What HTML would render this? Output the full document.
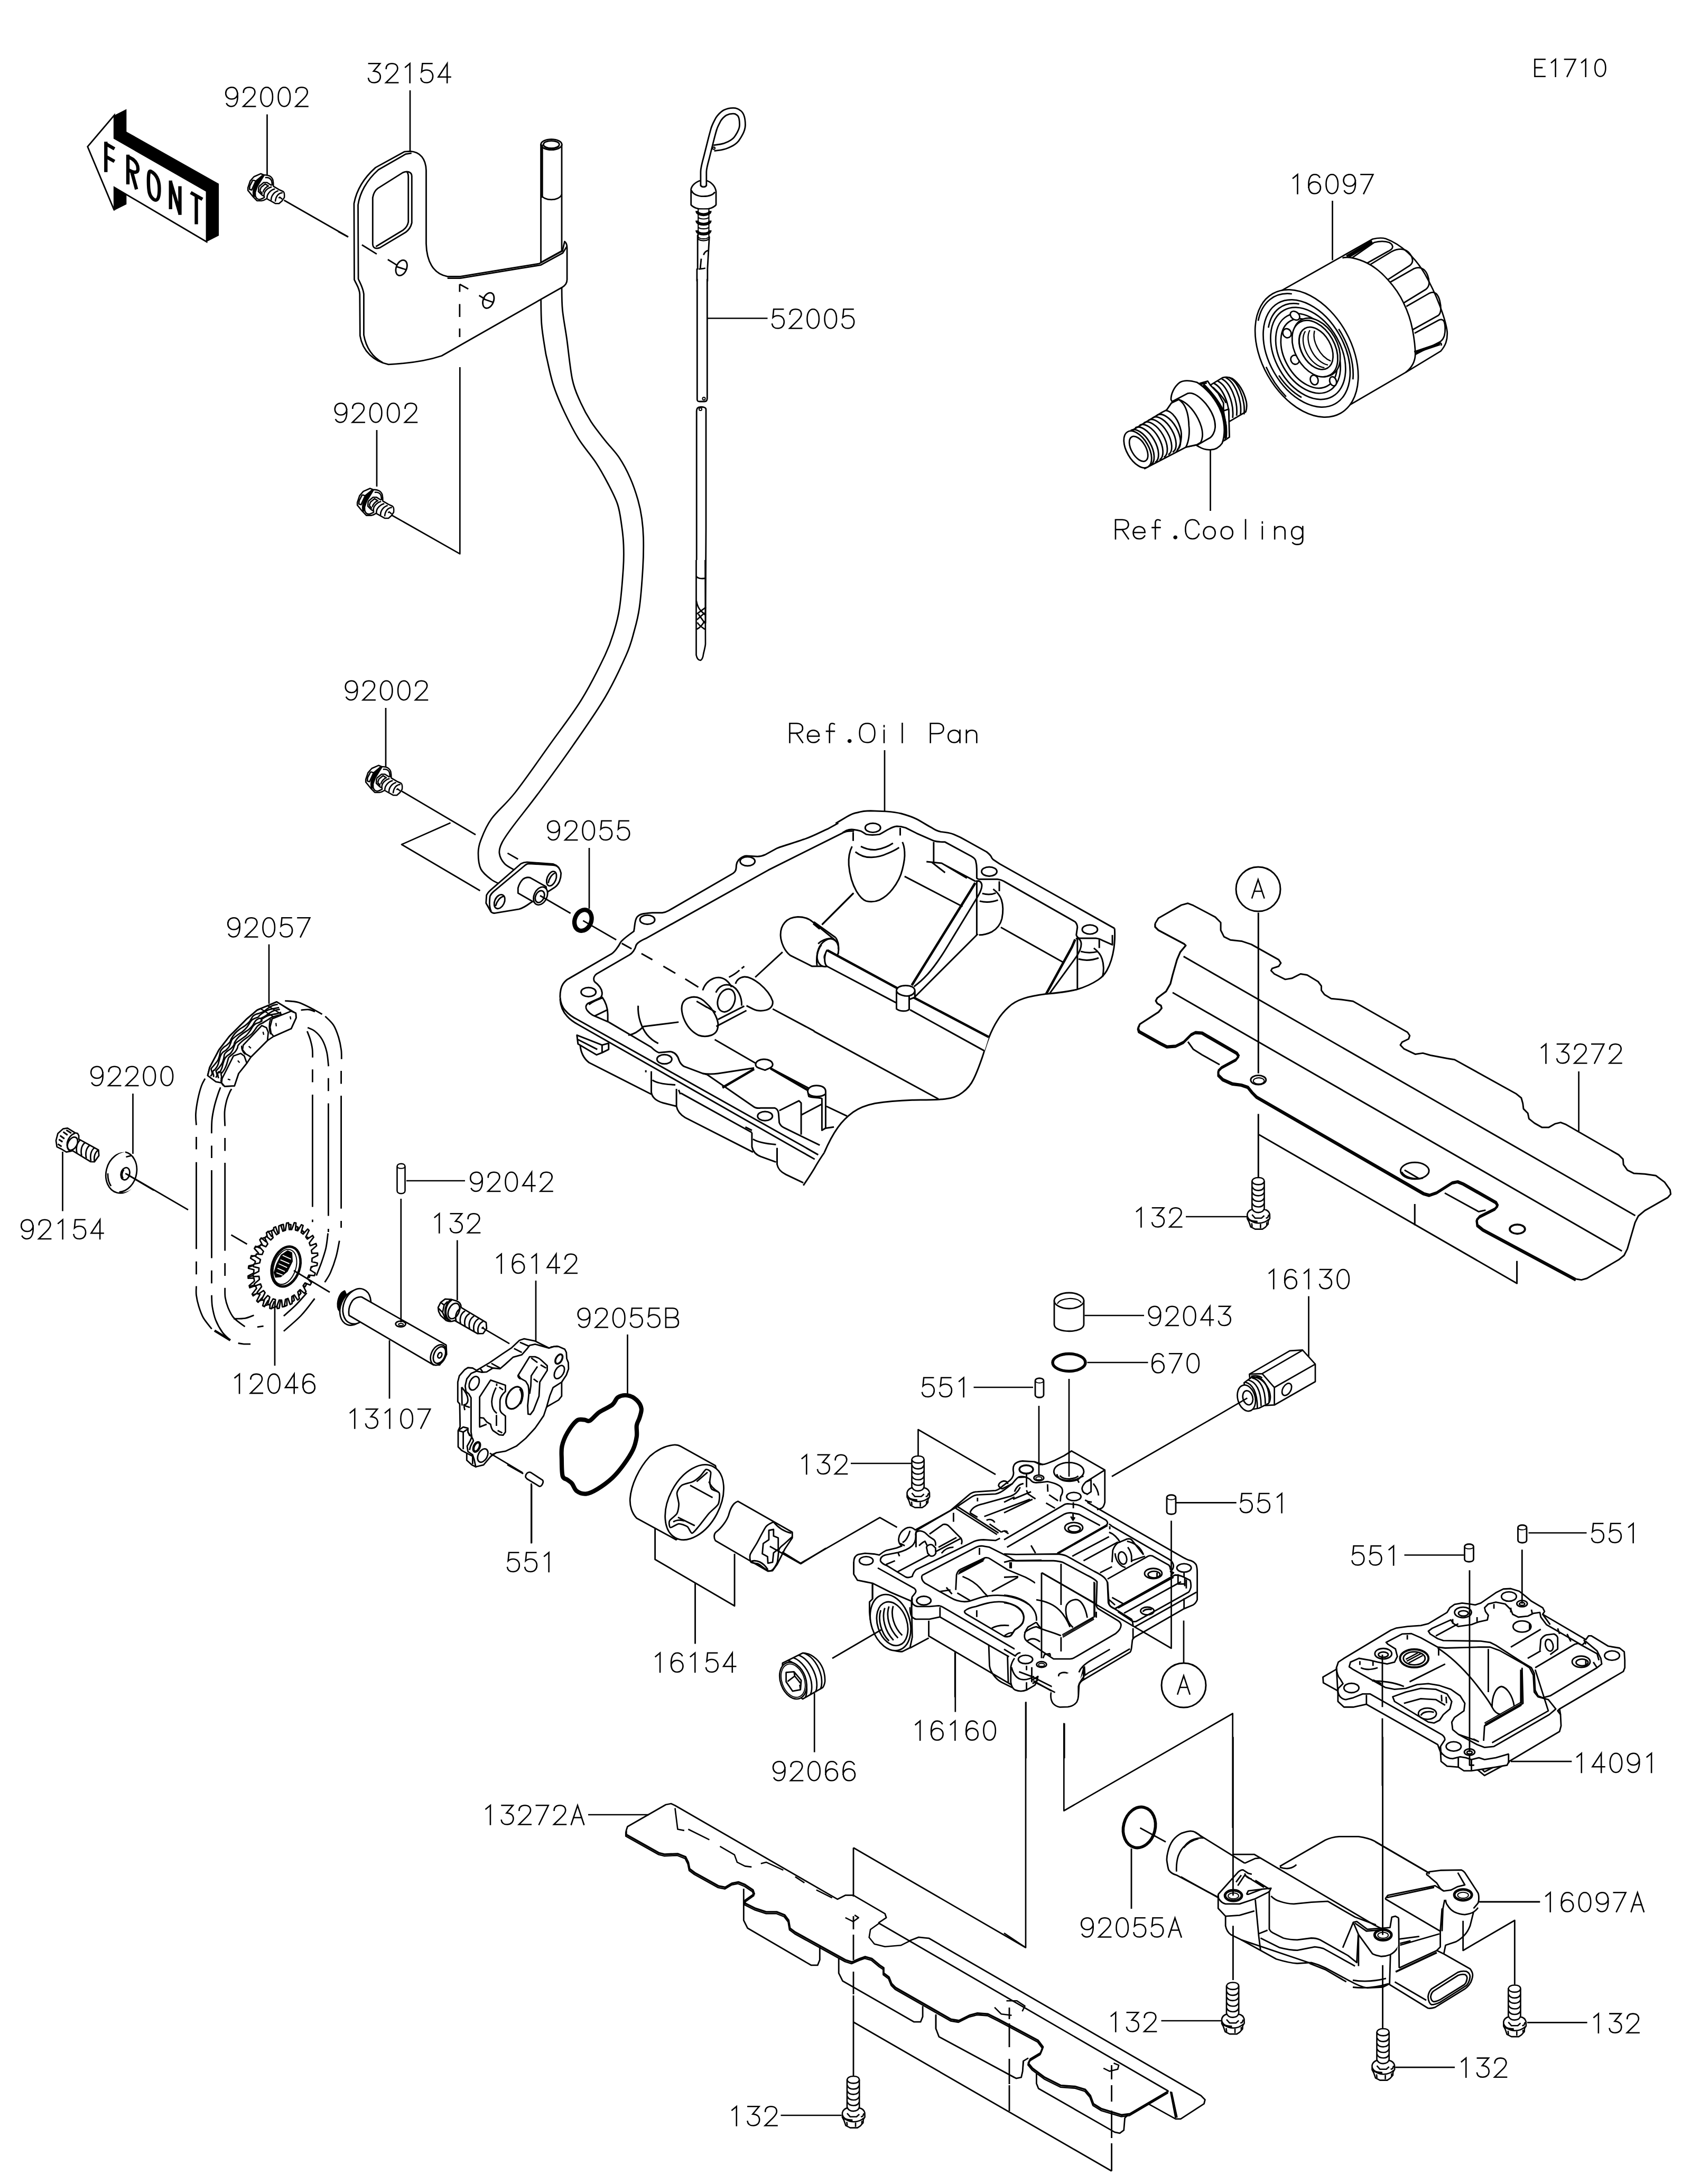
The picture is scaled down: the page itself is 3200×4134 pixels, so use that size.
<!DOCTYPE html>
<html><head><meta charset="utf-8"><title>E1710 parts diagram</title>
<style>html,body{margin:0;padding:0;background:#fff}svg{display:block}</style></head>
<body><svg width="3200" height="4134" viewBox="0 0 3200 4134" fill="none" stroke="#000" stroke-width="2.8" stroke-linecap="butt" stroke-linejoin="round" font-family="Liberation Sans, sans-serif">
<rect x="0" y="0" width="3200" height="4134" fill="#fff" stroke="none"/>
<!-- 00_defs.svg -->

<!-- 01_front.svg -->
<!-- FRONT arrow: origin(140,180) scale 5.6367 -->
<g transform="translate(140 180) scale(0.17741)" stroke-width="16" stroke-linejoin="miter">
<path fill="#000" stroke="none" d="M430,215 L560,150 L560,390 L1545,945 L1545,1500 L1415,1565 L1415,1025 L430,460 Z"/>
<path fill="#000" stroke="none" d="M430,985 L560,1060 L560,1165 L430,1230 Z"/>
<path fill="#fff" d="M145,550 L430,215 L430,460 L1415,1025 L1415,1565 L430,985 L430,1230 Z"/>
<g stroke-width="36" stroke-linejoin="miter" stroke-linecap="butt">
<path d="M340,498 V822 M340,520 L432,573 M340,655 L432,708"/>
<path d="M575,635 V952 M575,655 L620,680 C665,710 685,755 682,795 C680,830 640,830 600,808 L575,795 M615,815 L667,1005"/>
<path d="M818,812 C795,800 792,880 795,960 C798,1040 810,1085 850,1112 C900,1145 912,1070 910,990 C908,905 880,845 818,812Z"/>
<path d="M1030,912 V1218 M1030,925 L1130,1265 M1130,972 V1278"/>
<path d="M1245,1040 L1370,1112 M1305,1078 V1378"/>
</g>
</g>
<!-- 02_tube.py -->
<path d="M1023.6,560.0 C1023.8,568.9 1023.6,596.5 1024.9,613.6 C1026.2,630.7 1030.0,651.5 1031.7,662.6 C1033.4,673.7 1032.6,668.7 1035.2,680.0 C1037.8,691.3 1042.1,713.5 1047.6,730.3 C1053.1,747.0 1060.4,763.8 1068.3,780.5 C1076.2,797.2 1085.1,815.0 1094.9,830.8 C1104.8,846.6 1118.0,860.9 1127.4,875.2 C1136.8,889.5 1144.2,903.2 1151.1,916.5 C1158.0,929.8 1164.6,942.2 1168.8,955.0 C1173.0,967.8 1174.3,980.6 1176.2,993.4 C1178.1,1006.2 1179.5,1018.3 1180.0,1031.9 C1180.5,1045.5 1180.8,1055.3 1179.5,1075.0 C1178.2,1094.7 1175.4,1130.0 1172.5,1150.0 C1169.6,1170.0 1166.6,1180.0 1162.0,1195.0 C1157.4,1210.0 1155.3,1218.3 1145.0,1240.0 C1134.7,1261.7 1117.5,1296.7 1100.0,1325.0 C1082.5,1353.3 1060.8,1380.8 1040.0,1410.0 C1019.2,1439.2 993.3,1476.7 975.0,1500.0 C956.7,1523.3 940.8,1535.0 930.0,1550.0 C919.2,1565.0 914.2,1579.2 910.0,1590.0 C905.8,1600.8 905.0,1605.8 905.0,1615.0 C905.0,1624.2 905.8,1636.7 910.0,1645.0 C914.2,1653.3 923.7,1660.2 930.0,1665.0 C936.3,1669.8 945.0,1672.5 948.0,1674.0 L975.0,1647.5 C971.7,1645.4 960.0,1640.4 955.0,1635.0 C950.0,1629.6 945.8,1621.7 945.0,1615.0 C944.2,1608.3 945.8,1603.3 950.0,1595.0 C954.2,1586.7 958.3,1580.8 970.0,1565.0 C981.7,1549.2 1000.8,1525.8 1020.0,1500.0 C1039.2,1474.2 1064.2,1440.0 1085.0,1410.0 C1105.8,1380.0 1128.3,1348.3 1145.0,1320.0 C1161.7,1291.7 1175.8,1260.8 1185.0,1240.0 C1194.2,1219.2 1195.8,1210.0 1200.0,1195.0 C1204.2,1180.0 1207.2,1170.0 1210.0,1150.0 C1212.8,1130.0 1215.2,1096.7 1216.5,1075.0 C1217.8,1053.3 1217.9,1035.6 1217.6,1020.0 C1217.3,1004.4 1216.3,993.9 1214.6,981.6 C1212.9,969.3 1210.9,958.9 1207.2,946.1 C1203.5,933.3 1198.4,918.0 1192.5,904.7 C1186.6,891.4 1179.7,878.1 1171.8,866.3 C1163.9,854.5 1154.1,845.1 1145.2,833.8 C1136.3,822.5 1126.4,810.6 1118.5,798.3 C1110.6,786.0 1103.7,773.1 1097.8,759.8 C1091.9,746.5 1087.3,738.2 1083.1,718.4 C1078.9,698.6 1075.6,662.8 1072.5,640.8 C1069.4,618.8 1066.0,603.2 1064.4,586.4 C1062.8,569.6 1063.2,547.7 1063.0,540.0Z" fill="#fff" stroke="none"/><path d="M1023.6,560.0 C1023.8,568.9 1023.6,596.5 1024.9,613.6 C1026.2,630.7 1030.0,651.5 1031.7,662.6 C1033.4,673.7 1032.6,668.7 1035.2,680.0 C1037.8,691.3 1042.1,713.5 1047.6,730.3 C1053.1,747.0 1060.4,763.8 1068.3,780.5 C1076.2,797.2 1085.1,815.0 1094.9,830.8 C1104.8,846.6 1118.0,860.9 1127.4,875.2 C1136.8,889.5 1144.2,903.2 1151.1,916.5 C1158.0,929.8 1164.6,942.2 1168.8,955.0 C1173.0,967.8 1174.3,980.6 1176.2,993.4 C1178.1,1006.2 1179.5,1018.3 1180.0,1031.9 C1180.5,1045.5 1180.8,1055.3 1179.5,1075.0 C1178.2,1094.7 1175.4,1130.0 1172.5,1150.0 C1169.6,1170.0 1166.6,1180.0 1162.0,1195.0 C1157.4,1210.0 1155.3,1218.3 1145.0,1240.0 C1134.7,1261.7 1117.5,1296.7 1100.0,1325.0 C1082.5,1353.3 1060.8,1380.8 1040.0,1410.0 C1019.2,1439.2 993.3,1476.7 975.0,1500.0 C956.7,1523.3 940.8,1535.0 930.0,1550.0 C919.2,1565.0 914.2,1579.2 910.0,1590.0 C905.8,1600.8 905.0,1605.8 905.0,1615.0 C905.0,1624.2 905.8,1636.7 910.0,1645.0 C914.2,1653.3 923.7,1660.2 930.0,1665.0 C936.3,1669.8 945.0,1672.5 948.0,1674.0"/><path d="M1063.0,540.0 C1063.2,547.7 1062.8,569.6 1064.4,586.4 C1066.0,603.2 1069.4,618.8 1072.5,640.8 C1075.6,662.8 1078.9,698.6 1083.1,718.4 C1087.3,738.2 1091.9,746.5 1097.8,759.8 C1103.7,773.1 1110.6,786.0 1118.5,798.3 C1126.4,810.6 1136.3,822.5 1145.2,833.8 C1154.1,845.1 1163.9,854.5 1171.8,866.3 C1179.7,878.1 1186.6,891.4 1192.5,904.7 C1198.4,918.0 1203.5,933.3 1207.2,946.1 C1210.9,958.9 1212.9,969.3 1214.6,981.6 C1216.3,993.9 1217.3,1004.4 1217.6,1020.0 C1217.9,1035.6 1217.8,1053.3 1216.5,1075.0 C1215.2,1096.7 1212.8,1130.0 1210.0,1150.0 C1207.2,1170.0 1204.2,1180.0 1200.0,1195.0 C1195.8,1210.0 1194.2,1219.2 1185.0,1240.0 C1175.8,1260.8 1161.7,1291.7 1145.0,1320.0 C1128.3,1348.3 1105.8,1380.0 1085.0,1410.0 C1064.2,1440.0 1039.2,1474.2 1020.0,1500.0 C1000.8,1525.8 981.7,1549.2 970.0,1565.0 C958.3,1580.8 954.2,1586.7 950.0,1595.0 C945.8,1603.3 944.2,1608.3 945.0,1615.0 C945.8,1621.7 950.0,1629.6 955.0,1635.0 C960.0,1640.4 971.7,1645.4 975.0,1647.5"/>
<!-- 03_bracket.svg -->
<!-- bracket 32154 + tube top: origin(640,260) scale 3.676 -->
<g transform="translate(640 260) scale(0.27203)" stroke-width="10.3">
<!-- tube top behind strap -->
<path fill="#fff" d="M1410,50 V870 L1555,790 V50 Z"/>
<ellipse cx="1483" cy="50" rx="73" ry="37" fill="#fff"/>
<ellipse cx="1483" cy="50" rx="55" ry="26"/>
<path d="M1432,62 C1450,82 1515,82 1535,62"/>
<path d="M1410,398 C1430,445 1535,445 1555,398"/>
<path d="M1420,50 V420"/>
<!-- bracket plate -->
<path fill="#fff" d="M500,97 C570,100 610,150 612,230 L612,740 C615,860 660,950 760,968 L850,968 L1400,878 L1560,790 L1575,725 C1590,735 1592,750 1592,770 L1592,990 C1592,1015 1580,1030 1560,1042 L720,1520 C600,1560 450,1575 350,1580 C250,1560 170,1490 152,1380 L150,1090 C148,1050 130,1030 112,990 L110,460 C125,380 170,290 260,210 L460,100 Z"/>
<path d="M510,110 L470,116 L280,225 C195,300 150,390 138,470 L140,985 C155,1020 172,1045 178,1090 L178,1375 C195,1470 240,1530 310,1568"/>
<path d="M760,980 L850,980 L1410,888 L1562,805 L1590,760"/>
<path d="M240,420 C245,390 255,370 275,355 L450,245 C480,232 512,240 512,270 L512,595 C505,625 490,645 470,660 L290,768 C260,778 240,770 240,740 Z"/>
<path d="M478,240 C487,250 488,262 488,275 L488,588 C484,610 470,632 452,645 L262,760"/>
<ellipse cx="440" cy="908" rx="36" ry="56" transform="rotate(22 440 908)"/>
<path d="M408,900 L470,920 M345,850 L410,890"/>
<ellipse cx="1045" cy="1135" rx="36" ry="56" transform="rotate(22 1045 1135)"/>
<path d="M1012,1125 L1078,1148 M980,1100 L1020,1125"/>
<!-- dashed leaders -->
<path d="M0,655 L68,692 M165,748 L268,812"/>
<path d="M845,1022 L905,1055 M845,1022 V1075 M845,1160 V1250 M845,1330 V1390"/>
</g>
<!-- 04_dipstick.svg -->
<!-- dipstick top: origin(1280,190) scale 6.425 -->
<g transform="translate(1280 190) scale(0.15564)" stroke-width="18" stroke-linecap="butt">
<!-- loop (end -> top -> split) -->
<path d="M455,580 L540,568 C600,560 690,520 730,470 C780,400 803,350 803,300 C803,230 790,170 755,150 C735,130 720,127 690,127 C650,127 620,135 590,150 C550,175 530,200 510,230 C490,270 470,300 455,350" stroke-width="88"/>
<path d="M455,580 L540,568 C600,560 690,520 730,470 C780,400 803,350 803,300 C803,230 790,170 755,150 C735,130 720,127 690,127 C650,127 620,135 590,150 C550,175 530,200 510,230 C490,270 470,300 455,352" stroke="#fff" stroke-width="52"/>
<circle cx="455" cy="582" r="14" fill="#fff" stroke-width="14"/>
<!-- cap -->
<path fill="#fff" d="M178,1080 C185,1040 230,990 295,975 L365,975 C430,995 475,1050 482,1110 L482,1270 C460,1300 400,1325 330,1325 C260,1325 200,1300 178,1270 Z"/>
<path d="M183,1095 C200,1140 260,1167 330,1167 C400,1167 450,1145 468,1115"/>
<!-- stem -->
<path d="M457,345 C440,400 420,480 410,520 L365,700 C340,790 330,830 330,870 L330,1040" stroke-width="88"/>
<path d="M458,340 C440,400 420,480 410,520 L365,700 C340,790 330,830 330,870 L330,1040" stroke="#fff" stroke-width="52"/>
<path d="M295,1030 C300,1060 360,1060 365,1030"/>
<!-- shaft below ribs -->
<path fill="#fff" d="M250,2200 V2052 H258 V1640 L400,1660 L378,2050 V2200"/>
<path d="M330,1880 C340,1850 355,1832 385,1825 M302,1925 L290,2045 M272,2052 C300,2048 330,2046 352,2040"/>
<!-- ribs -->
<path fill="#fff" stroke-width="14" d="M265,1320 V1690 C300,1712 360,1712 395,1690 V1320Z"/>
<g stroke-width="36" fill="none">
<path d="M250,1345 C250,1405 410,1405 410,1345"/>
<path d="M250,1462 C250,1522 410,1522 410,1462"/>
<path d="M250,1580 C250,1640 410,1640 410,1580"/>
</g>
<path d="M268,1425 C290,1448 370,1448 392,1425 M268,1545 C290,1568 370,1568 392,1545 M268,1665 C290,1690 370,1690 392,1665" stroke-width="14"/>
</g>
<!-- dipstick blade middle (src coords) -->
<path fill="#fff" d="M1319.3,528 V756 C1319.3,759.5 1321,760 1324,760 H1333 C1337,760 1338.3,758 1338.3,754 V528"/>
<circle cx="1332" cy="754.5" r="2.6" stroke-width="2"/>
<path fill="#fff" d="M1318.2,1180 V778 C1318.2,772 1321,770.5 1325,770.3 C1330,770 1336,771 1336,775 V1000 L1335,1180"/>
<circle cx="1325.5" cy="774.5" r="2.6" stroke-width="2"/>
<!-- dipstick tip: origin(1260,1060) scale 10.4 -->
<g transform="translate(1260 1060) scale(0.09615)" stroke-width="28">
<path fill="#fff" d="M598,0 V1870 C610,1930 640,1975 680,1975 C715,1965 730,1930 740,1850 C760,1760 778,1700 780,1650 L775,0"/>
<path d="M600,318 C620,365 700,372 770,360"/>
<path d="M600,800 C615,880 640,950 690,1000 L785,1090 M790,930 L610,1062 M640,1065 L770,1245 M612,1175 L765,1040 M620,1230 C650,1290 720,1330 770,1365 M610,1362 C680,1330 730,1260 762,1200"/>
</g>
<!-- 05_filter.svg -->
<!-- oil filter 16097: origin(2340,420) scale 3.843 -->
<g transform="translate(2340 420) scale(0.26021)" stroke-width="10.5">
<!-- body silhouette -->
<path fill="#fff" d="M270,532 L990,125 C1030,115 1060,115 1085,122 C1200,165 1300,260 1370,380 C1450,520 1520,700 1532,800 C1535,860 1520,900 1485,940 L1230,1095 L747,1376 Z"/>
<!-- grip boundary arc -->
<path d="M770,262 C800,255 820,258 840,262 C880,270 915,282 950,300 C1010,330 1060,375 1100,420 C1150,475 1190,535 1215,590 C1245,650 1268,720 1280,785 C1292,850 1300,910 1300,965 C1298,1020 1275,1060 1230,1095"/>
<!-- flutes -->
<path d="M840,262 L1000,150 C1040,140 1080,140 1110,150 C1130,160 1140,175 1132,192 C1125,202 1115,208 1100,215 L950,300"/>
<path d="M970,312 L1130,215 C1160,200 1195,195 1222,203 C1255,215 1280,250 1280,285 C1278,300 1272,308 1262,316 L1100,420"/>
<path d="M1115,440 L1290,340 C1315,330 1340,332 1360,345 C1385,365 1402,410 1400,450 C1398,468 1390,480 1378,490 L1215,590"/>
<path d="M1235,615 L1400,520 C1420,510 1440,512 1452,522 C1475,545 1488,600 1485,640 C1483,660 1478,672 1468,680 L1280,785"/>
<path d="M1295,810 L1470,715 C1485,708 1500,710 1508,722 C1518,745 1520,790 1512,825 C1506,848 1495,862 1480,872 L1300,965"/>
<path d="M1292,945 L1478,882 C1488,880 1492,888 1488,900"/>
<path d="M800,250 L985,140 M815,255 L990,150 M1300,950 L1480,890" stroke-width="16"/>
<!-- front face -->
<g transform="translate(510 957) rotate(60.5)">
<ellipse cx="0" cy="0" rx="500" ry="325" fill="#fff"/>
<ellipse cx="0" cy="0" rx="421" ry="274"/>
<ellipse cx="5" cy="-9" rx="360" ry="238"/>
<ellipse cx="5" cy="-9" rx="312" ry="205"/>
<ellipse cx="8" cy="-15" rx="272" ry="178"/>
<path d="M-380,190 A470,300 0 0,1 -430,-120 M200,285 A480,305 0 0,1 -60,305 M-40,-290 A450,290 0 0,1 330,-200 M-300,150 A395,255 0 0,1 -340,-130 M40,255 A390,255 0 0,0 260,190" />
</g>
<!-- holes -->
<g fill="#fff">
<ellipse cx="425" cy="682" rx="38" ry="28" transform="rotate(40 425 682)"/>
<ellipse cx="367" cy="810" rx="34" ry="30" transform="rotate(60 367 810)"/>
<ellipse cx="425" cy="1003" rx="34" ry="30" transform="rotate(60 425 1003)"/>
<ellipse cx="565" cy="1150" rx="36" ry="28" transform="rotate(70 565 1150)"/>
<ellipse cx="702" cy="1160" rx="34" ry="24" transform="rotate(70 702 1160)"/>
</g>
<!-- boss -->
<g transform="translate(582 912) rotate(60.5)">
<ellipse cx="0" cy="0" rx="228" ry="150" fill="#fff"/>
</g>
<g transform="translate(570 922) rotate(60.5)">
<ellipse cx="0" cy="0" rx="221" ry="144" fill="#fff"/>
<ellipse cx="2" cy="-8" rx="166" ry="107"/>
<path d="M-150,30 A164,104 0 0,0 150,40 M-145,-2 A160,100 0 0,0 155,8 M-135,-34 A155,95 0 0,0 150,-24 M-115,-62 A150,90 0 0,0 135,-56" stroke-width="9"/>
</g>
</g>
<!-- 06_fitting.py -->
<g transform="translate(2100 690) scale(0.16559)" stroke-width="17">
<path fill="#fff" d="M1150,235 L1290,150 C1330,140 1370,145 1400,160 C1470,210 1530,300 1560,420 C1570,470 1565,510 1555,540 L1370,650 Z"/>
<path d="M1190,215 C1280,255 1380,445 1360,635"/>
<path d="M1235,190 C1325,230 1425,420 1405,610"/>
<path d="M1280,165 C1370,205 1470,395 1450,585"/>
<path d="M1325,150 C1415,190 1515,380 1495,570"/>
<path d="M1365,150 C1455,190 1555,380 1535,570"/>
<path d="M1230,310 C1270,350 1310,400 1330,440 M1180,260 L1230,310"/>
<path fill="#fff" d="M1030,215 L1120,190 L1150,235 L1240,330 L1300,440 L1300,530 L1360,510 L1368,830 L1320,862 L1250,900 L1000,300 Z"/>
<path d="M1300,530 L1330,700 L1320,862 M1040,225 L1110,210 M1075,225 C1150,300 1250,420 1300,530" />
<path d="M1060,240 C1150,320 1240,440 1290,560 C1320,640 1335,740 1325,840" stroke-width="30"/>
<path fill="#fff" d="M700,400 C700,340 730,260 800,205 C840,180 900,175 1000,205 C1120,280 1230,420 1280,560 C1315,680 1320,800 1285,900 C1250,950 1200,975 1150,975 C1110,975 1060,965 1020,940 L985,920 Z"/>
<path fill="#fff" d="M720,420 L890,330 C960,310 1040,380 1100,450 C1170,540 1210,640 1205,720 C1200,780 1170,820 1150,835 L1010,915 L870,945 Z"/>
<path fill="#fff" d="M600,545 L650,520 L705,440 L790,400 C860,420 950,500 1010,620 C1060,720 1075,820 1040,890 L1000,915 L870,945 L400,1190 L260,750 Z"/>
<path d="M790,400 C850,440 900,520 905,700 C915,780 905,880 870,945"/>
<path d="M640,525 C720,535 790,640 815,760 C830,850 800,950 760,1000"/>
<path transform="translate(354.6 950.0) rotate(60)" d="M-228,0 A228,118 0 0,1 228,0"/>
<path transform="translate(404.9 921.0) rotate(60)" d="M-228,0 A228,118 0 0,1 228,0"/>
<path transform="translate(455.1 892.0) rotate(60)" d="M-228,0 A228,118 0 0,1 228,0"/>
<path transform="translate(505.3 863.0) rotate(60)" d="M-228,0 A228,118 0 0,1 228,0"/>
<path transform="translate(555.6 834.0) rotate(60)" d="M-228,0 A228,118 0 0,1 228,0"/>
<path transform="translate(605.8 805.0) rotate(60)" d="M-228,0 A228,118 0 0,1 228,0"/>
<path transform="translate(656.0 776.0) rotate(60)" d="M-228,0 A228,118 0 0,1 228,0"/>
<ellipse transform="translate(320.0 970.0) rotate(60)" rx="232" ry="125" fill="#fff"/>
<ellipse transform="translate(330.4 964.0) rotate(60)" rx="158" ry="82"/>
</g>
<!-- 07_flange.svg -->
<!-- tube flange + o-ring 92055: origin(880,1560) scale 5.284 -->
<g transform="translate(880 1560) scale(0.18925)" stroke-width="15">
<path fill="#fff" d="M210,790 L215,710 C225,690 240,672 255,660 L560,395 C585,382 600,380 620,380 L880,398 C920,410 950,440 960,490 C960,520 955,545 945,570 C935,595 920,615 900,630 L830,675 L650,790 C610,820 570,842 540,850 L300,890 C280,892 265,885 255,870 Z"/>
<path d="M245,800 C245,770 246,745 250,720 C258,700 272,685 290,670 L590,420 C605,405 620,396 640,395 L880,410 C910,412 930,425 940,440"/>
<path d="M245,800 C247,830 252,855 262,872"/>
<ellipse cx="865" cy="545" rx="44" ry="76" transform="rotate(22 865 545)"/>
<path d="M832,590 C840,540 870,500 900,490" />
<ellipse cx="345" cy="775" rx="48" ry="74" transform="rotate(25 345 775)"/>
<path d="M305,820 C318,770 350,730 385,722"/>
<!-- boss -->
<path fill="#fff" d="M530,690 L530,640 C540,600 560,570 580,550 C600,535 630,530 650,535 L810,625 L820,700 L760,800 L680,775 Z"/>
<ellipse cx="755" cy="718" rx="64" ry="94" transform="rotate(25 755 718)" fill="#fff"/>
<ellipse cx="748" cy="725" rx="42" ry="62" transform="rotate(25 748 725)"/>
<path d="M425,290 L530,350"/>
<path d="M750,715 L1055,892"/>
<!-- o-ring -->
<ellipse cx="1180" cy="962" rx="82" ry="108" transform="rotate(22 1180 962)" stroke-width="44" fill="#fff"/>
<path d="M1180,965 L1512,1157"/>
</g>
<!-- 08_oilpan.svg -->
<!-- oil pan left part P1: origin(1040,1560) scale 2.4157 -->
<g transform="translate(1040 1560) scale(0.41396)" stroke-width="7.2">
<!-- rim outer upper-left -->
<path d="M48,790 C48,770 52,745 62,730 C70,718 80,710 90,705 L280,595 C295,588 315,560 325,540 C335,525 365,505 385,490 C390,470 388,440 400,425 C410,412 425,408 470,405 L515,405 C530,403 540,398 545,395 L830,230 C845,222 852,215 853,200 C853,180 860,165 870,158 C880,150 890,145 900,145 L950,148 C965,148 975,145 985,140 L1040,110 C1080,95 1120,85 1160,70 C1200,58 1240,35 1275,20 L1320,-5"/>
<!-- rim inner upper-left -->
<path d="M205,720 C198,705 205,692 215,685 L365,598 C378,590 392,572 395,555 C398,545 410,535 445,520 L1000,210 L1340,40 C1355,32 1370,30 1392,32"/>
<!-- corner boss wrap -->
<path d="M205,720 C225,735 238,750 240,770 C241,782 238,790 230,795 L175,820 C165,828 163,840 172,852 C180,862 190,870 200,875 L270,905"/>
<path d="M240,790 C258,815 266,840 266,870 L266,905 M205,878 L262,850 M180,825 C200,808 225,800 240,795"/>
<!-- holes -->
<g fill="#fff">
<ellipse cx="178" cy="768" rx="34" ry="21"/><ellipse cx="447" cy="437" rx="34" ry="21"/><ellipse cx="905" cy="170" rx="34" ry="21"/>
<ellipse cx="525" cy="1075" rx="34" ry="21"/><ellipse cx="985" cy="1335" rx="34" ry="21"/>
</g>
<!-- left corner + lower-left rim -->
<path d="M48,790 C50,815 58,838 72,852 C85,868 100,880 130,895 L1160,1473 L1228,1512"/>
<path d="M48,800 C50,830 58,855 80,878 C95,895 110,905 130,916 L1150,1497 L1212,1532"/>
<!-- rim inner lower-left edge -->
<path d="M270,905 L465,1020 C475,1030 485,1040 500,1045 L550,1040 C570,1042 585,1055 592,1080 C598,1095 605,1102 615,1108 L700,1140 L720,1145 L930,1290 C940,1298 950,1300 965,1298 L1030,1298 C1042,1302 1046,1312 1047,1325 L1050,1365 C1055,1378 1062,1384 1072,1388 L1235,1468"/>
<!-- inner details -->
<path d="M405,830 C402,880 420,930 445,962 C460,980 475,992 497,1003"/>
<path d="M360,965 C385,962 405,950 430,925 L590,905"/>
<path d="M700,1140 C730,1145 750,1143 770,1140 L935,1115"/>
<path d="M755,985 L945,1095 M1020,845 L1210,946 M940,700 L1065,585 M1245,460 L1390,315"/>
<path d="M790,1205 L935,1120 M1010,1117 L1182,1217" stroke-width="11"/>
<path d="M1000,1110 L1190,1210" />
<!-- small bosses -->
<path fill="#fff" d="M942,1100 C942,1085 960,1075 980,1075 C1002,1075 1020,1085 1020,1100 C1020,1108 1012,1114 1000,1118 L985,1125 L965,1118 C950,1114 942,1108 942,1100Z"/>
<path fill="#fff" d="M1180,1222 C1180,1205 1198,1195 1220,1195 C1245,1195 1262,1205 1262,1222 L1262,1390 L1245,1400 L1245,1255 C1235,1250 1200,1252 1185,1245 Z"/>
<path d="M1182,1232 C1195,1248 1240,1250 1260,1235"/>
<path d="M1050,1310 L1140,1265 L1150,1275 L1150,1420 M1150,1330 L1245,1280 M1265,1290 L1360,1335 M1262,1390 L1300,1385"/>
<!-- drain boss cluster -->
<path fill="#fff" d="M605,830 C610,805 630,792 660,790 C680,790 700,800 720,822 C745,845 765,880 770,910 C772,940 760,958 740,965 C720,972 700,972 680,965 C650,950 625,920 612,885 C605,865 602,848 605,830Z"/>
<path fill="#fff" d="M850,730 C855,712 870,700 890,698 C910,697 935,710 960,730 C990,755 1012,785 1020,810 C1022,830 1010,845 990,850 C970,855 950,855 930,845 L900,830"/>
<path d="M700,760 C708,735 725,715 750,705 C770,698 790,702 805,712 C818,722 826,732 832,745"/>
<path d="M820,700 C840,690 855,680 868,668 M878,660 L890,650" />
<ellipse cx="808" cy="806" rx="38" ry="54" transform="rotate(20 808 806)" fill="#fff"/>
<path d="M760,770 C775,740 800,728 830,738 C860,750 880,790 878,830"/>
<path d="M770,893 L890,832 M762,925 L900,852 M672,810 L760,860 M690,820 L720,838" />
<!-- big cylinder boss + pipe -->
<path fill="#fff" d="M1075,450 C1090,432 1110,425 1135,424 C1160,424 1185,432 1200,445 L1305,530 L1320,590 L1250,650 L1200,650 L1100,600 C1075,580 1058,545 1056,510 C1055,485 1062,465 1075,450Z"/>
<ellipse cx="1272" cy="588" rx="46" ry="66" transform="rotate(22 1272 588)" fill="#fff"/>
<path fill="#fff" d="M1265,590 L1600,770 L1595,808 L1262,625 C1252,612 1255,598 1265,590Z"/>
<path d="M1268,588 L1600,768" stroke-width="11"/>
<path d="M1205,455 L1235,480" />
<!-- exterior lower-left -->
<path fill="#fff" d="M125,965 L240,1010 L270,1002 L270,1030 L240,1045 L215,1055 L130,1005 Z"/>
<path d="M240,1010 L240,1045 M130,985 L218,1030"/>
<path d="M140,1010 C142,1040 155,1070 180,1090 L465,1235"/>
<path d="M465,1130 L465,1225 C468,1250 485,1265 520,1275 L580,1290 M580,1210 L580,1290 C585,1315 600,1330 620,1342 L930,1500"/>
<path d="M925,1410 L925,1475 C930,1500 945,1512 965,1520 L1035,1545 M1040,1480 L1040,1555 C1045,1580 1060,1592 1080,1602 L1160,1640"/>
<path d="M470,1170 C490,1185 530,1190 575,1192 M930,1440 C950,1455 1000,1462 1035,1465 M600,1230 L925,1410" />
<path d="M440,1125 L440,1135 M590,1215 L598,1235 M895,1385 L925,1400" />
</g>
<g transform="translate(1040 1560) scale(0.41396)" stroke-width="7.2">
<path d="M1256,1502 C1240,1525 1225,1548 1210,1575 C1192,1605 1175,1630 1160,1652"/>
<path d="M330,545 L375,570 M420,592 L470,620 M520,650 L575,682 M620,708 L680,745"/>
</g>
<!-- oil pan right part P2: origin(1540,1480) scale 2.4157 -->
<g transform="translate(1540 1480) scale(0.41396)" stroke-width="7.2">
<path d="M100,190 L150,160 C170,148 185,142 200,140 C220,134 240,132 260,132 L330,135 C355,137 380,140 400,145 C425,152 450,160 470,170 C495,183 520,200 540,210 C555,220 565,225 580,228 C600,230 620,232 640,240 C660,248 680,258 700,270 L790,320 C800,328 806,334 810,340 C813,348 816,352 820,355 L850,375 L1375,670"/>
<path d="M1375,670 C1377,700 1376,730 1372,760 C1366,800 1355,835 1340,862 C1330,880 1318,893 1300,905 C1270,925 1235,940 1200,950 C1150,962 1105,966 1060,970 C1020,975 985,982 960,990 C930,1000 908,1012 890,1030 C868,1050 852,1070 840,1090 C822,1118 810,1145 800,1170 C788,1200 780,1230 770,1260 C758,1295 745,1330 730,1360 C718,1385 700,1405 680,1420 C658,1438 630,1447 600,1450 C550,1455 500,1454 450,1455 C390,1457 330,1462 280,1470 C240,1478 208,1490 180,1510 C150,1532 128,1555 110,1580 C85,1615 65,1655 48,1695"/>
<!-- rim inner upper -->
<path d="M132,232 L150,222 C160,218 170,217 180,218 C195,220 205,222 215,225 C225,230 232,236 240,240 C260,244 280,243 300,240 C318,232 330,222 345,215 C358,208 368,204 380,203 C395,203 408,206 420,210 L470,235 L550,270 C568,275 582,274 600,275 L720,340 C730,346 738,352 740,360 C744,375 745,388 745,400 L745,440 C750,446 755,446 760,445 L840,445 C852,446 862,450 870,455 L1195,640 C1202,648 1205,656 1205,665 L1200,700 C1203,710 1208,714 1215,715 L1290,715 C1302,716 1312,720 1320,725 L1365,745 L1365,700"/>
<g fill="#fff"><ellipse cx="270" cy="210" rx="35" ry="21"/><ellipse cx="802" cy="410" rx="35" ry="21"/><ellipse cx="1262" cy="675" rx="35" ry="21"/></g>
<!-- tall boss -->
<path d="M180,230 L180,270 M395,210 L395,245"/>
<path d="M175,295 C162,320 158,350 160,380 C164,425 178,470 195,500 C210,525 225,540 240,545 C262,550 282,548 300,540 C325,528 345,510 360,490 C382,462 398,430 405,400 C413,370 417,345 415,320 C414,300 410,285 405,275"/>
<path d="M190,320 C215,340 240,346 265,345 C290,344 315,338 335,328 C355,320 375,310 390,300 M215,295 C240,308 260,312 285,310 C315,305 340,295 362,280"/>
<path d="M415,432 L680,570 M548,275 L548,365 M515,365 L585,372 L700,440 M540,368 L600,415 M590,375 L740,455 M40,650 L180,510 M0,640 L100,712"/>
<!-- baffle 1 -->
<path d="M738,462 L715,500 L448,930" stroke-width="11"/>
<path d="M742,458 C752,448 765,455 768,470 C770,490 755,515 740,540 L600,770 C572,815 545,852 520,880 C500,902 480,920 458,936"/>
<!-- boss 2 -->
<path d="M745,450 L745,700 M848,455 L848,500"/>
<path d="M820,490 C840,505 852,520 858,540 C866,565 866,595 860,625 C854,650 840,670 815,685 C795,695 775,700 755,700"/>
<path d="M770,510 C790,516 815,515 832,508 M758,545 C785,552 815,550 842,540"/>
<path d="M750,695 L460,985 M855,665 L1140,825"/>
<!-- baffle 2 -->
<path d="M1195,720 L1180,755 L1062,970" stroke-width="11"/>
<path d="M1198,718 C1208,712 1218,718 1222,735 C1225,755 1215,775 1200,800 L1078,968"/>
<!-- boss 3 -->
<path d="M1205,715 L1205,945 M1305,720 L1305,760"/>
<path d="M1280,760 C1300,775 1312,790 1318,810 C1326,835 1326,865 1320,892"/>
<path d="M1220,775 C1245,782 1275,782 1300,775 M1210,810 C1240,818 1275,815 1302,805"/>
<!-- small cylinder + pipe -->
<path fill="#fff" d="M60,770 L385,945 L380,1012 L60,843 C45,830 48,790 60,770Z"/>
<path d="M62,770 L385,945" stroke-width="11"/>
<path d="M100,712 C112,730 115,745 112,765 M20,740 C35,725 60,715 90,716 M15,840 C10,810 15,770 35,745"/>
<path fill="#fff" d="M440,985 L800,1168 L780,1232 L438,1042 Z" stroke="none"/>
<path d="M455,985 L800,1167" stroke-width="11"/>
<path d="M440,1042 L780,1230"/>
<path fill="#fff" d="M378,955 C378,940 396,931 420,931 C444,931 462,940 462,955 L462,985 L436,995 L436,1040 C425,1052 392,1050 378,1038 Z"/>
<path d="M378,957 C385,975 420,982 436,978 C450,975 458,968 462,958 M436,980 L436,1040"/>
<path d="M0,1140 L570,1450"/>
<!-- bottom left from P1 continuing: boss right (P1 1220,1215) appears at (12,1408) -->
</g>
<!-- 09_plate13272.py -->
<g transform="translate(2130 1680) scale(0.41396)" stroke-width="7.2">
<path d="M285,705 L310,740 L350,765 L430,810"/>
<path d="M1459,1397 L1614,1482 L1646,1475"/>
<path d="M135,165 L150,140 L255,80 L285,72 L310,82 L410,135 L435,160 L435,195 L450,225 L480,240 L530,245 L575,260 L700,330 L710,345 L700,360 L670,370 L665,380 L680,395 L730,420 L760,415 L800,395 L830,400 L880,430 L895,450 L895,470 L910,490 L940,508 L985,512 L1040,520 L1289,662 L1299,677 L1294,692 L1264,707 L1256,720 L1272,737 L1324,762 L1359,757 L1394,767 L1474,782 L1504,787 L1784,942 L1809,962 L1816,987 L1819,1012 L1839,1032 L1844,1057 L1869,1077 L1904,1097 L1934,1097 L1964,1080 L1989,1074 L2014,1084 L2254,1222 L2274,1242 L2276,1267 L2294,1292 L2324,1307 L2374,1310 L2424,1317 L2464,1347 L2489,1382 L2492,1402 L2479,1417 L2374,1477 L2344,1502 L2329,1532 L2294,1652 L2279,1682 L2254,1702 L2109,1787 L2084,1794 L2059,1790 L2059,1790 L1634,1562 L1609,1542 L1606,1517 L1619,1502 L1689,1467 L1702,1452 L1694,1437 L1544,1352 L1519,1342 L1494,1347 L1424,1392 L1389,1404 L1364,1397 L600,955 L580,935 L560,910 L530,900 L490,895 L445,875 L425,855 L425,835 L440,820 L505,785 L518,768 L510,755 L350,662 L320,660 L300,670 L265,705 L230,722 L190,725 L160,710 L62,655 L58,640 L65,625 L150,570 L165,552 L162,540 L145,530 L138,518 L145,505 L185,475 L205,440 L215,400 L235,330 L250,295 L275,265 L268,258 L150,195 L135,180 L135,165Z" fill="#fff" stroke="none"/>
<path d="M135,165 L150,140 L255,80 L285,72 L310,82 L410,135 L435,160 L435,195 L450,225 L480,240 L530,245 L575,260 L700,330 L710,345 L700,360 L670,370 L665,380 L680,395 L730,420 L760,415 L800,395 L830,400 L880,430 L895,450 L895,470 L910,490 L940,508 L985,512 L1040,520 L1289,662 L1299,677 L1294,692 L1264,707 L1256,720 L1272,737 L1324,762 L1359,757 L1394,767 L1474,782 L1504,787 L1784,942 L1809,962 L1816,987 L1819,1012 L1839,1032 L1844,1057 L1869,1077 L1904,1097 L1934,1097 L1964,1080 L1989,1074 L2014,1084 L2254,1222 L2274,1242 L2276,1267 L2294,1292 L2324,1307 L2374,1310 L2424,1317 L2464,1347 L2489,1382 L2492,1402 L2479,1417 L2374,1477 L2344,1502 L2329,1532 L2294,1652 L2279,1682 L2254,1702 L2109,1787 L2084,1794 L2059,1790"/>
<path d="M135,165 L135,180 L150,195 L268,258 L275,265 L250,295 L235,330 L215,400 L205,440 L185,475 L145,505 L138,518 L145,530 L162,540 L165,552 L150,570 L65,625 L58,640 L62,655 L160,710 L190,725 L230,722 L265,705 L300,670 L320,660 L350,662 L510,755 L518,768 L505,785 L440,820 L425,835 L425,855 L445,875 L490,895 L530,900 L560,910 L580,935 L600,955 L1364,1397 L1389,1404 L1424,1392 L1494,1347 L1519,1342 L1544,1352 L1694,1437 L1702,1452 L1689,1467 L1619,1502 L1606,1517 L1609,1542 L1634,1562 L2059,1790" stroke-width="8"/>
<path d="M63,632 L56,647 L60,662 L158,717 L188,732 L228,729 L263,712 L298,677 L318,667 L348,669 L508,762 L516,775 L503,792 L438,827 L423,842 L423,862 L443,882 L488,902 L528,907 L558,917 L578,942 L598,962 L1362,1404 L1387,1411 L1422,1399 L1492,1354 L1517,1349 L1542,1359 L1692,1444 L1700,1459 L1687,1474 L1617,1509 L1604,1524 L1607,1549 L1632,1569 L2057,1797" stroke-width="8"/>
<path d="M265,315 L2330,1500 M215,480 L2269,1662"/>
<ellipse cx="607" cy="880" rx="35" ry="21"/><ellipse cx="609" cy="884" rx="25" ry="14" stroke-width="5"/>
<ellipse cx="1322" cy="1295" rx="65" ry="38"/><path d="M1262,1300 C1275,1325 1320,1338 1360,1328 M1275,1292 L1340,1330"/>
<ellipse cx="1791" cy="1562" rx="35" ry="21" stroke-width="9"/>
<path d="M607,115 V850 M607,1035 V1325 M610,1130 L1789,1810 V1707 M1322,1447 V1545"/>
</g>
<!-- 10_chain.py -->
<path d="M388.1,2041.7 C386.9,2044.0 383.5,2048.9 381.2,2055.4 C378.9,2061.9 376.2,2072.0 374.4,2080.8 C372.6,2089.6 371.0,2100.0 370.5,2108.1 C370.0,2116.2 371.3,2126.0 371.5,2129.6 M371.5,2152.0 V2175.4 M371.5,2199.8 V2364.3 M371.5,2387.7 V2412.2 M371.5,2434.6 C371.5,2437.4 370.7,2445.2 371.5,2451.6 C372.3,2458.0 374.0,2465.8 376.2,2472.9 C378.4,2480.0 380.6,2487.1 384.7,2494.2 C388.8,2501.3 398.0,2511.9 400.7,2515.5 M417.3,2058.3 C416.5,2060.4 414.4,2065.0 412.5,2071.0 C410.5,2077.0 407.5,2086.3 405.6,2094.4 C403.7,2102.6 402.0,2111.3 401.1,2119.8 C400.3,2128.3 400.5,2140.9 400.4,2145.2 M400.5,2168.6 V2192.0 M400.5,2215.0 V2381.4 M400.5,2404.8 V2429.3 M400.5,2451.6 C400.7,2455.2 400.5,2465.1 401.7,2472.9 C403.0,2480.7 404.9,2490.3 408.1,2498.5 C411.3,2506.6 416.3,2515.5 420.9,2521.9 C425.5,2528.3 433.3,2534.3 435.8,2536.8 M438.2,2061.3 C437.7,2062.2 436.4,2063.5 434.9,2067.1 C433.4,2070.7 430.7,2076.5 429.0,2082.7 C427.4,2088.9 425.7,2096.1 425.1,2104.2 C424.6,2112.3 425.6,2127.0 425.7,2131.5 M425.7,2154.0 V2178.4 M425.7,2201.0 V2367.5 M425.7,2391.0 V2415.0 M425.7,2437.8 C425.8,2440.8 425.3,2449.7 426.2,2455.9 C427.2,2462.1 428.9,2468.6 431.5,2475.0 C434.2,2481.4 436.9,2488.2 442.2,2494.2 C447.5,2500.2 459.9,2508.4 463.5,2511.2 M442.2,2496.3 C445.7,2496.1 457.1,2496.4 463.5,2495.3 C469.9,2494.1 477.7,2490.5 480.5,2489.5 M486.9,2511.9 L498.6,2510.2 M450.7,2542.5 L461.4,2544.2 L474.1,2544.2 M539.3,1894.4 C543.5,1894.9 556.2,1894.9 564.7,1897.3 C573.1,1899.8 582.6,1905.3 590.0,1909.0 C597.5,1912.8 606.3,1918.0 609.6,1919.8 M615.4,1923.7 C618.0,1926.4 626.8,1933.6 631.0,1940.3 C635.3,1946.9 638.3,1955.9 640.8,1963.7 C643.2,1971.5 644.8,1980.3 645.7,1987.1 C646.6,1993.9 646.2,2001.7 646.3,2004.7 M645.6,2027.0 V2051.5 M645.6,2074.0 V2287.7 M645.6,2311.0 V2324.0 M642.3,2348.4 C641.3,2353.5 638.8,2369.1 635.9,2379.2 C633.1,2389.3 628.8,2401.0 625.3,2409.0 C621.7,2417.0 616.4,2424.1 614.6,2427.1 M569.6,1912.0 C572.0,1911.8 579.8,1910.5 584.2,1911.0 C588.6,1911.5 594.0,1914.2 595.9,1914.9 M582.2,1945.1 C584.5,1946.3 591.3,1948.2 595.9,1952.0 C600.5,1955.7 605.8,1961.1 609.6,1967.6 C613.3,1974.1 616.3,1982.5 618.3,1991.0 C620.4,1999.5 621.1,2013.8 621.7,2018.3 M621.4,2040.8 V2065.2 M621.4,2088.6 V2301.5 M621.4,2326.0 V2332.0 M620.6,2334.5 C620.0,2339.1 618.8,2353.0 616.8,2362.2 C614.7,2371.4 611.3,2381.2 608.3,2389.9 C605.2,2398.6 600.3,2410.3 598.7,2414.4 M581.3,1952.0 C582.2,1954.6 585.5,1962.1 587.1,1967.6 C588.7,1973.1 590.3,1979.5 591.0,1985.1 C591.8,1990.8 591.5,1999.0 591.6,2001.7 M591.4,2024.2 V2048.6 M591.4,2072.0 V2284.5 M591.4,2308.5 V2313.2 M580.6,2447.4 C577.0,2451.3 566.6,2463.5 559.3,2470.8 C552.0,2478.0 540.7,2487.6 536.9,2491.0 M595.5,2458.0 C591.2,2463.3 579.7,2479.6 569.9,2489.9 C560.2,2500.2 542.4,2514.8 536.9,2519.7"/>
<path d="M406.0,2518.7 L435.8,2536.8" stroke-width="4.5"/>
<g transform="translate(350 1870) scale(0.19516)" stroke-width="14">
<path fill="#fff" d="M220,850 L240,770 L330,600 L430,470 L600,300 L700,215 L890,135 L1075,245 L1078,290 L1030,395 L860,470 L800,510 L640,670 L600,730 L520,830 L480,950 L385,955 L355,920 L300,910 Z"/>
<path d="M220.0,850.0 C220.8,846.7 223.3,836.7 225.0,830.0 C226.7,823.3 228.3,816.7 230.0,810.0 C231.7,803.3 233.3,796.7 235.0,790.0 C236.7,783.3 235.4,780.4 240.0,770.0 C244.6,759.6 255.0,741.7 262.5,727.5 C270.0,713.3 277.5,699.2 285.0,685.0 C292.5,670.8 300.0,656.7 307.5,642.5 C315.0,628.3 322.1,612.5 330.0,600.0 C337.9,587.5 346.7,578.3 355.0,567.5 C363.3,556.7 371.7,545.8 380.0,535.0 C388.3,524.2 396.7,513.3 405.0,502.5 C413.3,491.7 418.8,482.5 430.0,470.0 C441.2,457.5 458.3,441.7 472.5,427.5 C486.7,413.3 500.8,399.2 515.0,385.0 C529.2,370.8 543.3,356.7 557.5,342.5 C571.7,328.3 588.8,310.6 600.0,300.0 C611.2,289.4 616.7,285.8 625.0,278.8 C633.3,271.7 641.7,264.6 650.0,257.5 C658.3,250.4 666.7,243.3 675.0,236.2 C683.3,229.2 687.9,221.9 700.0,215.0 C712.1,208.1 731.7,201.7 747.5,195.0 C763.3,188.3 779.2,181.7 795.0,175.0 C810.8,168.3 826.7,161.7 842.5,155.0 C858.3,148.3 882.1,138.3 890.0,135.0"/>
<path d="M247.2,856.8 C249.6,853.8 259.0,845.6 261.5,839.1 C264.0,832.7 263.2,825.4 262.2,818.0 C261.2,810.7 256.4,801.6 255.5,795.1 C254.6,788.6 251.3,787.9 256.9,779.0 C262.5,770.0 278.9,754.3 289.1,741.6 C299.4,728.9 310.9,716.9 318.6,702.8 C326.2,688.7 330.6,672.2 335.1,657.1 C339.6,642.0 339.6,624.9 345.6,612.0 C351.6,599.2 361.2,589.5 371.2,579.9 C381.1,570.4 394.9,563.7 405.5,554.6 C416.2,545.6 427.5,536.3 435.0,525.6 C442.5,514.9 442.1,504.7 450.6,490.6 C459.0,476.4 472.4,455.7 485.7,440.7 C499.1,425.7 514.5,412.9 530.5,400.5 C546.5,388.2 566.0,378.6 581.6,366.6 C597.2,354.6 614.0,339.6 624.1,328.4 C634.3,317.2 636.2,308.8 642.4,299.3 C648.7,289.7 653.7,278.8 661.7,271.3 C669.7,263.8 681.7,258.3 690.4,254.4 C699.1,250.5 702.0,252.2 713.8,247.8 C725.7,243.5 746.4,236.8 761.6,228.4 C776.7,220.1 790.0,207.3 804.6,197.9 C819.3,188.4 833.6,178.1 849.5,171.6 C865.4,165.1 891.6,161.0 900.0,158.8"/>
<path d="M278.2,864.5 C277.9,860.9 278.0,850.3 276.8,842.9 C275.5,835.5 270.7,827.3 270.6,820.1 C270.4,813.0 273.1,804.4 276.0,800.3 C278.9,796.1 281.2,802.7 287.8,795.3 C294.3,787.8 308.3,769.9 315.4,755.5 C322.5,741.1 325.6,724.6 330.3,709.0 C335.0,693.3 337.8,675.3 343.5,661.6 C349.3,647.9 355.4,636.7 364.7,626.7 C374.0,616.7 388.9,610.9 399.3,601.6 C409.7,592.3 419.6,582.7 427.0,571.2 C434.5,559.7 438.7,544.6 443.9,532.4 C449.1,520.3 448.3,510.5 458.4,498.4 C468.5,486.3 488.6,471.9 504.8,459.8 C521.0,447.7 540.0,438.3 555.7,425.7 C571.3,413.0 586.3,398.8 598.8,383.8 C611.2,368.8 621.7,348.2 630.4,335.8 C639.1,323.4 642.5,316.2 650.9,309.2 C659.3,302.2 670.5,298.5 680.9,293.8 C691.2,289.1 706.2,285.4 713.1,281.0 C719.9,276.6 713.5,275.0 722.1,267.5 C730.8,260.1 750.2,245.7 765.0,236.5 C779.7,227.2 794.5,218.1 810.6,212.2 C826.8,206.2 844.8,204.6 861.8,200.9 C878.9,197.2 904.6,191.8 913.1,189.9"/>
<path d="M298.5,869.6 C300.5,866.6 308.8,858.0 310.4,851.3 C311.9,844.7 309.4,836.9 308.0,829.5 C306.6,822.1 303.1,811.2 302.2,806.8 C301.3,802.4 297.1,809.9 302.7,803.2 C308.3,796.4 325.8,779.2 335.8,766.3 C345.8,753.4 355.7,740.6 362.5,726.0 C369.3,711.5 373.0,693.2 376.7,679.1 C380.3,665.1 378.3,652.9 384.2,641.7 C390.2,630.5 402.1,621.0 412.6,611.8 C423.1,602.6 436.9,596.0 447.1,586.6 C457.4,577.3 467.8,566.0 473.9,555.5 C480.0,545.0 476.0,537.1 483.8,523.8 C491.6,510.5 506.6,490.0 520.6,475.6 C534.6,461.3 551.4,449.8 567.7,437.7 C584.0,425.7 603.8,415.5 618.4,403.4 C633.0,391.3 646.5,376.7 655.6,365.4 C664.6,354.0 666.5,344.5 672.9,335.2 C679.4,325.8 685.5,316.1 694.1,309.4 C702.7,302.6 718.0,297.0 724.7,294.7 C731.3,292.3 724.6,299.0 733.8,295.4 C743.1,291.7 765.3,281.6 780.2,272.6 C795.1,263.7 808.2,250.6 823.0,241.5 C837.8,232.4 852.9,223.9 869.1,218.2 C885.4,212.6 912.0,209.4 920.6,207.7"/>
<path d="M325.8,876.5 C324.9,872.7 321.9,861.3 320.5,853.9 C319.1,846.4 316.1,838.6 317.4,831.8 C318.7,825.1 325.4,815.2 328.4,813.3 C331.4,811.5 330.5,826.4 335.4,820.5 C340.3,814.6 352.1,793.1 357.9,778.0 C363.7,763.0 365.3,745.6 370.1,730.1 C375.0,714.5 380.8,696.3 387.1,684.6 C393.4,672.9 398.9,668.4 407.9,660.0 C417.0,651.5 432.0,644.0 441.4,634.0 C450.9,624.0 458.0,612.3 464.4,599.9 C470.8,587.6 474.9,571.1 479.8,560.1 C484.8,549.1 483.4,544.3 494.0,534.0 C504.6,523.8 527.1,510.5 543.6,498.6 C560.0,486.7 577.9,476.3 592.6,462.6 C607.3,448.9 620.3,431.9 631.5,416.5 C642.8,401.2 651.3,382.0 660.1,370.7 C668.9,359.3 674.8,354.2 684.2,348.4 C693.6,342.6 706.1,340.4 716.5,335.7 C726.8,331.0 742.3,324.4 746.2,320.1 C750.1,315.7 733.7,316.5 739.9,309.7 C746.0,302.9 767.8,287.5 783.0,279.3 C798.2,271.1 814.3,265.1 831.0,260.5 C847.7,255.8 866.2,255.5 883.1,251.5 C900.0,247.4 924.4,238.7 932.6,236.2"/>
<path d="M350.7,882.7 C351.4,879.3 355.0,869.6 355.0,862.5 C355.0,855.4 351.3,847.4 350.7,840.2 C350.2,833.0 351.3,820.9 351.6,819.1 C351.9,817.4 347.4,834.3 352.5,829.6 C357.7,824.9 374.0,804.7 382.3,790.9 C390.5,777.2 396.6,762.2 402.3,747.1 C407.9,731.9 412.3,712.3 416.2,700.0 C420.1,687.8 418.8,682.5 425.6,673.6 C432.5,664.6 446.9,655.5 457.3,646.2 C467.7,636.9 479.1,628.5 487.7,617.9 C496.3,607.3 504.2,592.8 509.0,582.5 C513.7,572.2 507.9,567.6 516.1,556.1 C524.3,544.6 543.2,526.5 558.4,513.4 C573.6,500.3 591.6,489.9 607.5,477.5 C623.3,465.0 640.9,451.8 653.6,438.6 C666.4,425.5 675.6,410.0 683.9,398.7 C692.2,387.4 695.7,378.8 703.3,370.8 C710.9,362.9 719.9,356.6 729.4,351.0 C739.0,345.3 756.8,338.9 760.7,337.1 C764.6,335.2 746.6,344.1 752.6,340.0 C758.7,336.0 782.3,321.8 797.1,312.8 C811.9,303.7 826.1,293.1 841.7,285.8 C857.3,278.6 873.9,273.9 890.6,269.3 C907.3,264.7 933.3,260.0 941.9,258.2"/>
<path fill="#fff" d="M845,300 L1030,225 L1075,245 L1078,290 L1030,395 L860,470 L835,440 L825,380 Z"/>
<path fill="#fff" d="M565,555 L745,365 L790,385 L808,430 L800,510 L640,670 L590,640 L558,600 Z"/>
<path fill="#fff" d="M360,880 L470,660 L540,635 L575,660 L600,730 L520,830 L480,950 L385,955 L355,920 Z"/>
<path d="M882,340 L886,372 M1020,275 L1026,305 M757,425 L764,455 M618,565 L640,585 M512,705 L530,725 M415,885 L440,892 M830,300 C815,340 812,400 830,450 M550,560 C545,590 560,625 585,645 M352,885 C345,905 355,930 375,950 M890,135 L1030,225 M805,175 L935,255 M730,200 L860,280" stroke-width="12"/>
</g>
<g transform="translate(340 2260) scale(0.2129)" stroke-width="13" stroke-linejoin="round">
<path fill="#fff" d="M1117,692 L1160,719 L1153,741 L1102,737 L1090,765 L1126,805 L1115,825 L1069,806 L1052,831 L1078,882 L1065,899 L1025,866 L1005,886 L1019,945 L1004,958 L974,913 L952,927 L954,990 L937,998 L918,944 L895,952 L885,1016 L868,1019 L861,958 L839,959 L816,1020 L801,1017 L806,954 L785,948 L753,1002 L738,994 L756,932 L738,918 L697,963 L685,951 L714,893 L700,874 L653,906 L644,890 L683,840 L674,815 L623,834 L618,815 L664,775 L660,747 L609,750 L608,729 L658,703 L660,673 L611,661 L614,639 L666,628 L673,598 L630,571 L637,549 L688,553 L700,525 L664,485 L675,465 L721,484 L738,459 L712,408 L725,391 L765,424 L785,404 L771,345 L786,332 L816,377 L838,363 L836,300 L853,292 L872,346 L895,338 L905,274 L922,271 L929,332 L951,331 L974,270 L989,273 L984,336 L1005,342 L1037,288 L1052,296 L1034,358 L1052,372 L1093,327 L1105,339 L1076,397 L1090,416 L1137,384 L1146,400 L1107,450 L1116,475 L1167,456 L1172,475 L1126,515 L1130,543 L1181,540 L1182,561 L1132,587 L1130,617 L1179,629 L1176,651 L1124,662 Z"/>
<path fill="#fff" d="M1162,677 L1205,704 L1198,726 L1147,722 L1135,750 L1171,790 L1160,810 L1114,791 L1097,816 L1123,867 L1110,884 L1070,851 L1050,871 L1064,930 L1049,943 L1019,898 L997,912 L999,975 L982,983 L963,929 L940,937 L930,1001 L913,1004 L906,943 L884,944 L861,1005 L846,1002 L851,939 L830,933 L798,987 L783,979 L801,917 L783,903 L742,948 L730,936 L759,878 L745,859 L698,891 L689,875 L728,825 L719,800 L668,819 L663,800 L709,760 L705,732 L654,735 L653,714 L703,688 L705,658 L656,646 L659,624 L711,613 L718,583 L675,556 L682,534 L733,538 L745,510 L709,470 L720,450 L766,469 L783,444 L757,393 L770,376 L810,409 L830,389 L816,330 L831,317 L861,362 L883,348 L881,285 L898,277 L917,331 L940,323 L950,259 L967,256 L974,317 L996,316 L1019,255 L1034,258 L1029,321 L1050,327 L1082,273 L1097,281 L1079,343 L1097,357 L1138,312 L1150,324 L1121,382 L1135,401 L1182,369 L1191,385 L1152,435 L1161,460 L1212,441 L1217,460 L1171,500 L1175,528 L1226,525 L1227,546 L1177,572 L1175,602 L1224,614 L1221,636 L1169,647 Z"/>
<path d="M853,1004 l-45,15 M790,983 l-45,15 M736,942 l-45,15 M694,883 l-45,15 M665,809 l-45,15 M653,725 l-45,15 M658,635 l-45,15 M678,545 l-45,15 M715,460 l-45,15 M764,385 l-45,15 M823,324 l-45,15 "/>
<ellipse cx="945" cy="645" rx="122" ry="182" transform="rotate(18 945 645)" fill="#fff" stroke-width="22"/>
<ellipse cx="935" cy="648" rx="98" ry="160" transform="rotate(18 935 648)" stroke-width="9"/>
<path fill="#000" stroke="none" d="M960,500 L1000,520 L1005,600 L960,690 L900,740 L850,745 L835,700 L860,620 L900,540 Z"/>
<path d="M880,620 L955,655 M870,660 L935,690 M895,585 L975,620 M915,545 L990,580 M860,700 L915,722" stroke="#fff" stroke-width="9"/>
</g>
<!-- 11_washer_bolt.svg -->
<!-- washer 92200 + bolt 92154: origin(90,2120) scale 8.455 -->
<g transform="translate(90 2120) scale(0.11827)" stroke-width="23" stroke-linejoin="round">
<!-- washer -->
<g transform="translate(1192 848) rotate(14)"><ellipse rx="255" ry="326" fill="#fff"/></g>
<g transform="translate(1225 836) rotate(14)"><ellipse rx="255" ry="326" fill="#fff" stroke="none"/>
<path d="M-60,-318 A255,326 0 0,1 0,326 M-248,80 A255,326 0 0,0 -150,265"/></g>
<path d="M1255,592 L1340,570"/>
<ellipse cx="1245" cy="860" rx="68" ry="100" transform="rotate(14 1245 860)" fill="#fff"/>
<path d="M1215,790 C1180,830 1170,890 1200,940" stroke-width="40"/>
<path d="M1245,855 L1700,1125"/>
<!-- bolt -->
<path fill="#fff" d="M135,330 L165,215 L250,140 L320,130 L440,205 L480,215 L500,250 L500,305 L815,480 L822,570 L750,670 L690,668 L400,492 L360,502 L300,512 L230,470 L150,430 Z"/>
<path d="M250,190 L320,240 M200,250 L270,300 M180,310 L240,350 M300,160 L380,212 M165,385 L225,425" stroke-width="26"/>
<path d="M440,210 C380,230 330,290 315,360 C305,420 320,470 360,500"/>
<ellipse cx="400" cy="378" rx="72" ry="112" transform="rotate(28 400 378)"/>
<path d="M525,320 C470,360 450,440 470,530 M600,362 C545,402 525,482 545,572 M675,404 C620,444 600,524 620,614 M750,446 C695,486 675,566 695,656 M815,482 C760,510 735,590 752,668"/>
</g>
<!-- 12_shaft.svg -->
<!-- shaft 13107 + angled bolt 132: origin(620,2420) scale 5.284 -->
<g transform="translate(620 2420) scale(0.18925)" stroke-width="14.5" stroke-linejoin="round">
<!-- splined end (dark) -->
<path fill="#000" d="M170,125 C130,140 105,190 100,250 C98,290 110,325 135,335 L175,300 L185,160 Z"/>
<!-- flange back -->
<ellipse cx="262" cy="292" rx="132" ry="182" transform="rotate(22 262 292)" fill="#fff"/>
<ellipse cx="292" cy="278" rx="132" ry="182" transform="rotate(22 292 278)" fill="#fff"/>
<!-- shaft body -->
<path fill="#fff" d="M340,185 L1185,665 L1190,760 L1120,865 L1060,865 L215,370 C205,320 215,270 250,220 C280,190 310,182 340,185Z"/>
<ellipse cx="1108" cy="765" rx="72" ry="108" transform="rotate(25 1108 765)" fill="#fff"/>
<ellipse cx="1118" cy="766" rx="55" ry="88" transform="rotate(25 1118 766)"/>
<ellipse cx="1122" cy="768" rx="19" ry="29" transform="rotate(25 1122 768)"/>
<ellipse cx="730" cy="455" rx="50" ry="29" />
<ellipse cx="733" cy="460" rx="24" ry="11" stroke-width="10"/>
<!-- bolt 132 -->
<path fill="#fff" d="M1105,290 L1130,240 L1175,205 L1240,210 L1290,225 C1320,235 1335,260 1335,290 L1585,440 L1590,500 L1555,550 L1500,552 L1270,420 C1240,435 1210,432 1185,420 L1130,370 L1110,330 Z"/>
<path d="M1130,240 L1165,265 L1200,230 M1165,265 L1150,340 L1185,420 M1110,300 L1150,340"/>
<path d="M1240,212 C1195,240 1170,300 1180,360 C1185,395 1200,415 1230,425" stroke-width="22"/>
<ellipse cx="1262" cy="325" rx="52" ry="82" transform="rotate(25 1262 325)"/>
<path d="M1330,300 C1290,320 1270,370 1285,425 M1375,325 C1335,345 1315,395 1330,452 M1420,350 C1380,372 1360,420 1375,478 M1465,376 C1425,398 1405,446 1420,504 M1510,402 C1470,424 1450,472 1465,530 M1555,428 C1512,450 1492,498 1508,552"/>
<path d="M1545,492 L1818,652 M1540,500 L1560,485"/>
</g>
<!-- pin 92042 -->
<path d="M751.5,2208 C751.5,2201 766.5,2201 766.5,2208 V2254 C766.5,2261 751.5,2261 751.5,2254 Z" fill="#fff" stroke-width="2.6"/>
<path d="M751.5,2208 C753,2213 765,2213 766.5,2208" stroke-width="2"/>
<!-- 13_cover.svg -->
<!-- pump cover 16142: origin(850,2520) scale 6.764 -->
<g transform="translate(850 2520) scale(0.14784)" stroke-width="19" stroke-linejoin="round">
<!-- back layer -->
<path fill="#fff" d="M110,650 L130,570 L200,490 L240,465 L300,470 L350,500 L520,400 L680,290 L800,210 L900,115 L960,95 L1100,125 L1280,215 L1310,200 L1380,190 L1480,230 L1440,650 L1440,830 L1400,880 L1260,960 L600,1555 L340,1735 L290,1710 L225,1650 L225,1560 L160,1525 L115,1480 L115,1270 L140,1220 L135,930 L110,900 Z"/>
<path d="M160,715 L165,950 M905,140 L1020,190 M830,220 L930,270 M540,410 L650,470 M480,440 L560,470 M400,480 L430,520"/>
<path d="M115,1270 L180,1225 L240,1240 L240,1290 L265,1340 M115,1270 L180,1290 L240,1250 M180,1290 L180,1510 M225,1560 L300,1600 L300,1700"/>
<path d="M1300,235 L1350,280 L1410,235"/>
<!-- front face -->
<path fill="#fff" d="M1030,180 L1100,165 L1280,215 L1340,195 L1400,195 L1480,230 L1500,270 L1505,350 L1525,400 L1528,480 L1500,560 L1440,650 L1330,720 L1290,820 L1250,960 L1210,1080 L1100,1240 L980,1370 L860,1470 L720,1535 L600,1555 L550,1580 L500,1640 L440,1710 L340,1735 L320,1640 L300,1580 L240,1540 L230,1470 L270,1400 L290,1350 L280,1290 L280,850 L250,800 L215,770 L205,700 L225,610 L280,540 L350,510 L420,525 L480,520 L560,470 L650,480 L720,420 L820,330 L930,300 L1000,220 Z"/>
<path d="M160,715 C200,760 240,820 240,880 C240,920 220,940 180,945 M180,945 L265,975 M190,960 L200,1010 M240,1290 C260,1330 300,1350 310,1400 C300,1430 270,1450 260,1520"/>
<!-- holes -->
<ellipse cx="1405" cy="355" rx="38" ry="66" transform="rotate(30 1405 355)" stroke-width="24"/>
<ellipse cx="1410" cy="522" rx="54" ry="92" transform="rotate(30 1410 522)"/>
<ellipse cx="320" cy="665" rx="58" ry="92" transform="rotate(25 320 665)"/>
<ellipse cx="835" cy="852" rx="95" ry="150" transform="rotate(25 835 852)" stroke-width="22"/>
<path d="M905,735 C945,780 945,860 905,930" stroke-width="30"/>
<ellipse cx="352" cy="1480" rx="36" ry="64" transform="rotate(25 352 1480)" stroke-width="30"/>
<ellipse cx="430" cy="1590" rx="58" ry="92" transform="rotate(28 430 1590)"/>
<!-- port 1 -->
<path d="M390,840 L530,625 L720,690 L720,770 L690,800 C665,830 650,860 650,900 L650,1000 C655,1030 670,1050 690,1060 L720,1085 L720,1290 L690,1330 L640,1325 L560,1270 C545,1250 535,1220 530,1190 L480,1160 L440,1110 L390,1105 Z"/>
<path d="M390,1105 L390,1225 L480,1190 M600,720 C570,780 548,840 545,900 C545,960 565,1020 610,1050 M608,668 L608,700 M640,715 L690,750 M605,1070 L605,1210 M620,1270 L680,1300"/>
<!-- port 2 -->
<path d="M885,560 L1030,325 L1100,325 C1130,335 1160,350 1180,370 L1255,440 L1255,500 L1160,650 L1150,830 L1080,1010 L1040,1065 L1010,1060 L1005,950 L1020,800 C1020,760 1018,720 1010,690 L980,640 L910,600 Z"/>
<path d="M885,560 C885,585 895,598 915,605" stroke-width="28"/>
<path d="M1050,340 L1130,400 M1170,430 L1240,470 M1130,450 L1050,570 L1045,700 L1030,800 M1080,610 L1135,650"/>
<!-- leader to pin -->
<path d="M520,1560 L940,1810"/>
</g>
<!-- 14_rotor.py -->
<g transform="translate(960 2620) scale(0.35482)" stroke-width="8" stroke-linejoin="round">
<path d="M640.0,60.0 C656.7,62.5 677.5,73.3 690.0,85.0 C702.5,96.7 712.5,114.2 715.0,130.0 C717.5,145.8 709.2,165.0 705.0,180.0 C700.8,195.0 692.5,203.3 690.0,220.0 C687.5,236.7 693.3,258.3 690.0,280.0 C686.7,301.7 681.7,325.0 670.0,350.0 C658.3,375.0 638.3,405.0 620.0,430.0 C601.7,455.0 583.3,478.3 560.0,500.0 C536.7,521.7 503.3,545.8 480.0,560.0 C456.7,574.2 438.3,583.3 420.0,585.0 C401.7,586.7 382.5,579.2 370.0,570.0 C357.5,560.8 353.3,540.0 345.0,530.0 C336.7,520.0 328.3,516.7 320.0,510.0 C311.7,503.3 300.0,508.3 295.0,490.0 C290.0,471.7 290.5,426.7 290.0,400.0 C289.5,373.3 287.0,353.3 292.0,330.0 C297.0,306.7 307.0,282.5 320.0,260.0 C333.0,237.5 355.0,206.7 370.0,195.0 C385.0,183.3 398.3,190.0 410.0,190.0 C421.7,190.0 426.7,201.7 440.0,195.0 C453.3,188.3 470.0,164.2 490.0,150.0 C510.0,135.8 543.3,123.3 560.0,110.0 C576.7,96.7 576.7,78.3 590.0,70.0 C603.3,61.7 623.3,57.5 640.0,60.0Z" stroke-width="23"/>
<path fill="#fff" d="M98,497 C95,480 110,465 125,471 L188,512 C196,520 185,548 170,545 L105,505 Z"/><path d="M0,430 L85,478 M128,530 V850"/>
<path fill="#fff" d="M880,325 C900,322 915,326 925,332 L1110,435 L1150,600 L960,790 L900,830 L690,715 C665,690 652,650 655,610 C660,540 700,450 760,385 C800,350 840,330 880,325Z"/>
<ellipse cx="998" cy="630" rx="135" ry="215" transform="rotate(28 998 630)" fill="#fff"/>
<path d="M1060.0,455.0 C1066.4,452.7 1082.7,462.4 1085.0,470.0 C1087.3,477.6 1079.4,509.5 1080.0,520.0 C1080.6,530.5 1084.2,553.0 1090.0,560.0 C1095.8,567.0 1125.9,570.7 1130.0,580.0 C1134.1,589.3 1131.4,627.2 1125.0,640.0 C1118.6,652.8 1087.2,676.0 1075.0,690.0 C1062.8,704.0 1030.5,747.8 1020.0,760.0 C1009.5,772.2 992.0,795.0 985.0,795.0 C978.0,795.0 968.2,765.8 960.0,760.0 C951.8,754.2 925.5,744.4 915.0,745.0 C904.5,745.6 875.8,766.8 870.0,765.0 C864.2,763.2 860.9,738.8 865.0,730.0 C869.1,721.2 899.2,700.5 905.0,690.0 C910.8,679.5 915.0,652.8 915.0,640.0 C915.0,627.2 903.2,591.7 905.0,580.0 C906.8,568.3 920.1,547.0 930.0,540.0 C939.9,533.0 978.3,525.8 990.0,520.0 C1001.7,514.2 1021.8,497.6 1030.0,490.0 C1038.2,482.4 1053.6,457.3 1060.0,455.0Z"/>
<path d="M975,540 L1095,605 M910,710 L1000,755 M1010,520 L1068,470 M1075,520 C1085,545 1100,560 1125,575 M885,735 C900,725 920,722 945,730"/>
<path fill="#fff" d="M1110,835 C1100,820 1102,800 1112,790 C1140,770 1170,730 1180,700 C1188,670 1200,635 1230,625 L1520,790 L1520,820 L1480,880 L1440,960 L1415,995 L1390,998 Z"/>
<path d="M1420.0,735.0 C1415.3,737.9 1390.5,746.6 1380.0,760.0 C1369.5,773.4 1339.9,832.5 1330.0,850.0 C1320.1,867.5 1298.5,898.3 1295.0,910.0 C1291.5,921.7 1294.8,944.2 1300.0,950.0 C1305.2,955.8 1329.5,954.8 1340.0,960.0 C1350.5,965.2 1381.2,991.5 1390.0,995.0 C1398.8,998.5 1409.2,995.2 1415.0,990.0 C1420.8,984.8 1435.9,962.8 1440.0,950.0 C1444.1,937.2 1445.3,891.7 1450.0,880.0 C1454.7,868.3 1472.1,857.6 1480.0,850.0 C1487.9,842.4 1513.6,819.1 1518.0,815.0"/>
<path d="M1420,735 C1440,760 1470,785 1515,795 M1300,945 C1330,935 1365,950 1390,990"/>
<path d="M1395,780 L1420,775 L1420,810 L1445,820 L1445,880 L1420,900 L1415,950 L1390,955 L1388,920 L1360,905 L1365,850 L1395,830Z"/>
<path d="M1400,865 L1565,958 L1700,875"/>
<path d="M788,770 V935 L1212,1183 V905 M1002,1060 V1385"/>
</g>
<!-- 15_body_left.svg -->
<!-- pump body 16160 left half: frame M origin(1600,2730) scale 3.5229 -->
<g transform="translate(1600 2730) scale(0.28386)" stroke-width="10" stroke-linejoin="round">
<!-- exterior below -->
<path d="M555,1190 L555,1292 L1115,1622 M430,1372 L555,1305 M955,1350 L960,1490 C965,1530 1000,1580 1040,1600 L1120,1640 M1080,1420 L1085,1600"/>
<!-- port boss -->
<path fill="#fff" d="M180,940 L180,1045 L160,1065 L160,1130 C162,1170 168,1200 175,1220 C185,1260 200,1290 220,1310 C245,1345 275,1370 300,1380 C330,1392 360,1398 380,1395 L430,1370 L445,1300 L440,1060 L300,1000 Z"/>
<ellipse cx="300" cy="1202" rx="128" ry="192" transform="rotate(-18 300 1202)" fill="#fff"/>
<ellipse cx="312" cy="1210" rx="98" ry="150" transform="rotate(-18 312 1210)"/>
<path d="M235,1120 C215,1180 235,1270 290,1325 M262,1105 C240,1170 262,1260 320,1320 M290,1095 C268,1160 290,1245 350,1305 M318,1092 C300,1150 320,1230 378,1288"/>
<!-- top face outer boundary upper-left -->
<path fill="#fff" stroke="none" d="M55,800 C55,775 65,755 85,748 L130,740 L190,745 L225,752 C240,740 250,730 270,722 L340,705 L375,692 C360,680 352,660 355,640 C358,615 375,590 400,575 C420,565 440,562 465,585 L700,455 L830,345 C845,335 860,330 880,330 L1000,322 C1020,318 1035,305 1050,290 L1095,255 C1112,240 1122,220 1120,200 C1116,180 1116,165 1125,150 C1135,135 1155,127 1180,125 L1260,130 L1320,150 L1320,800 L1130,1400 L650,1100 L480,1095 L440,1060 L445,1030 L470,1000 L460,975 L215,835 L180,940 L130,930 L80,920 L55,880 Z"/>
<path d="M180,1045 L180,940 L130,930 L80,920 L55,880 L55,800 C55,775 65,755 85,748 L130,740 L190,745 L225,752 C240,740 250,730 270,722 L340,705 L375,692 C360,680 352,660 355,640 C358,615 375,590 400,575 C420,565 440,562 465,585 L700,455 L830,345 C845,335 860,330 880,330 L1000,322 C1020,318 1035,305 1050,290 L1095,255 C1112,240 1122,220 1120,200 C1116,180 1116,165 1125,150 C1135,135 1155,127 1180,125 L1260,130 L1320,150"/>
<path d="M380,668 C400,660 420,630 430,590 M365,675 L395,690"/>
<path d="M215,838 L460,975 C470,985 472,995 465,1005 L445,1030 C438,1045 440,1060 450,1080 C460,1090 470,1094 480,1095 L560,1095 L620,1090 C635,1092 645,1096 650,1100 L1130,1380 C1142,1390 1145,1400 1140,1412 L1120,1440 L1110,1480"/>
<path d="M430,1100 C430,1130 435,1150 440,1160 C450,1172 460,1178 470,1180 L560,1180 L630,1165 L1090,1430 M630,1100 L630,1165 M875,1120 L875,1165 M445,1040 L440,1100 M55,880 L55,800"/>
<!-- holes -->
<ellipse cx="138" cy="790" rx="46" ry="28"/><ellipse cx="522" cy="1056" rx="48" ry="29"/><ellipse cx="1205" cy="180" rx="46" ry="28"/>
<!-- upper-left pocket -->
<path d="M232,790 C232,770 245,758 265,752 L350,735 C390,725 420,712 445,690 C465,670 470,650 468,620 C465,600 475,585 495,575 L735,435 L840,365 C855,355 870,350 890,350 L1000,345 C1025,340 1045,328 1065,312 L1110,278 C1125,262 1135,245 1150,235 L1200,232"/>
<path d="M232,790 C240,805 255,815 275,822 L400,898 C415,905 430,902 445,895 C450,875 460,860 470,850 L860,660 C880,652 900,650 920,650 L1000,655 L1030,640"/>
<path d="M345,865 L770,640 M720,470 L720,530 M880,370 L880,395 M893,705 L893,750 M1105,800 L1105,840 M270,815 L330,790 M350,735 L360,760"/>
<!-- bracket + pin + sensor -->
<path d="M470,700 L470,600 C480,592 495,590 505,592 C520,595 530,600 540,612 L560,630 L590,650 C600,660 602,675 600,690 M490,690 C500,680 515,665 530,660 L545,690"/>
<path fill="#fff" d="M540,700 C545,685 565,678 580,685 L600,705 L602,740 C595,755 580,762 565,758 L548,740 Z"/>
<path d="M560,612 L650,548 C665,545 680,550 690,560 L770,640 C778,655 778,668 772,680 M620,700 L740,635 M640,740 C660,715 690,700 720,700"/>
<path d="M735,440 L1010,615 M745,428 L1020,605" />
<path d="M830,470 C840,440 870,420 920,410 L1100,360 C1130,350 1150,330 1165,300 M830,470 L880,500 M925,495 L1230,380 M940,520 C960,510 985,515 995,535 M1040,600 C1050,590 1070,588 1080,598 M960,545 L1040,600"/>
<path d="M1020,292 C1020,275 1035,262 1055,258 C1070,258 1080,265 1082,278 M1020,292 L1042,312 M1042,312 L1115,275"/>
<!-- divider rim between pocket and big cavity -->
<path d="M510,888 L870,700 C885,692 900,690 915,692 L960,700 L1090,765 C1105,775 1118,785 1135,790 L1320,786"/>
<!-- big cavity boundary -->
<path d="M510,888 C505,905 512,925 530,940 L700,1036 C740,1060 780,1068 825,1060 L900,1035 C950,1022 1000,1018 1050,1022 C1120,1030 1180,1050 1225,1085 C1260,1115 1278,1150 1274,1190 C1270,1215 1250,1240 1220,1260 C1200,1275 1190,1290 1190,1310 C1195,1330 1210,1345 1240,1360"/>
<!-- rotor pocket -->
<path d="M735,985 L740,885 C745,865 752,855 765,848 L930,770 C945,768 955,770 965,778 L1080,850 L1200,900 C1240,920 1270,940 1290,960"/>
<path d="M750,880 L920,790 M755,870 L925,782 M760,862 L928,775" stroke-width="7"/>
<path d="M780,895 C830,915 870,940 900,975 C920,1000 935,1015 950,1030 M975,995 L1150,900 M630,995 L700,985 M672,968 L710,1012 M745,1005 L830,1055"/>
<!-- kidney port -->
<path d="M795,1125 C810,1110 840,1100 870,1095 C900,1085 930,1075 960,1070 C1000,1062 1040,1062 1070,1068 C1110,1078 1150,1100 1172,1125 C1190,1150 1192,1180 1180,1205 C1165,1230 1145,1240 1130,1250 C1120,1262 1112,1280 1100,1290 C1090,1298 1075,1298 1060,1295 L805,1145 C795,1138 792,1130 795,1125Z"/>
<path d="M975,1240 C1000,1225 1040,1218 1090,1222 M1060,1290 C1080,1275 1100,1268 1120,1270"/>
<path d="M730,1400 V1700"/>
</g>
<!-- 16_body_right.svg -->
<!-- pump body 16160 right half: frame N origin(1900,2730) scale 3.5229 -->
<g transform="translate(1900 2730) scale(0.28386)" stroke-width="10" stroke-linejoin="round">
<!-- white underlay for body -->
<path fill="#fff" stroke="none" d="M200,132 L240,148 L290,140 L340,120 L400,90 L450,58 L672,185 L672,400 L650,440 L1180,760 L1270,800 L1288,870 L1288,1050 L1200,1110 L870,1300 L850,1370 L840,1400 L520,1590 L495,1700 L60,1700 L40,1480 L70,1380 L250,800 L260,150 Z"/>
<!-- outer boundary top + block -->
<path d="M203,130 L240,148 C260,150 275,146 290,140 L340,120 L400,90 L450,58 L672,185 L672,400 C668,420 660,435 650,440 L620,450"/>
<path d="M672,185 L545,265 C530,280 520,295 520,310 C522,330 535,342 555,345 M545,265 L580,250 L580,330 L550,350 M595,275 C615,300 628,325 630,355 M540,385 C555,395 570,400 585,398"/>
<ellipse cx="432" cy="195" rx="100" ry="60"/>
<path d="M352,212 C360,250 400,262 440,260 C480,258 505,245 512,228 M372,222 C385,240 410,245 440,244 C465,242 485,235 495,225 M490,250 L500,270 M505,235 L530,225"/>
<ellipse cx="148" cy="182" rx="46" ry="28"/>
<ellipse cx="232" cy="238" rx="33" ry="19"/><ellipse cx="232" cy="240" rx="20" ry="10" stroke-width="7"/>
<ellipse cx="465" cy="362" rx="48" ry="28"/>
<path d="M150,215 L150,300 M150,320 L160,345 L210,378 M290,280 L292,330 M300,350 L360,390 M280,405 L340,440"/>
<path d="M95,232 C130,222 165,235 185,260 C200,272 215,270 240,268 L290,262 C330,270 370,285 385,305 C395,325 388,345 378,360 L375,395"/>
<path d="M70,330 C80,300 100,280 130,275 M60,380 L180,330 M0,400 L70,365 M0,470 L190,380"/>
<!-- outer boundary right side -->
<path d="M555,400 L640,450 L1180,760 C1200,772 1215,780 1230,785 C1255,790 1270,800 1280,815 C1286,830 1288,850 1288,870 L1288,1050 C1280,1070 1270,1080 1260,1085 L1200,1110 L870,1300 C860,1308 855,1315 855,1325 L850,1370 C848,1385 845,1395 840,1400 L520,1590 C508,1600 502,1610 500,1620 L495,1700"/>
<path d="M1283,1000 L870,1232 M1200,1040 L1200,1110 M860,1240 L860,1310 M530,1500 L530,1580"/>
<ellipse cx="1200" cy="838" rx="48" ry="28"/>
<path d="M1200,870 L1200,900 M1160,880 L1160,945 L1205,945 M1205,905 L1205,960"/>
<!-- rim inner edge upper right + pocket 1 -->
<path d="M0,650 L395,420 C405,412 415,410 425,410 L480,415 C500,418 520,428 540,440 L680,520 C690,528 692,538 688,546 C684,554 678,558 670,560 L355,740"/>
<path d="M20,700 L400,480 C415,472 430,470 445,470 L500,480 L640,555 M0,590 L30,610 M180,688 L210,740"/>
<ellipse cx="465" cy="570" rx="60" ry="35"/><ellipse cx="468" cy="577" rx="40" ry="21"/>
<path d="M462,400 L462,440 M460,470 L460,520 M445,495 L460,520 L472,500"/>
<!-- rim between pocket1 and others -->
<path d="M0,745 L80,748 L360,745 C385,748 405,752 420,760 L600,860 C640,880 665,895 675,910 C688,925 690,935 690,945 L695,1070 C700,1085 708,1095 720,1100 L850,1180 C858,1195 860,1210 860,1230"/>
<path d="M0,800 L40,790 L330,790 C355,792 375,795 390,800 L560,890 C590,905 610,918 620,930 L615,1090 C618,1100 622,1106 628,1110 L760,1190 C775,1200 780,1210 780,1220 C780,1240 770,1255 745,1275 L480,1430 C465,1440 450,1445 440,1445 L330,1445 L180,1345 C155,1330 140,1318 138,1305 C133,1285 140,1260 160,1232 L215,1200"/>
<path d="M40,800 L40,840 M0,900 L95,895"/>
<!-- pocket 2 with boss -->
<path d="M700,545 L720,560 L1100,780 C1118,790 1128,805 1130,825 C1128,845 1120,855 1110,860 L1120,882 M355,745 L690,555 M690,930 L700,1080 C710,1098 722,1106 740,1110 L1130,890"/>
<path d="M455,760 L700,630 M530,790 L760,665 M640,870 L720,830 M705,560 L705,580 M700,600 C730,610 760,640 775,670"/>
<path d="M720,800 L725,720 C735,695 745,680 760,670 L820,645 C835,642 845,645 850,650 L930,750 M850,800 L850,760 C848,740 840,720 825,700 M820,660 C870,670 910,700 930,750"/>
<ellipse cx="790" cy="772" rx="27" ry="42" transform="rotate(-15 790 772)"/>
<path d="M740,740 C745,790 770,825 810,835"/>
<path d="M690,912 L960,760 C970,755 980,755 990,758 L1100,820 C1108,830 1110,840 1110,852 M700,1050 L740,1085 M720,1035 L800,1080 M850,790 L940,760"/>
<ellipse cx="995" cy="875" rx="58" ry="34"/><ellipse cx="1000" cy="882" rx="40" ry="22"/><path d="M1020,870 L1020,900"/>
<!-- pocket 3 narrow -->
<path d="M740,1110 L1140,885 C1160,885 1180,890 1200,900 L1240,920 C1246,935 1247,955 1245,970 C1240,985 1236,995 1230,1000 L880,1195 C868,1198 858,1196 850,1190 L760,1130"/>
<path d="M760,1105 L1130,900 M800,1140 L1180,930 M1215,915 L1215,975 M1110,890 L1130,870 L1112,860" />
<ellipse cx="955" cy="1125" rx="45" ry="26"/><path d="M925,1130 C935,1115 960,1110 985,1115"/>
<!-- central cavity interior -->
<path d="M250,870 L600,1070 M380,810 L380,1085 M380,1300 L380,1395 M615,1130 L615,1170 M250,870 L250,1440"/>
<path d="M600,930 L600,1170 M605,935 L605,1165" stroke-width="8"/>
<path d="M390,1292 L598,1172 M392,1300 L600,1180 M388,1284 L596,1165" stroke-width="7"/>
<path d="M415,1090 C430,1060 460,1045 490,1050 C520,1060 545,1110 555,1170 M415,1090 C405,1140 420,1200 460,1235"/>
<path d="M215,1050 C270,1058 330,1080 370,1120 C405,1155 425,1195 440,1232 M135,1270 C160,1250 190,1235 215,1230 L250,1245 C300,1262 345,1275 380,1290 M215,1200 C225,1215 240,1235 250,1245 M150,1330 C170,1310 200,1300 240,1330"/>
<!-- left part of central (overlap with M): big cavity boundary end -->
<path d="M0,1020 C60,1025 120,1045 165,1080 C205,1115 220,1150 216,1190 M0,1070 C50,1075 95,1095 118,1125 C135,1150 135,1180 125,1205 C110,1230 90,1240 72,1250 C62,1262 55,1280 45,1290 C35,1298 20,1298 0,1292"/>
<!-- bottom lug -->
<path d="M0,1380 L75,1425 C85,1410 100,1402 110,1405 M70,1440 C55,1460 48,1480 45,1500 L45,1600 C50,1630 60,1645 75,1652 C100,1662 130,1660 150,1652 L205,1620 C218,1600 224,1580 225,1560 M50,1500 C60,1540 80,1570 110,1580 C140,1588 170,1580 200,1560 M100,1530 L180,1560 L340,1640 C370,1645 400,1640 420,1630 L490,1590 C505,1575 515,1560 520,1540 L530,1500 M150,1490 L150,1520 M185,1500 L185,1600 M150,1600 L150,1650 M180,1590 L230,1560"/>
<path d="M195,1590 L340,1672 L340,1700 M225,1585 L190,1610" />
<ellipse cx="143" cy="1448" rx="48" ry="28"/>
<ellipse cx="250" cy="1482" rx="33" ry="19"/><ellipse cx="250" cy="1484" rx="20" ry="10" stroke-width="7"/>
<ellipse cx="400" cy="1555" rx="36" ry="20"/>
<path d="M260,1440 L270,1415 L305,1410 L310,1425"/>
</g>
<!-- 17_body_bottom.svg -->
<!-- pump body bottom boss: frame O origin(1860,3120) scale 5.284 -->
<g transform="translate(1860 3120) scale(0.18925)" stroke-width="14.5" stroke-linejoin="round">
<path fill="#fff" stroke="none" d="M682,440 C675,480 680,520 700,550 C720,572 745,585 770,588 L850,586 C890,580 920,565 940,535 C950,515 955,490 955,470 L955,380 L1000,200 L700,300 Z"/>
<path d="M520,340 L680,420 L722,442 M682,440 C675,480 680,520 700,550 C720,572 745,585 770,588 L850,586 C890,580 920,565 940,535 C950,515 955,490 955,470 L955,380 C960,355 968,340 980,325 C995,300 1005,290 1015,275 M1015,180 L1020,275 M960,240 C970,215 985,195 1000,180 C1025,155 1055,135 1080,120 L1270,10 M1020,270 C1045,250 1075,232 1100,220 L1470,5"/>
<path d="M430,535 V1100 M815,750 V1100"/>
</g>
<!-- 18_valve.svg -->
<!-- relief valve 16130: frame R origin(2300,2380) scale 4.9735 -->
<g transform="translate(2300 2380) scale(0.20106)" stroke-width="13.5" stroke-linejoin="round">
<path fill="#fff" d="M320,1100 L700,880 L820,872 L940,1005 L940,1170 L555,1390 L470,1395 L330,1200 Z"/>
<path d="M440,1095 L820,875 M440,1095 L555,1225 L940,1005 M555,1225 L555,1390 M320,1100 L440,1095 M335,1120 C380,1110 420,1118 440,1135"/>
<ellipse cx="672" cy="1243" rx="38" ry="62" transform="rotate(30 672 1243)"/>
<path fill="#fff" d="M270,1180 L340,1130 C400,1120 460,1160 500,1240 C525,1300 520,1350 500,1375 L410,1420 L300,1440 Z"/>
<path d="M345,1135 C420,1150 470,1230 470,1380 M385,1125 C460,1140 515,1230 505,1370 M310,1155 C380,1170 430,1250 430,1400 M280,1175 C350,1190 395,1270 395,1420"/>
<ellipse cx="292" cy="1325" rx="82" ry="125" transform="rotate(-15 292 1325)" fill="#fff"/>
<ellipse cx="305" cy="1322" rx="46" ry="68" transform="rotate(-15 305 1322)"/>
<path d="M300,1325 L0,1500 L-975,2063"/>
</g>
<!-- collar 92043 -->
<path fill="#fff" d="M1995,2462 V2507 C1995,2524 2051,2524 2051,2507 V2462 Z"/>
<ellipse cx="2023" cy="2462" rx="28" ry="15" fill="#fff"/>
<path d="M2001,2468 C2005,2456 2040,2454 2046,2466" stroke-width="2.2"/>
<!-- o-ring 670 -->
<ellipse cx="2023" cy="2579" rx="31" ry="16.5" stroke-width="5.5"/>
<!-- pins 551 -->
<path fill="#fff" d="M1959,2614 C1959,2607 1975,2607 1975,2614 V2640 C1975,2647 1959,2647 1959,2640 Z"/><path d="M1959,2614 C1961,2619 1973,2619 1975,2614" stroke-width="2"/>
<path fill="#fff" d="M2208,2835 C2208,2828 2225,2828 2225,2835 V2861 C2225,2868 2208,2868 2208,2861 Z"/><path d="M2208,2835 C2210,2840 2223,2840 2225,2835" stroke-width="2"/>
<!-- 19_cover14091.svg -->
<!-- cover 14091: frame T origin(2490,2990) scale 2.8183 -->
<g transform="translate(2490 2990) scale(0.35482)" stroke-width="8" stroke-linejoin="round">
<!-- base plate -->
<path fill="#fff" d="M38,520 L110,478 L300,600 L115,592 L40,550 Z"/>
<path fill="#fff" d="M845,1000 L900,1045 L1030,975 L1028,930 L900,900 Z"/>
<path d="M860,985 L900,1025 L1022,962"/>
<!-- body fill -->
<path fill="#fff" d="M110,470 L120,440 L150,420 L400,270 L430,258 L490,250 L560,245 L600,235 L650,205 L700,175 L715,150 L740,132 L780,125 L820,130 L850,135 L880,125 L960,70 L1000,50 L1040,48 L1085,62 L1120,90 L1150,115 L1210,150 L1220,170 L1210,185 L1440,320 L1455,300 L1470,300 L1560,355 L1620,365 L1645,385 L1648,430 L1648,470 L1640,490 L1300,690 L1290,700 L1305,720 L1308,780 L1300,810 L1030,970 L1020,990 L960,1000 L830,1020 L790,1020 L760,1000 L700,995 L668,970 L665,920 L650,880 L270,665 L200,680 L150,680 L118,650 L118,610 Z"/>
<!-- top face lower boundary -->
<path d="M110,470 C112,500 120,520 130,530 L145,555 L120,580 C116,595 118,610 130,625 C140,635 150,640 160,640 L200,630 L250,610 L290,610 L660,820 C680,830 690,840 688,855 L665,890 C662,905 665,920 675,930 C690,945 710,955 730,955 L770,945 L800,950 L830,960 L870,950 L900,960 L960,950 L1030,930"/>
<path d="M270,615 L270,665 M665,890 L668,935 M760,950 L760,1000 M830,960 L830,1020 M1028,930 L1028,975 M1305,720 L1300,690"/>
<!-- holes -->
<ellipse cx="1030" cy="90" rx="40" ry="25"/><ellipse cx="190" cy="578" rx="40" ry="25"/><ellipse cx="735" cy="890" rx="40" ry="25"/><ellipse cx="1580" cy="405" rx="40" ry="25"/>
<ellipse cx="785" cy="175" rx="45" ry="28"/><ellipse cx="787" cy="180" rx="26" ry="14"/>
<ellipse cx="360" cy="395" rx="45" ry="28"/><ellipse cx="360" cy="400" rx="26" ry="14"/>
<ellipse cx="1100" cy="128" rx="28" ry="17"/><ellipse cx="1100" cy="130" rx="14" ry="8"/>
<ellipse cx="820" cy="920" rx="28" ry="17"/><ellipse cx="820" cy="922" rx="14" ry="8"/>
<ellipse cx="1100" cy="250" rx="48" ry="30"/><path d="M1140,235 L1140,270"/>
<ellipse cx="1415" cy="438" rx="48" ry="30"/><ellipse cx="1420" cy="442" rx="32" ry="18"/><path d="M1440,430 L1440,465"/>
<ellipse cx="595" cy="715" rx="48" ry="30"/><path d="M560,725 C570,705 600,700 630,708"/>
<!-- slotted screw -->
<ellipse cx="525" cy="420" rx="76" ry="48" stroke-width="11"/><ellipse cx="525" cy="420" rx="58" ry="35"/>
<path d="M485,435 L560,395 M495,445 L570,405 M480,425 L545,390" stroke-width="7"/>
<!-- pocket A -->
<path d="M600,275 L620,260 L720,215 L735,235 L760,250 L830,240 L870,225 L915,215 L920,190 L905,170 L900,150 L920,130 L960,120 L1010,130 L1040,160 L1050,185 L1080,200 L1130,195 L1160,180 L1195,175 L1200,200 L1230,240 L1420,350 L1440,330 L1500,380 L1520,420 L1525,450 L1500,470 L1250,620 L1210,630 L1185,620 L1170,590 L1165,500 L1150,470 L1100,440 L960,350 L930,335 L880,328 L680,325 L650,315 L610,290 Z"/>
<path d="M730,210 L730,235 M860,200 L860,225 M950,130 L950,155 M1040,150 L1040,175 M1150,160 L1155,185 M640,300 L760,235 M1210,185 L1250,240 M1290,260 L1300,290 M1340,290 L1360,330 M1430,320 L1440,345"/>
<path d="M1195,380 L1200,320 C1210,305 1220,298 1230,295 L1270,290 C1282,295 1288,302 1290,310 L1290,370 L1250,400 M1040,360 L1200,265 M1130,420 L1200,380 M1170,470 L1380,345 L1400,340 L1500,395 L1510,430 M1480,440 L1500,470"/>
<ellipse cx="1245" cy="350" rx="20" ry="32" transform="rotate(-15 1245 350)"/>
<!-- central cavity -->
<path d="M375,335 L460,290 L510,288 L560,310 L650,360 L690,365 L870,360 L930,360 L980,378 L1100,445 L1140,470 L1160,510 L1165,600 L1185,625 L1240,640 L1280,690 L1245,720 L950,890 L900,895 L860,880 L760,825 L730,800 L725,760 L740,735 L790,700 L795,660 L770,620 L720,585 L660,565 L600,555 L540,560 L480,580 L420,585 L370,575 L200,480 L178,465 L185,440 L230,420 L290,430 L330,440 L380,450 L420,440 L435,410 L425,370 L385,345 Z"/>
<path d="M488,295 L488,320 M655,370 L655,405 M235,435 L235,455 M305,435 L305,460 M240,470 C270,485 300,480 330,470"/>
<path d="M920,370 L920,600 M1100,470 L1105,660 L900,780 L895,860 M1170,480 L1240,700 L940,870 M760,825 L860,860"/>
<path d="M902,772 L1095,662 M904,780 L1097,670 M900,765 L1093,655" stroke-width="6"/>
<path d="M1095,480 L1095,660" stroke-width="12"/>
<path d="M940,680 C940,620 960,575 990,570 C1020,575 1050,620 1058,675 M650,365 C720,410 790,480 840,540 C880,590 920,640 940,680 C950,700 965,715 985,720 M500,545 L690,450 M300,540 C350,540 420,548 470,570 M305,535 L350,555 M840,850 L870,865"/>
<!-- kidney pocket -->
<path d="M410,625 L480,600 L560,580 L640,585 L700,610 L725,650 L715,690 L680,720 L660,750 L630,765 L600,760 L420,650 Z"/>
<path d="M470,660 L560,635 L640,640 L690,670 M670,615 L672,650 M695,625 L697,660"/>
<!-- leaders -->
<path d="M820,-50 V920 M820,935 V990 H845 M1100,-160 V128 M355,400 V680 M355,740 V1100 M1040,970 H1365"/>
</g>
<!-- 20_strainer.svg -->
<!-- strainer 16097A left: frame V origin(2190,3440) scale 3.0196 -->
<g transform="translate(2190 3440) scale(0.33117)" stroke-width="8.5" stroke-linejoin="round">
<!-- body fill -->
<path fill="#fff" stroke="none" d="M55,250 L60,200 L90,130 L140,90 L190,78 L250,110 L500,262 L555,212 L700,280 L960,130 L1040,110 L1150,110 L1240,135 L1540,310 L1700,300 L1700,1000 L1540,1075 L1330,950 L1200,975 L1100,935 L960,860 L880,830 L680,810 L480,700 L420,670 L390,620 L390,565 L348,520 L348,440 L110,330 L65,300 Z"/>
<!-- tube -->
<path d="M250,110 C230,88 210,78 190,78 C170,80 155,85 140,90 C120,100 105,112 90,130 C75,150 65,175 60,200 C55,220 53,235 55,250 C58,270 60,285 65,300 C75,315 90,325 110,330 L345,455"/>
<path d="M110,310 C108,275 112,245 120,220 C130,195 142,175 160,160 C175,142 192,130 210,125 C230,118 248,116 265,118 M150,175 C170,150 200,130 235,122 M135,340 L350,460"/>
<path d="M215,85 L500,262 M500,262 L560,235 L590,232 M430,212 L555,212 L1240,615 L1290,640"/>
<!-- lug 1 -->
<path d="M348,440 L460,315 C470,305 480,300 490,300 L520,320 L540,325 M348,440 C348,455 350,465 355,470 C365,485 378,492 390,495 L470,495 L560,465 L640,425 L650,405 L600,410 L520,440 L510,440"/>
<ellipse cx="435" cy="447" rx="48" ry="30" stroke-width="15"/><ellipse cx="435" cy="449" rx="30" ry="17" stroke-width="6"/>
<path d="M348,440 L348,520 L390,565 L470,560 L555,535 M390,565 L390,620 C395,645 405,660 420,670 L480,700 L880,835"/>
<path d="M460,390 L500,330 L530,350 L610,400 M450,370 L480,330 M510,440 L520,420 L600,410 M500,320 C505,340 520,350 540,352 M560,360 L640,410"/>
<!-- dome -->
<path d="M700,280 L960,130 C985,118 1010,112 1040,110 L1150,110 C1185,115 1215,122 1240,135 L1540,310 L1560,330 M700,285 C740,300 775,290 795,270"/>
<path d="M640,420 L640,640 C645,650 650,655 660,660 L720,690 C750,698 775,700 800,700 L880,690 C900,690 915,693 930,700 L1090,790 L1140,830 L1150,640 M650,450 C665,465 680,475 700,480 C730,490 755,494 780,495 L880,485 L975,480 L1060,530 L1130,570 L1250,615"/>
<path d="M560,470 L580,680 L590,760 M580,665 L630,645 M590,690 L700,745 C740,755 770,760 800,760 L900,740 C920,742 935,745 950,750 L1130,850 M480,700 L680,810 C730,825 765,833 800,835 L880,830 C910,838 935,848 960,860 L1100,935 C1135,955 1170,970 1200,975 L1290,970 L1330,950 M870,835 L960,870 L1080,940"/>
<!-- lug 2 -->
<path fill="#fff" d="M1120,600 L1140,595 L1200,640 L1330,630 L1340,570 L1360,565 L1380,575 L1385,700 C1385,725 1380,740 1370,750 C1358,768 1345,778 1330,785 C1312,792 1295,795 1280,795 C1262,792 1245,788 1230,780 L1150,670 Z"/>
<ellipse cx="1290" cy="672" rx="48" ry="30" stroke-width="15"/><ellipse cx="1290" cy="674" rx="30" ry="17" stroke-width="6"/>
<path d="M1150,670 L1150,850 M1120,600 L1060,745 M1385,700 L1385,860 M1130,605 L1195,650 L1260,645"/>
<path d="M433,-460 V447 M433,620 V930 M1288,-460 V672 M1288,845 V1320"/>
</g>
<!-- strainer right: frame W origin(2560,3480) scale 3.0196 -->
<g transform="translate(2560 3480) scale(0.33117)" stroke-width="8.5" stroke-linejoin="round">
<path fill="#fff" stroke="none" d="M420,205 L440,190 L620,180 L715,310 L718,400 L670,500 L530,610 L520,660 L670,745 L685,780 L640,860 L470,965 L430,970 L210,835 L265,580 L262,455 L440,200 Z"/>
<path d="M130,20 L440,200"/>
<!-- lug 3 -->
<path d="M420,205 C425,195 432,192 440,190 L500,182 L620,180 C630,185 636,190 640,195 L715,310 C720,320 720,330 720,340 C720,355 718,365 715,370 L690,400 M420,205 C435,215 445,225 450,230 L480,255 C490,270 495,280 500,285 C508,295 514,298 520,300 L560,295 L600,275 L640,265 L600,195"/>
<ellipse cx="630" cy="322" rx="50" ry="31" stroke-width="15"/><ellipse cx="630" cy="324" rx="31" ry="17" stroke-width="6"/>
<path d="M530,350 C532,365 535,375 540,380 C552,400 565,412 580,420 C600,430 620,435 640,435 C660,432 678,428 690,420 C702,412 710,405 715,395 M525,350 L515,400 L510,530 M690,420 L670,500 C662,520 652,538 640,550 C625,568 608,580 590,590 L530,610 L520,660"/>
<!-- screen frame -->
<path d="M185,345 L200,325 L470,270 L520,300 M185,345 L500,530 L510,400 M500,530 L500,620 L480,640 M195,338 L465,280" />
<path d="M270,610 L495,545 M265,575 L380,560 M270,600 L330,585 M265,740 L480,640 L520,660 L670,745 C680,758 685,768 685,780 C685,795 680,808 675,820 C665,838 655,850 640,860 L470,965 C455,970 442,972 430,970 L210,835"/>
<path d="M245,762 L480,652" stroke-width="11"/>
<path d="M240,820 L420,925 M262,455 L265,740 M215,665 L210,835 M0,810 C60,820 130,815 190,800 M0,850 C70,858 140,850 205,830"/>
<!-- outlet -->
<path d="M430,905 C432,885 440,870 450,860 L600,765 C620,757 635,757 650,760 C665,768 670,778 670,790 C668,810 660,828 650,840 L500,935 C480,945 465,950 450,950 C438,945 432,930 430,905Z"/>
<path d="M445,905 C447,890 452,880 460,873 L602,782 C620,775 632,775 642,778 C652,785 655,795 652,805 C650,818 645,828 638,835 L498,922 C482,930 470,934 460,932 C450,928 446,918 445,905Z"/>
<path d="M720,362 H1070 M630,470 V640 L925,468 V835"/>
</g>
<!-- o-ring 92055A -->
<ellipse cx="2156" cy="3459" rx="30" ry="39" transform="rotate(14 2156 3459)" stroke-width="5.6"/>
<path d="M2157.5,3460 L2206,3486.5 M2141,3499 V3613"/>
<!-- 21_plate13272A.py -->
<path d="M1407.3,3574.9 L1407.3,3634.8 L1414.8,3649.8 L1534.8,3719.8 L1547.3,3719.8 L1551.3,3709.8 L1551.3,3684.8" fill="#fff"/>
<path d="M1587.2,3707.3 L1587.2,3734.8 L1594.7,3749.8 L1729.7,3827.2 L1742.1,3827.2 L1746.1,3817.2 L1746.1,3797.2" fill="#fff"/>
<path d="M1771.1,3814.7 L1771.1,3839.7 L1779.6,3854.7 L1919.5,3932.2 L1932.0,3929.7 L1935.5,3914.7 L1937.0,3894.7" fill="#fff"/>
<path d="M1771.1,3813.0 L1771.1,3839.9 L1776.9,3855.3 L1922.9,3934.1 L1932.6,3932.1 L1935.2,3920.6 L1936.4,3901.4 L1946.0,3895.6" fill="#fff"/>
<path d="M1961.4,3924.5 L1961.4,3943.7 L1965.2,3953.3 L2109.4,4035.9 L2119.0,4037.8 L2126.7,4032.1 L2128.6,4009.0 L2134.4,4003.3" fill="#fff"/>
<path d="M1700.0,3682.3 L1723.1,3672.7 L1738.4,3666.9 L1757.7,3668.8 L2272.7,3966.7 L2280.4,3974.4 L2278.5,3982.1 L2234.3,4010.9 L2224.7,4010.9 L2172.8,3982.1" fill="#fff"/>
<path d="M2215.1,3959.0 L2224.7,4009.0 M2217.0,3959.8 L2227.4,4008.2"/>
<path d="M1185.0,3464.9 L1187.5,3457.5 L1259.9,3416.0 L1269.9,3414.0 L1277.4,3417.5 L1584.7,3594.9 L1599.7,3587.4 L1614.7,3587.4 L1674.7,3622.4 L1677.2,3629.9 L1662.2,3639.8 L2211.2,3958.3 L2211.2,3958.3 L2138.2,4001.3 L2122.8,4003.3 L2084.4,3991.7 L2069.0,3982.1 L2063.3,3966.7 L2053.6,3955.2 L2034.4,3949.4 L2007.5,3947.5 L1976.8,3932.1 L1953.7,3914.8 L1946.0,3905.2 L1949.9,3897.5 L1969.1,3886.0 L1973.7,3874.5 L1964.5,3862.2 L1889.6,3822.2 L1869.6,3812.2 L1849.6,3810.7 L1834.6,3814.7 L1814.6,3824.7 L1799.6,3822.2 L1694.7,3762.3 L1687.2,3754.8 L1682.2,3742.3 L1672.2,3734.8 L1672.2,3724.8 L1664.7,3719.8 L1649.7,3707.3 L1637.2,3703.8 L1627.2,3707.3 L1612.2,3713.8 L1599.7,3709.8 L1504.8,3657.3 L1494.8,3649.8 L1492.3,3634.8 L1484.8,3624.9 L1469.8,3618.9 L1449.8,3618.9 L1429.8,3612.4 L1409.8,3602.4 L1409.8,3597.4 L1427.3,3584.9 L1424.8,3577.4 L1409.8,3567.4 L1397.4,3562.4 L1384.9,3564.9 L1372.4,3572.4 L1359.9,3569.9 L1314.9,3544.9 L1304.9,3537.4 L1302.4,3524.9 L1297.4,3514.9 L1282.4,3508.9 L1257.4,3509.9 L1247.4,3507.4 L1185.0,3472.4 L1185.0,3464.9Z" fill="#fff" stroke="none"/>
<path d="M1185.0,3464.9 L1187.5,3457.5 L1259.9,3416.0 L1269.9,3414.0 L1277.4,3417.5 L1584.7,3594.9 L1599.7,3587.4 L1614.7,3587.4 L1674.7,3622.4 L1677.2,3629.9 L1662.2,3639.8 M1662.2,3639.8 L2211.2,3958.3"/>
<path d="M1185.0,3464.9 L1185.0,3472.4 L1247.4,3507.4 L1257.4,3509.9 L1282.4,3508.9 L1297.4,3514.9 L1302.4,3524.9 L1304.9,3537.4 L1314.9,3544.9 L1359.9,3569.9 L1372.4,3572.4 L1384.9,3564.9 L1397.4,3562.4 L1409.8,3567.4 L1424.8,3577.4 L1427.3,3584.9 L1409.8,3597.4 L1409.8,3602.4 L1429.8,3612.4 L1449.8,3618.9 L1469.8,3618.9 L1484.8,3624.9 L1492.3,3634.8 L1494.8,3649.8 L1504.8,3657.3 L1599.7,3709.8 L1612.2,3713.8 L1627.2,3707.3 L1637.2,3703.8 L1649.7,3707.3 L1664.7,3719.8 L1672.2,3724.8 L1672.2,3734.8 L1682.2,3742.3 L1687.2,3754.8 L1694.7,3762.3 L1799.6,3822.2 L1814.6,3824.7 L1834.6,3814.7 L1849.6,3810.7 L1869.6,3812.2 L1889.6,3822.2 L1964.5,3862.2 L1973.7,3874.5 L1969.1,3886.0 L1949.9,3897.5 L1946.0,3905.2 L1953.7,3914.8 L1976.8,3932.1 L2007.5,3947.5 L2034.4,3949.4 L2053.6,3955.2 L2063.3,3966.7 L2069.0,3982.1 L2084.4,3991.7 L2122.8,4003.3 L2138.2,4001.3 L2211.2,3958.3" stroke-width="3.4"/>
<path d="M1184.2,3468.1 L1184.2,3475.6 L1246.6,3510.6 L1256.6,3513.1 L1281.6,3512.1 L1296.6,3518.1 L1301.6,3528.1 L1304.1,3540.6 L1314.1,3548.1 L1359.1,3573.1 L1371.6,3575.6 L1384.1,3568.1 L1396.6,3565.6 L1409.0,3570.6 L1424.0,3580.6 L1426.5,3588.1 L1409.0,3600.6 L1409.0,3605.6 L1429.0,3615.6 L1449.0,3622.1 L1469.0,3622.1 L1484.0,3628.1 L1491.5,3638.0 L1494.0,3653.0 L1504.0,3660.5 L1598.9,3713.0 L1611.4,3717.0 L1626.4,3710.5 L1636.4,3707.0 L1648.9,3710.5 L1663.9,3723.0 L1671.4,3728.0 L1671.4,3738.0 L1681.4,3745.5 L1686.4,3758.0 L1693.9,3765.5 L1798.8,3825.4 L1813.8,3827.9 L1833.8,3817.9 L1848.8,3813.9 L1868.8,3815.4 L1888.8,3825.4 L1963.7,3865.4 L1972.9,3877.7 L1968.3,3889.2 L1949.1,3900.7 L1945.2,3908.4 L1952.9,3918.0 L1976.0,3935.3 L2006.7,3950.7 L2033.6,3952.6 L2052.8,3958.4 L2062.5,3969.9 L2068.2,3985.3 L2083.6,3994.9 L2122.0,4006.5 L2137.4,4004.5 L2210.4,3961.5" stroke-width="2.6"/>
<path d="M1277.4,3422.5 L1282.4,3462.5 L1294.9,3464.9 M1302.4,3462.5 L1342.4,3482.4 M1362.4,3494.9 L1389.9,3510.9 L1394.9,3524.9 L1409.8,3532.4 L1422.3,3533.9 M1439.8,3527.4 L1449.8,3524.9 L1482.3,3539.9 M1504.8,3552.4 L1522.3,3563.9 M1544.8,3577.4 L1574.7,3592.4 M1599.7,3629.9 L1614.7,3637.3 L1624.7,3629.9 L1617.2,3624.9 M1664.7,3639.8 L1647.2,3652.3 L1644.7,3667.3 L1654.7,3679.8 L1674.7,3684.8 L1704.7,3682.3 L1724.7,3672.3 M1882.1,3799.7 L1894.6,3812.2 L1914.5,3814.7 M1934.5,3807.2 L1939.5,3797.2 L1924.5,3787.3 L1904.5,3787.3 M2088.2,3914.8 L2099.8,3920.6 L2115.1,3916.8 L2117.1,3909.1 L2107.5,3905.2" stroke-width="2.6"/>
<path d="M1615,3497.5 V3590 M1615,3627 V3652 M1615,3662 V3710 M1615,3732 V3775 M1615,3777 V3930"/>
<path d="M1910,3800 V3822 M1910,3830 V3875 M1910,3897 V3945 M1910,3947 V3996"/>
<path d="M2103.6,3909 V3936 M2103.6,3947 V3978 M2103.6,3995 V4047 M2103.6,4057 V4109.5"/>
<path d="M1615,3827.5 L2103.6,4109.5 M1941,3686.5 L1615,3497.5"/>
<!-- 22_plug.svg -->
<!-- plug 92066: frame Z origin(1440,3080) scale 3.676 -->
<g transform="translate(1440 3080) scale(0.27203)" stroke-width="10" stroke-linejoin="round">
<path fill="#fff" d="M150,250 L290,180 C315,180 335,185 350,195 C375,210 395,228 410,250 C425,272 435,295 440,320 C445,340 446,360 445,380 C442,398 438,410 430,420 L290,500 L150,400 Z"/>
<path d="M262,195 C320,215 370,290 385,360 C392,400 390,430 380,452 M300,182 C358,200 405,272 420,345 C426,385 424,410 414,432 M225,212 C282,232 335,305 350,378 C357,420 354,450 342,472 M190,232 C246,250 300,322 316,395 C322,435 320,465 308,490"/>
<ellipse cx="224" cy="372" rx="88" ry="132" transform="rotate(-20 224 372)" fill="#fff"/>
<ellipse cx="224" cy="372" rx="78" ry="120" transform="rotate(-20 224 372)" stroke-width="7"/>
<path d="M175,315 L230,310 L280,370 L275,435 L220,445 L175,380 Z M230,310 L235,340 L275,390 M235,340 L185,378 M275,435 L270,400"/>
</g>

<g fill="none" stroke="#000" stroke-width="2.6" stroke-linecap="square" stroke-linejoin="miter"><path transform="translate(2903.4 112.3) scale(0.8592 0.8306)" vector-effect="non-scaling-stroke" d="M23.5,0 H1.2 V39 H23.5 M1.2,19 H17"/><path transform="translate(2932.0 112.3) scale(0.8592 0.8306)" vector-effect="non-scaling-stroke" d="M4.7,7.5 L13.5,0 V39"/><path transform="translate(2960.5 112.3) scale(0.8592 0.8306)" vector-effect="non-scaling-stroke" d="M0.6,0 H24.4 L6,39"/><path transform="translate(2989.1 112.3) scale(0.8592 0.8306)" vector-effect="non-scaling-stroke" d="M4.7,7.5 L13.5,0 V39"/><path transform="translate(3017.6 112.3) scale(0.8592 0.8306)" vector-effect="non-scaling-stroke" d="M12.5,0 C5,0 0.8,8 0.8,19.5 C0.8,31 5,39 12.5,39 C20,39 24.2,31 24.2,19.5 C24.2,8 20,0 12.5,0Z"/></g>
<g fill="none" stroke="#000" stroke-width="2.6" stroke-linecap="square" stroke-linejoin="miter"><path transform="translate(696.5 120.3) scale(0.9600 0.9280)" vector-effect="non-scaling-stroke" d="M1.5,0 H23.5 L11,15.5 C19,15.5 24.3,20 24.3,27 C24.3,34.5 19,39 12,39 C5.5,39 1.5,35.5 0.7,30.5"/><path transform="translate(729.6 120.3) scale(0.9600 0.9280)" vector-effect="non-scaling-stroke" d="M1.2,10 C1.2,4 5.5,0 12.5,0 C19.5,0 23.8,4 23.8,10 C23.8,15 21,18.5 16,23.5 L0.8,39 H24.5"/><path transform="translate(762.7 120.3) scale(0.9600 0.9280)" vector-effect="non-scaling-stroke" d="M4.7,7.5 L13.5,0 V39"/><path transform="translate(795.8 120.3) scale(0.9600 0.9280)" vector-effect="non-scaling-stroke" d="M22.5,0 H3.8 L2.2,17 C5,14.3 8,13.2 12,13.2 C19.5,13.2 24.3,18.5 24.3,26 C24.3,33.5 19.5,39 12,39 C5.5,39 1.5,35.5 0.7,30.5"/><path transform="translate(828.9 120.3) scale(0.9600 0.9280)" vector-effect="non-scaling-stroke" d="M18,39 V0 L0.6,27.5 H24.6"/></g>
<path d="M776,171 V287" stroke-width="2.7"/>
<g fill="none" stroke="#000" stroke-width="2.6" stroke-linecap="square" stroke-linejoin="miter"><path transform="translate(426.5 165.3) scale(0.9600 0.9280)" vector-effect="non-scaling-stroke" d="M24.2,12.5 C23.8,19.5 19,24 12.5,24 C5.5,24 0.7,19 0.7,12 C0.7,5 5.5,0 12.5,0 C20,0 24.2,6 24.2,17.5 C24.2,31 20,39 12,39 C8,39 4.5,37.2 2.5,33.5"/><path transform="translate(459.6 165.3) scale(0.9600 0.9280)" vector-effect="non-scaling-stroke" d="M1.2,10 C1.2,4 5.5,0 12.5,0 C19.5,0 23.8,4 23.8,10 C23.8,15 21,18.5 16,23.5 L0.8,39 H24.5"/><path transform="translate(492.7 165.3) scale(0.9600 0.9280)" vector-effect="non-scaling-stroke" d="M12.5,0 C5,0 0.8,8 0.8,19.5 C0.8,31 5,39 12.5,39 C20,39 24.2,31 24.2,19.5 C24.2,8 20,0 12.5,0Z"/><path transform="translate(525.8 165.3) scale(0.9600 0.9280)" vector-effect="non-scaling-stroke" d="M12.5,0 C5,0 0.8,8 0.8,19.5 C0.8,31 5,39 12.5,39 C20,39 24.2,31 24.2,19.5 C24.2,8 20,0 12.5,0Z"/><path transform="translate(558.9 165.3) scale(0.9600 0.9280)" vector-effect="non-scaling-stroke" d="M1.2,10 C1.2,4 5.5,0 12.5,0 C19.5,0 23.8,4 23.8,10 C23.8,15 21,18.5 16,23.5 L0.8,39 H24.5"/></g>
<path d="M505.5,216.5 V333" stroke-width="2.7"/>
<g fill="none" stroke="#000" stroke-width="2.6" stroke-linecap="square" stroke-linejoin="miter"><path transform="translate(633.0 763.3) scale(0.9600 0.9280)" vector-effect="non-scaling-stroke" d="M24.2,12.5 C23.8,19.5 19,24 12.5,24 C5.5,24 0.7,19 0.7,12 C0.7,5 5.5,0 12.5,0 C20,0 24.2,6 24.2,17.5 C24.2,31 20,39 12,39 C8,39 4.5,37.2 2.5,33.5"/><path transform="translate(666.1 763.3) scale(0.9600 0.9280)" vector-effect="non-scaling-stroke" d="M1.2,10 C1.2,4 5.5,0 12.5,0 C19.5,0 23.8,4 23.8,10 C23.8,15 21,18.5 16,23.5 L0.8,39 H24.5"/><path transform="translate(699.2 763.3) scale(0.9600 0.9280)" vector-effect="non-scaling-stroke" d="M12.5,0 C5,0 0.8,8 0.8,19.5 C0.8,31 5,39 12.5,39 C20,39 24.2,31 24.2,19.5 C24.2,8 20,0 12.5,0Z"/><path transform="translate(732.3 763.3) scale(0.9600 0.9280)" vector-effect="non-scaling-stroke" d="M12.5,0 C5,0 0.8,8 0.8,19.5 C0.8,31 5,39 12.5,39 C20,39 24.2,31 24.2,19.5 C24.2,8 20,0 12.5,0Z"/><path transform="translate(765.4 763.3) scale(0.9600 0.9280)" vector-effect="non-scaling-stroke" d="M1.2,10 C1.2,4 5.5,0 12.5,0 C19.5,0 23.8,4 23.8,10 C23.8,15 21,18.5 16,23.5 L0.8,39 H24.5"/></g>
<path d="M713,814 V921" stroke-width="2.7"/>
<g fill="none" stroke="#000" stroke-width="2.6" stroke-linecap="square" stroke-linejoin="miter"><path transform="translate(1460.5 585.3) scale(0.9600 0.9280)" vector-effect="non-scaling-stroke" d="M22.5,0 H3.8 L2.2,17 C5,14.3 8,13.2 12,13.2 C19.5,13.2 24.3,18.5 24.3,26 C24.3,33.5 19.5,39 12,39 C5.5,39 1.5,35.5 0.7,30.5"/><path transform="translate(1493.6 585.3) scale(0.9600 0.9280)" vector-effect="non-scaling-stroke" d="M1.2,10 C1.2,4 5.5,0 12.5,0 C19.5,0 23.8,4 23.8,10 C23.8,15 21,18.5 16,23.5 L0.8,39 H24.5"/><path transform="translate(1526.7 585.3) scale(0.9600 0.9280)" vector-effect="non-scaling-stroke" d="M12.5,0 C5,0 0.8,8 0.8,19.5 C0.8,31 5,39 12.5,39 C20,39 24.2,31 24.2,19.5 C24.2,8 20,0 12.5,0Z"/><path transform="translate(1559.8 585.3) scale(0.9600 0.9280)" vector-effect="non-scaling-stroke" d="M12.5,0 C5,0 0.8,8 0.8,19.5 C0.8,31 5,39 12.5,39 C20,39 24.2,31 24.2,19.5 C24.2,8 20,0 12.5,0Z"/><path transform="translate(1592.9 585.3) scale(0.9600 0.9280)" vector-effect="non-scaling-stroke" d="M22.5,0 H3.8 L2.2,17 C5,14.3 8,13.2 12,13.2 C19.5,13.2 24.3,18.5 24.3,26 C24.3,33.5 19.5,39 12,39 C5.5,39 1.5,35.5 0.7,30.5"/></g>
<path d="M1339,602.5 H1452.5" stroke-width="2.7"/>
<g fill="none" stroke="#000" stroke-width="2.6" stroke-linecap="square" stroke-linejoin="miter"><path transform="translate(2442.5 330.3) scale(0.9600 0.9280)" vector-effect="non-scaling-stroke" d="M4.7,7.5 L13.5,0 V39"/><path transform="translate(2475.6 330.3) scale(0.9600 0.9280)" vector-effect="non-scaling-stroke" d="M22.5,5.5 C20.5,1.8 17,0 13,0 C5,0 0.8,8 0.8,21.5 C0.8,33 5,39 12.5,39 C19.5,39 24.3,34 24.3,27 C24.3,20 19.5,15 12.5,15 C6,15 1.2,19.5 0.8,26.5"/><path transform="translate(2508.7 330.3) scale(0.9600 0.9280)" vector-effect="non-scaling-stroke" d="M12.5,0 C5,0 0.8,8 0.8,19.5 C0.8,31 5,39 12.5,39 C20,39 24.2,31 24.2,19.5 C24.2,8 20,0 12.5,0Z"/><path transform="translate(2541.8 330.3) scale(0.9600 0.9280)" vector-effect="non-scaling-stroke" d="M24.2,12.5 C23.8,19.5 19,24 12.5,24 C5.5,24 0.7,19 0.7,12 C0.7,5 5.5,0 12.5,0 C20,0 24.2,6 24.2,17.5 C24.2,31 20,39 12,39 C8,39 4.5,37.2 2.5,33.5"/><path transform="translate(2574.9 330.3) scale(0.9600 0.9280)" vector-effect="non-scaling-stroke" d="M0.6,0 H24.4 L6,39"/></g>
<path d="M2521.5,380 V492.5" stroke-width="2.7"/>
<g fill="none" stroke="#000" stroke-width="2.6" stroke-linecap="square" stroke-linejoin="miter"><path transform="translate(2110.0 983.8) scale(0.9600 0.9280)" vector-effect="non-scaling-stroke" d="M1,39 V0 H14 C22,0 26.5,4 26.5,10 C26.5,16 22,20 14,20 H1 M14,20 L26.5,39"/><path transform="translate(2143.1 983.8) scale(0.9600 0.9280)" vector-effect="non-scaling-stroke" d="M1.5,26 H24.5 C24.5,19 20,14 13,14 C6,14 1.5,19 1.5,26.5 C1.5,34 6,39 13,39 C18,39 22,37 24,33"/><path transform="translate(2176.2 983.8) scale(0.9600 0.9280)" vector-effect="non-scaling-stroke" d="M20,1.2 C18.5,0.2 17,0 15.5,0 C12,0 10.5,2.5 10.5,7 V39 M4.5,16 H20"/><path transform="translate(2209.3 983.8) scale(0.9600 0.9280)" vector-effect="non-scaling-stroke" fill="#000" d="M15.5,36 m-2.6,0 a2.6,2.6 0 1,0 5.2,0 a2.6,2.6 0 1,0 -5.2,0"/><path transform="translate(2242.4 983.8) scale(0.9600 0.9280)" vector-effect="non-scaling-stroke" d="M27.5,9.5 C25.5,3.5 21,0 15,0 C6,0 1,7 1,19.5 C1,32 6,39 15,39 C21,39 25.5,35.5 27.5,29.5"/><path transform="translate(2275.5 983.8) scale(0.9600 0.9280)" vector-effect="non-scaling-stroke" d="M13.7,14 C7,14 2.2,19 2.2,26.5 C2.2,34 7,39 13.7,39 C20.4,39 25.2,34 25.2,26.5 C25.2,19 20.4,14 13.7,14Z"/><path transform="translate(2308.6 983.8) scale(0.9600 0.9280)" vector-effect="non-scaling-stroke" d="M13.7,14 C7,14 2.2,19 2.2,26.5 C2.2,34 7,39 13.7,39 C20.4,39 25.2,34 25.2,26.5 C25.2,19 20.4,14 13.7,14Z"/><path transform="translate(2341.7 983.8) scale(0.9600 0.9280)" vector-effect="non-scaling-stroke" d="M16,0 V39"/><path transform="translate(2374.8 983.8) scale(0.9600 0.9280)" vector-effect="non-scaling-stroke" d="M14.6,14 V39 M14.6,4.5 V6.5"/><path transform="translate(2407.9 983.8) scale(0.9600 0.9280)" vector-effect="non-scaling-stroke" d="M4.5,14 V39 M4.5,21.5 C6.5,16.5 10.5,14 15,14 C21.5,14 24.8,17.5 24.8,24 V39"/><path transform="translate(2441.0 983.8) scale(0.9600 0.9280)" vector-effect="non-scaling-stroke" d="M25.3,14 V40 C25.3,47 21.5,50.5 14.5,50.5 C10.5,50.5 7.5,49.3 5.5,47 M25.3,26.5 C25.3,19 20.8,14 14.3,14 C7.8,14 3.3,19 3.3,26.5 C3.3,34 7.8,39 14.3,39 C20.8,39 25.3,34 25.3,26.5"/></g>
<path d="M2290.5,852 V967" stroke-width="2.7"/>
<g fill="none" stroke="#000" stroke-width="2.6" stroke-linecap="square" stroke-linejoin="miter"><path transform="translate(653.0 1288.8) scale(0.9600 0.9280)" vector-effect="non-scaling-stroke" d="M24.2,12.5 C23.8,19.5 19,24 12.5,24 C5.5,24 0.7,19 0.7,12 C0.7,5 5.5,0 12.5,0 C20,0 24.2,6 24.2,17.5 C24.2,31 20,39 12,39 C8,39 4.5,37.2 2.5,33.5"/><path transform="translate(686.1 1288.8) scale(0.9600 0.9280)" vector-effect="non-scaling-stroke" d="M1.2,10 C1.2,4 5.5,0 12.5,0 C19.5,0 23.8,4 23.8,10 C23.8,15 21,18.5 16,23.5 L0.8,39 H24.5"/><path transform="translate(719.2 1288.8) scale(0.9600 0.9280)" vector-effect="non-scaling-stroke" d="M12.5,0 C5,0 0.8,8 0.8,19.5 C0.8,31 5,39 12.5,39 C20,39 24.2,31 24.2,19.5 C24.2,8 20,0 12.5,0Z"/><path transform="translate(752.3 1288.8) scale(0.9600 0.9280)" vector-effect="non-scaling-stroke" d="M12.5,0 C5,0 0.8,8 0.8,19.5 C0.8,31 5,39 12.5,39 C20,39 24.2,31 24.2,19.5 C24.2,8 20,0 12.5,0Z"/><path transform="translate(785.4 1288.8) scale(0.9600 0.9280)" vector-effect="non-scaling-stroke" d="M1.2,10 C1.2,4 5.5,0 12.5,0 C19.5,0 23.8,4 23.8,10 C23.8,15 21,18.5 16,23.5 L0.8,39 H24.5"/></g>
<path d="M730,1340 V1452.5" stroke-width="2.7"/>
<g fill="none" stroke="#000" stroke-width="2.6" stroke-linecap="square" stroke-linejoin="miter"><path transform="translate(1493.5 1369.3) scale(0.9600 0.9280)" vector-effect="non-scaling-stroke" d="M1,39 V0 H14 C22,0 26.5,4 26.5,10 C26.5,16 22,20 14,20 H1 M14,20 L26.5,39"/><path transform="translate(1526.6 1369.3) scale(0.9600 0.9280)" vector-effect="non-scaling-stroke" d="M1.5,26 H24.5 C24.5,19 20,14 13,14 C6,14 1.5,19 1.5,26.5 C1.5,34 6,39 13,39 C18,39 22,37 24,33"/><path transform="translate(1559.7 1369.3) scale(0.9600 0.9280)" vector-effect="non-scaling-stroke" d="M20,1.2 C18.5,0.2 17,0 15.5,0 C12,0 10.5,2.5 10.5,7 V39 M4.5,16 H20"/><path transform="translate(1592.8 1369.3) scale(0.9600 0.9280)" vector-effect="non-scaling-stroke" fill="#000" d="M15.5,36 m-2.6,0 a2.6,2.6 0 1,0 5.2,0 a2.6,2.6 0 1,0 -5.2,0"/><path transform="translate(1625.9 1369.3) scale(0.9600 0.9280)" vector-effect="non-scaling-stroke" d="M15.8,0 C6,0 0.8,7 0.8,19.5 C0.8,32 6,39 15.8,39 C25.6,39 30.8,32 30.8,19.5 C30.8,7 25.6,0 15.8,0Z"/><path transform="translate(1659.0 1369.3) scale(0.9600 0.9280)" vector-effect="non-scaling-stroke" d="M14.6,14 V39 M14.6,4.5 V6.5"/><path transform="translate(1692.1 1369.3) scale(0.9600 0.9280)" vector-effect="non-scaling-stroke" d="M16,0 V39"/><path transform="translate(1758.3 1369.3) scale(0.9600 0.9280)" vector-effect="non-scaling-stroke" d="M2.5,39 V0 H16 C24,0 28.3,4 28.3,10.5 C28.3,17 24,21 16,21 H2.5"/><path transform="translate(1791.4 1369.3) scale(0.9600 0.9280)" vector-effect="non-scaling-stroke" d="M26.2,14 V39 M26.2,26.5 C26.2,19 21.5,14 15,14 C8,14 3,19 3,26.5 C3,34 8,39 15,39 C21.5,39 26.2,34 26.2,26.5"/><path transform="translate(1824.5 1369.3) scale(0.9600 0.9280)" vector-effect="non-scaling-stroke" d="M4.5,14 V39 M4.5,21.5 C6.5,16.5 10.5,14 15,14 C21.5,14 24.8,17.5 24.8,24 V39"/></g>
<path d="M1674,1420 V1536" stroke-width="2.7"/>
<g fill="none" stroke="#000" stroke-width="2.6" stroke-linecap="square" stroke-linejoin="miter"><path transform="translate(1035.5 1553.8) scale(0.9600 0.9280)" vector-effect="non-scaling-stroke" d="M24.2,12.5 C23.8,19.5 19,24 12.5,24 C5.5,24 0.7,19 0.7,12 C0.7,5 5.5,0 12.5,0 C20,0 24.2,6 24.2,17.5 C24.2,31 20,39 12,39 C8,39 4.5,37.2 2.5,33.5"/><path transform="translate(1068.6 1553.8) scale(0.9600 0.9280)" vector-effect="non-scaling-stroke" d="M1.2,10 C1.2,4 5.5,0 12.5,0 C19.5,0 23.8,4 23.8,10 C23.8,15 21,18.5 16,23.5 L0.8,39 H24.5"/><path transform="translate(1101.7 1553.8) scale(0.9600 0.9280)" vector-effect="non-scaling-stroke" d="M12.5,0 C5,0 0.8,8 0.8,19.5 C0.8,31 5,39 12.5,39 C20,39 24.2,31 24.2,19.5 C24.2,8 20,0 12.5,0Z"/><path transform="translate(1134.8 1553.8) scale(0.9600 0.9280)" vector-effect="non-scaling-stroke" d="M22.5,0 H3.8 L2.2,17 C5,14.3 8,13.2 12,13.2 C19.5,13.2 24.3,18.5 24.3,26 C24.3,33.5 19.5,39 12,39 C5.5,39 1.5,35.5 0.7,30.5"/><path transform="translate(1167.9 1553.8) scale(0.9600 0.9280)" vector-effect="non-scaling-stroke" d="M22.5,0 H3.8 L2.2,17 C5,14.3 8,13.2 12,13.2 C19.5,13.2 24.3,18.5 24.3,26 C24.3,33.5 19.5,39 12,39 C5.5,39 1.5,35.5 0.7,30.5"/></g>
<path d="M1115,1605 V1720" stroke-width="2.7"/>
<g transform="translate(450 310)"><g transform="scale(0.07097)" stroke-width="36" stroke-linejoin="round">
<path fill="#fff" d="M270,640 L330,460 L430,345 L610,265 L700,300 C800,290 900,330 935,430 C950,500 950,560 950,600 L1100,690 L1210,740 C1240,760 1250,800 1240,900 L1180,990 L1100,1060 L1000,1060 L770,930 C720,960 680,985 640,985 L510,985 L400,870 L270,710 Z"/>
<path d="M400,435 L480,460 L650,320 M400,435 L320,590 L310,680 L370,700 L480,460"/>
<path fill="#000" d="M650,320 L700,305 L600,470 L520,600 L465,760 L468,865 L420,865 L410,770 L420,680 L500,480 Z"/>
<path d="M730,370 C800,360 870,380 900,450 C915,500 915,550 915,580 M470,860 C490,920 530,950 580,950 C630,945 690,910 720,890"/>
<path d="M560,610 L690,500 L780,500 L900,575 M560,610 L550,740 L640,830 L720,880 M590,720 L620,630 L730,540 L800,580 M590,720 L660,800"/>
<path d="M905,615 C800,640 690,740 700,850 M990,670 C880,700 770,800 780,920 M1080,720 C980,750 880,850 890,980 M830,585 C760,610 690,680 670,760"/>
<path d="M1195,775 C1100,770 1010,860 1000,1010 M1090,915 L1120,890 L1185,945"/></g></g><g transform="translate(657 905.7)"><g transform="scale(0.07097)" stroke-width="36" stroke-linejoin="round">
<path fill="#fff" d="M270,640 L330,460 L430,345 L610,265 L700,300 C800,290 900,330 935,430 C950,500 950,560 950,600 L1100,690 L1210,740 C1240,760 1250,800 1240,900 L1180,990 L1100,1060 L1000,1060 L770,930 C720,960 680,985 640,985 L510,985 L400,870 L270,710 Z"/>
<path d="M400,435 L480,460 L650,320 M400,435 L320,590 L310,680 L370,700 L480,460"/>
<path fill="#000" d="M650,320 L700,305 L600,470 L520,600 L465,760 L468,865 L420,865 L410,770 L420,680 L500,480 Z"/>
<path d="M730,370 C800,360 870,380 900,450 C915,500 915,550 915,580 M470,860 C490,920 530,950 580,950 C630,945 690,910 720,890"/>
<path d="M560,610 L690,500 L780,500 L900,575 M560,610 L550,740 L640,830 L720,880 M590,720 L620,630 L730,540 L800,580 M590,720 L660,800"/>
<path d="M905,615 C800,640 690,740 700,850 M990,670 C880,700 770,800 780,920 M1080,720 C980,750 880,850 890,980 M830,585 C760,610 690,680 670,760"/>
<path d="M1195,775 C1100,770 1010,860 1000,1010 M1090,915 L1120,890 L1185,945"/></g></g><g transform="translate(673 1430)"><g transform="scale(0.07097)" stroke-width="36" stroke-linejoin="round">
<path fill="#fff" d="M270,640 L330,460 L430,345 L610,265 L700,300 C800,290 900,330 935,430 C950,500 950,560 950,600 L1100,690 L1210,740 C1240,760 1250,800 1240,900 L1180,990 L1100,1060 L1000,1060 L770,930 C720,960 680,985 640,985 L510,985 L400,870 L270,710 Z"/>
<path d="M400,435 L480,460 L650,320 M400,435 L320,590 L310,680 L370,700 L480,460"/>
<path fill="#000" d="M650,320 L700,305 L600,470 L520,600 L465,760 L468,865 L420,865 L410,770 L420,680 L500,480 Z"/>
<path d="M730,370 C800,360 870,380 900,450 C915,500 915,550 915,580 M470,860 C490,920 530,950 580,950 C630,945 690,910 720,890"/>
<path d="M560,610 L690,500 L780,500 L900,575 M560,610 L550,740 L640,830 L720,880 M590,720 L620,630 L730,540 L800,580 M590,720 L660,800"/>
<path d="M905,615 C800,640 690,740 700,850 M990,670 C880,700 770,800 780,920 M1080,720 C980,750 880,850 890,980 M830,585 C760,610 690,680 670,760"/>
<path d="M1195,775 C1100,770 1010,860 1000,1010 M1090,915 L1120,890 L1185,945"/></g></g>
<path d="M537.5,379 L659,448.5" stroke-width="2.7"/>
<path d="M741,975 L870.3,1048.3 V695" stroke-width="2.7"/>
<path d="M760,1497.5 L900,1580 M852.5,1557.5 L760,1598.5 L908.5,1686" stroke-width="2.7"/>
<circle cx="2381" cy="1683" r="42" stroke-width="3"/><g fill="none" stroke="#000" stroke-width="2.6" stroke-linecap="square" stroke-linejoin="miter"><path transform="translate(2368.8 1664.8) scale(0.9216 0.8909)" vector-effect="non-scaling-stroke" d="M0.5,39 L13,0 L25.5,39 M5,25 H21"/></g>
<g fill="none" stroke="#000" stroke-width="2.6" stroke-linecap="square" stroke-linejoin="miter"><path transform="translate(2912.5 1976.3) scale(0.9600 0.9280)" vector-effect="non-scaling-stroke" d="M4.7,7.5 L13.5,0 V39"/><path transform="translate(2945.6 1976.3) scale(0.9600 0.9280)" vector-effect="non-scaling-stroke" d="M1.5,0 H23.5 L11,15.5 C19,15.5 24.3,20 24.3,27 C24.3,34.5 19,39 12,39 C5.5,39 1.5,35.5 0.7,30.5"/><path transform="translate(2978.7 1976.3) scale(0.9600 0.9280)" vector-effect="non-scaling-stroke" d="M1.2,10 C1.2,4 5.5,0 12.5,0 C19.5,0 23.8,4 23.8,10 C23.8,15 21,18.5 16,23.5 L0.8,39 H24.5"/><path transform="translate(3011.8 1976.3) scale(0.9600 0.9280)" vector-effect="non-scaling-stroke" d="M0.6,0 H24.4 L6,39"/><path transform="translate(3044.9 1976.3) scale(0.9600 0.9280)" vector-effect="non-scaling-stroke" d="M1.2,10 C1.2,4 5.5,0 12.5,0 C19.5,0 23.8,4 23.8,10 C23.8,15 21,18.5 16,23.5 L0.8,39 H24.5"/></g>
<path d="M2987.6,2028 V2141.5" stroke-width="2.7"/>
<g fill="none" stroke="#000" stroke-width="2.6" stroke-linecap="square" stroke-linejoin="miter"><path transform="translate(2146.5 2286.3) scale(0.9600 0.9280)" vector-effect="non-scaling-stroke" d="M4.7,7.5 L13.5,0 V39"/><path transform="translate(2179.6 2286.3) scale(0.9600 0.9280)" vector-effect="non-scaling-stroke" d="M1.5,0 H23.5 L11,15.5 C19,15.5 24.3,20 24.3,27 C24.3,34.5 19,39 12,39 C5.5,39 1.5,35.5 0.7,30.5"/><path transform="translate(2212.7 2286.3) scale(0.9600 0.9280)" vector-effect="non-scaling-stroke" d="M1.2,10 C1.2,4 5.5,0 12.5,0 C19.5,0 23.8,4 23.8,10 C23.8,15 21,18.5 16,23.5 L0.8,39 H24.5"/></g>
<path d="M2244,2303 H2360" stroke-width="2.7"/>
<g transform="translate(2381.3 2229)"><g transform="scale(0.059524) translate(-862 -320)" stroke-width="44" stroke-linejoin="round">
<path fill="#fff" d="M510,1480 C530,1400 590,1350 660,1330 L660,430 C680,350 760,320 862,320 C960,320 1040,350 1050,430 L1050,1330 C1130,1345 1200,1400 1222,1480 L1225,1620 L1175,1700 L1170,1800 L1080,1900 L990,1960 L760,1960 L620,1890 L560,1720 L510,1630 Z"/>
<path d="M660,440 C690,520 760,545 862,545 C960,545 1030,520 1050,440"/>
<path d="M665,610 C700,700 770,730 862,730 C950,730 1020,700 1048,610 M665,785 C700,870 770,897 862,897 C950,897 1020,870 1048,785 M665,960 C700,1050 770,1077 862,1077 C950,1077 1020,1050 1048,960 M665,1135 C700,1225 770,1252 862,1252 C950,1252 1020,1225 1048,1135 M665,1310 C700,1400 770,1430 862,1430 C950,1430 1020,1400 1048,1310"/>
<path d="M660,1500 L760,1610 L960,1610 L1050,1530"/>
<path d="M515,1560 C560,1680 700,1760 870,1770 C1000,1765 1120,1720 1200,1640 M1100,1615 L1160,1590 L1195,1500"/>
<path d="M540,1640 C600,1690 700,1720 835,1722" stroke-width="60"/>
<path d="M650,1770 L665,1890 M930,1790 L930,1930 M1130,1740 L1130,1830"/></g></g>
<g fill="none" stroke="#000" stroke-width="2.6" stroke-linecap="square" stroke-linejoin="miter"><path transform="translate(430.5 1737.3) scale(0.9600 0.9280)" vector-effect="non-scaling-stroke" d="M24.2,12.5 C23.8,19.5 19,24 12.5,24 C5.5,24 0.7,19 0.7,12 C0.7,5 5.5,0 12.5,0 C20,0 24.2,6 24.2,17.5 C24.2,31 20,39 12,39 C8,39 4.5,37.2 2.5,33.5"/><path transform="translate(463.6 1737.3) scale(0.9600 0.9280)" vector-effect="non-scaling-stroke" d="M1.2,10 C1.2,4 5.5,0 12.5,0 C19.5,0 23.8,4 23.8,10 C23.8,15 21,18.5 16,23.5 L0.8,39 H24.5"/><path transform="translate(496.7 1737.3) scale(0.9600 0.9280)" vector-effect="non-scaling-stroke" d="M12.5,0 C5,0 0.8,8 0.8,19.5 C0.8,31 5,39 12.5,39 C20,39 24.2,31 24.2,19.5 C24.2,8 20,0 12.5,0Z"/><path transform="translate(529.8 1737.3) scale(0.9600 0.9280)" vector-effect="non-scaling-stroke" d="M22.5,0 H3.8 L2.2,17 C5,14.3 8,13.2 12,13.2 C19.5,13.2 24.3,18.5 24.3,26 C24.3,33.5 19.5,39 12,39 C5.5,39 1.5,35.5 0.7,30.5"/><path transform="translate(562.9 1737.3) scale(0.9600 0.9280)" vector-effect="non-scaling-stroke" d="M0.6,0 H24.4 L6,39"/></g>
<path d="M509,1787.5 V1900" stroke-width="2.7"/>
<g fill="none" stroke="#000" stroke-width="2.6" stroke-linecap="square" stroke-linejoin="miter"><path transform="translate(171.5 2018.8) scale(0.9600 0.9280)" vector-effect="non-scaling-stroke" d="M24.2,12.5 C23.8,19.5 19,24 12.5,24 C5.5,24 0.7,19 0.7,12 C0.7,5 5.5,0 12.5,0 C20,0 24.2,6 24.2,17.5 C24.2,31 20,39 12,39 C8,39 4.5,37.2 2.5,33.5"/><path transform="translate(204.6 2018.8) scale(0.9600 0.9280)" vector-effect="non-scaling-stroke" d="M1.2,10 C1.2,4 5.5,0 12.5,0 C19.5,0 23.8,4 23.8,10 C23.8,15 21,18.5 16,23.5 L0.8,39 H24.5"/><path transform="translate(237.7 2018.8) scale(0.9600 0.9280)" vector-effect="non-scaling-stroke" d="M1.2,10 C1.2,4 5.5,0 12.5,0 C19.5,0 23.8,4 23.8,10 C23.8,15 21,18.5 16,23.5 L0.8,39 H24.5"/><path transform="translate(270.8 2018.8) scale(0.9600 0.9280)" vector-effect="non-scaling-stroke" d="M12.5,0 C5,0 0.8,8 0.8,19.5 C0.8,31 5,39 12.5,39 C20,39 24.2,31 24.2,19.5 C24.2,8 20,0 12.5,0Z"/><path transform="translate(303.9 2018.8) scale(0.9600 0.9280)" vector-effect="non-scaling-stroke" d="M12.5,0 C5,0 0.8,8 0.8,19.5 C0.8,31 5,39 12.5,39 C20,39 24.2,31 24.2,19.5 C24.2,8 20,0 12.5,0Z"/></g>
<path d="M251.5,2070 V2184" stroke-width="2.7"/>
<g fill="none" stroke="#000" stroke-width="2.6" stroke-linecap="square" stroke-linejoin="miter"><path transform="translate(39.5 2308.8) scale(0.9600 0.9280)" vector-effect="non-scaling-stroke" d="M24.2,12.5 C23.8,19.5 19,24 12.5,24 C5.5,24 0.7,19 0.7,12 C0.7,5 5.5,0 12.5,0 C20,0 24.2,6 24.2,17.5 C24.2,31 20,39 12,39 C8,39 4.5,37.2 2.5,33.5"/><path transform="translate(72.6 2308.8) scale(0.9600 0.9280)" vector-effect="non-scaling-stroke" d="M1.2,10 C1.2,4 5.5,0 12.5,0 C19.5,0 23.8,4 23.8,10 C23.8,15 21,18.5 16,23.5 L0.8,39 H24.5"/><path transform="translate(105.7 2308.8) scale(0.9600 0.9280)" vector-effect="non-scaling-stroke" d="M4.7,7.5 L13.5,0 V39"/><path transform="translate(138.8 2308.8) scale(0.9600 0.9280)" vector-effect="non-scaling-stroke" d="M22.5,0 H3.8 L2.2,17 C5,14.3 8,13.2 12,13.2 C19.5,13.2 24.3,18.5 24.3,26 C24.3,33.5 19.5,39 12,39 C5.5,39 1.5,35.5 0.7,30.5"/><path transform="translate(171.9 2308.8) scale(0.9600 0.9280)" vector-effect="non-scaling-stroke" d="M18,39 V0 L0.6,27.5 H24.6"/></g>
<path d="M118.5,2180 V2292.5" stroke-width="2.7"/>
<path d="M240,2222.5 L356,2290 M437.5,2337.5 L467.5,2355" stroke-width="2.7"/>
<path d="M556,2405 L624,2446" stroke-width="2.7"/>
<path d="M520,2471 V2585" stroke-width="2.7"/>
<g fill="none" stroke="#000" stroke-width="2.6" stroke-linecap="square" stroke-linejoin="miter"><path transform="translate(889.5 2218.8) scale(0.9600 0.9280)" vector-effect="non-scaling-stroke" d="M24.2,12.5 C23.8,19.5 19,24 12.5,24 C5.5,24 0.7,19 0.7,12 C0.7,5 5.5,0 12.5,0 C20,0 24.2,6 24.2,17.5 C24.2,31 20,39 12,39 C8,39 4.5,37.2 2.5,33.5"/><path transform="translate(922.6 2218.8) scale(0.9600 0.9280)" vector-effect="non-scaling-stroke" d="M1.2,10 C1.2,4 5.5,0 12.5,0 C19.5,0 23.8,4 23.8,10 C23.8,15 21,18.5 16,23.5 L0.8,39 H24.5"/><path transform="translate(955.7 2218.8) scale(0.9600 0.9280)" vector-effect="non-scaling-stroke" d="M12.5,0 C5,0 0.8,8 0.8,19.5 C0.8,31 5,39 12.5,39 C20,39 24.2,31 24.2,19.5 C24.2,8 20,0 12.5,0Z"/><path transform="translate(988.8 2218.8) scale(0.9600 0.9280)" vector-effect="non-scaling-stroke" d="M18,39 V0 L0.6,27.5 H24.6"/><path transform="translate(1021.9 2218.8) scale(0.9600 0.9280)" vector-effect="non-scaling-stroke" d="M1.2,10 C1.2,4 5.5,0 12.5,0 C19.5,0 23.8,4 23.8,10 C23.8,15 21,18.5 16,23.5 L0.8,39 H24.5"/></g>
<path d="M769,2235 H880" stroke-width="2.7"/>
<path d="M758.8,2269 V2503" stroke-width="2.7"/>
<g fill="none" stroke="#000" stroke-width="2.6" stroke-linecap="square" stroke-linejoin="miter"><path transform="translate(818.3 2297.3) scale(0.9600 0.9280)" vector-effect="non-scaling-stroke" d="M4.7,7.5 L13.5,0 V39"/><path transform="translate(851.4 2297.3) scale(0.9600 0.9280)" vector-effect="non-scaling-stroke" d="M1.5,0 H23.5 L11,15.5 C19,15.5 24.3,20 24.3,27 C24.3,34.5 19,39 12,39 C5.5,39 1.5,35.5 0.7,30.5"/><path transform="translate(884.5 2297.3) scale(0.9600 0.9280)" vector-effect="non-scaling-stroke" d="M1.2,10 C1.2,4 5.5,0 12.5,0 C19.5,0 23.8,4 23.8,10 C23.8,15 21,18.5 16,23.5 L0.8,39 H24.5"/></g>
<path d="M865.3,2347.5 V2461" stroke-width="2.7"/>
<g fill="none" stroke="#000" stroke-width="2.6" stroke-linecap="square" stroke-linejoin="miter"><path transform="translate(935.8 2373.8) scale(0.9600 0.9280)" vector-effect="non-scaling-stroke" d="M4.7,7.5 L13.5,0 V39"/><path transform="translate(968.9 2373.8) scale(0.9600 0.9280)" vector-effect="non-scaling-stroke" d="M22.5,5.5 C20.5,1.8 17,0 13,0 C5,0 0.8,8 0.8,21.5 C0.8,33 5,39 12.5,39 C19.5,39 24.3,34 24.3,27 C24.3,20 19.5,15 12.5,15 C6,15 1.2,19.5 0.8,26.5"/><path transform="translate(1002.0 2373.8) scale(0.9600 0.9280)" vector-effect="non-scaling-stroke" d="M4.7,7.5 L13.5,0 V39"/><path transform="translate(1035.1 2373.8) scale(0.9600 0.9280)" vector-effect="non-scaling-stroke" d="M18,39 V0 L0.6,27.5 H24.6"/><path transform="translate(1068.2 2373.8) scale(0.9600 0.9280)" vector-effect="non-scaling-stroke" d="M1.2,10 C1.2,4 5.5,0 12.5,0 C19.5,0 23.8,4 23.8,10 C23.8,15 21,18.5 16,23.5 L0.8,39 H24.5"/></g>
<path d="M1014,2424 V2540" stroke-width="2.7"/>
<g fill="none" stroke="#000" stroke-width="2.6" stroke-linecap="square" stroke-linejoin="miter"><path transform="translate(1093.0 2476.3) scale(0.9600 0.9280)" vector-effect="non-scaling-stroke" d="M24.2,12.5 C23.8,19.5 19,24 12.5,24 C5.5,24 0.7,19 0.7,12 C0.7,5 5.5,0 12.5,0 C20,0 24.2,6 24.2,17.5 C24.2,31 20,39 12,39 C8,39 4.5,37.2 2.5,33.5"/><path transform="translate(1126.1 2476.3) scale(0.9600 0.9280)" vector-effect="non-scaling-stroke" d="M1.2,10 C1.2,4 5.5,0 12.5,0 C19.5,0 23.8,4 23.8,10 C23.8,15 21,18.5 16,23.5 L0.8,39 H24.5"/><path transform="translate(1159.2 2476.3) scale(0.9600 0.9280)" vector-effect="non-scaling-stroke" d="M12.5,0 C5,0 0.8,8 0.8,19.5 C0.8,31 5,39 12.5,39 C20,39 24.2,31 24.2,19.5 C24.2,8 20,0 12.5,0Z"/><path transform="translate(1192.3 2476.3) scale(0.9600 0.9280)" vector-effect="non-scaling-stroke" d="M22.5,0 H3.8 L2.2,17 C5,14.3 8,13.2 12,13.2 C19.5,13.2 24.3,18.5 24.3,26 C24.3,33.5 19.5,39 12,39 C5.5,39 1.5,35.5 0.7,30.5"/><path transform="translate(1225.4 2476.3) scale(0.9600 0.9280)" vector-effect="non-scaling-stroke" d="M22.5,0 H3.8 L2.2,17 C5,14.3 8,13.2 12,13.2 C19.5,13.2 24.3,18.5 24.3,26 C24.3,33.5 19.5,39 12,39 C5.5,39 1.5,35.5 0.7,30.5"/><path transform="translate(1258.5 2476.3) scale(0.9600 0.9280)" vector-effect="non-scaling-stroke" d="M1.5,0 V39 H15 C22.5,39 26.5,35 26.5,28.5 C26.5,22 22.5,19 15,19 H1.5 M15,19 C21.5,19 25,15.5 25,9.5 C25,3.5 21.5,0 15,0 H1.5"/></g>
<path d="M1187.5,2526 V2640" stroke-width="2.7"/>
<g fill="none" stroke="#000" stroke-width="2.6" stroke-linecap="square" stroke-linejoin="miter"><path transform="translate(658.3 2667.3) scale(0.9600 0.9280)" vector-effect="non-scaling-stroke" d="M4.7,7.5 L13.5,0 V39"/><path transform="translate(691.4 2667.3) scale(0.9600 0.9280)" vector-effect="non-scaling-stroke" d="M1.5,0 H23.5 L11,15.5 C19,15.5 24.3,20 24.3,27 C24.3,34.5 19,39 12,39 C5.5,39 1.5,35.5 0.7,30.5"/><path transform="translate(724.5 2667.3) scale(0.9600 0.9280)" vector-effect="non-scaling-stroke" d="M4.7,7.5 L13.5,0 V39"/><path transform="translate(757.6 2667.3) scale(0.9600 0.9280)" vector-effect="non-scaling-stroke" d="M12.5,0 C5,0 0.8,8 0.8,19.5 C0.8,31 5,39 12.5,39 C20,39 24.2,31 24.2,19.5 C24.2,8 20,0 12.5,0Z"/><path transform="translate(790.7 2667.3) scale(0.9600 0.9280)" vector-effect="non-scaling-stroke" d="M0.6,0 H24.4 L6,39"/></g>
<path d="M737,2537 V2647.5" stroke-width="2.7"/>
<g fill="none" stroke="#000" stroke-width="2.6" stroke-linecap="square" stroke-linejoin="miter"><path transform="translate(959.5 2938.8) scale(0.9600 0.9280)" vector-effect="non-scaling-stroke" d="M22.5,0 H3.8 L2.2,17 C5,14.3 8,13.2 12,13.2 C19.5,13.2 24.3,18.5 24.3,26 C24.3,33.5 19.5,39 12,39 C5.5,39 1.5,35.5 0.7,30.5"/><path transform="translate(992.6 2938.8) scale(0.9600 0.9280)" vector-effect="non-scaling-stroke" d="M22.5,0 H3.8 L2.2,17 C5,14.3 8,13.2 12,13.2 C19.5,13.2 24.3,18.5 24.3,26 C24.3,33.5 19.5,39 12,39 C5.5,39 1.5,35.5 0.7,30.5"/><path transform="translate(1025.7 2938.8) scale(0.9600 0.9280)" vector-effect="non-scaling-stroke" d="M4.7,7.5 L13.5,0 V39"/></g>
<path d="M1006,2811 V2921" stroke-width="2.7"/>
<g fill="none" stroke="#000" stroke-width="2.6" stroke-linecap="square" stroke-linejoin="miter"><path transform="translate(440.1 2600.9) scale(0.9600 0.9280)" vector-effect="non-scaling-stroke" d="M4.7,7.5 L13.5,0 V39"/><path transform="translate(473.2 2600.9) scale(0.9600 0.9280)" vector-effect="non-scaling-stroke" d="M1.2,10 C1.2,4 5.5,0 12.5,0 C19.5,0 23.8,4 23.8,10 C23.8,15 21,18.5 16,23.5 L0.8,39 H24.5"/><path transform="translate(506.3 2600.9) scale(0.9600 0.9280)" vector-effect="non-scaling-stroke" d="M12.5,0 C5,0 0.8,8 0.8,19.5 C0.8,31 5,39 12.5,39 C20,39 24.2,31 24.2,19.5 C24.2,8 20,0 12.5,0Z"/><path transform="translate(539.4 2600.9) scale(0.9600 0.9280)" vector-effect="non-scaling-stroke" d="M18,39 V0 L0.6,27.5 H24.6"/><path transform="translate(572.5 2600.9) scale(0.9600 0.9280)" vector-effect="non-scaling-stroke" d="M22.5,5.5 C20.5,1.8 17,0 13,0 C5,0 0.8,8 0.8,21.5 C0.8,33 5,39 12.5,39 C19.5,39 24.3,34 24.3,27 C24.3,20 19.5,15 12.5,15 C6,15 1.2,19.5 0.8,26.5"/></g>
<g fill="none" stroke="#000" stroke-width="2.6" stroke-linecap="square" stroke-linejoin="miter"><path transform="translate(1236.1 3128.8) scale(0.9600 0.9280)" vector-effect="non-scaling-stroke" d="M4.7,7.5 L13.5,0 V39"/><path transform="translate(1269.2 3128.8) scale(0.9600 0.9280)" vector-effect="non-scaling-stroke" d="M22.5,5.5 C20.5,1.8 17,0 13,0 C5,0 0.8,8 0.8,21.5 C0.8,33 5,39 12.5,39 C19.5,39 24.3,34 24.3,27 C24.3,20 19.5,15 12.5,15 C6,15 1.2,19.5 0.8,26.5"/><path transform="translate(1302.3 3128.8) scale(0.9600 0.9280)" vector-effect="non-scaling-stroke" d="M4.7,7.5 L13.5,0 V39"/><path transform="translate(1335.4 3128.8) scale(0.9600 0.9280)" vector-effect="non-scaling-stroke" d="M22.5,0 H3.8 L2.2,17 C5,14.3 8,13.2 12,13.2 C19.5,13.2 24.3,18.5 24.3,26 C24.3,33.5 19.5,39 12,39 C5.5,39 1.5,35.5 0.7,30.5"/><path transform="translate(1368.5 3128.8) scale(0.9600 0.9280)" vector-effect="non-scaling-stroke" d="M18,39 V0 L0.6,27.5 H24.6"/></g>
<g fill="none" stroke="#000" stroke-width="2.6" stroke-linecap="square" stroke-linejoin="miter"><path transform="translate(2397.3 2403.0) scale(0.9600 0.9280)" vector-effect="non-scaling-stroke" d="M4.7,7.5 L13.5,0 V39"/><path transform="translate(2430.4 2403.0) scale(0.9600 0.9280)" vector-effect="non-scaling-stroke" d="M22.5,5.5 C20.5,1.8 17,0 13,0 C5,0 0.8,8 0.8,21.5 C0.8,33 5,39 12.5,39 C19.5,39 24.3,34 24.3,27 C24.3,20 19.5,15 12.5,15 C6,15 1.2,19.5 0.8,26.5"/><path transform="translate(2463.5 2403.0) scale(0.9600 0.9280)" vector-effect="non-scaling-stroke" d="M4.7,7.5 L13.5,0 V39"/><path transform="translate(2496.6 2403.0) scale(0.9600 0.9280)" vector-effect="non-scaling-stroke" d="M1.5,0 H23.5 L11,15.5 C19,15.5 24.3,20 24.3,27 C24.3,34.5 19,39 12,39 C5.5,39 1.5,35.5 0.7,30.5"/><path transform="translate(2529.7 2403.0) scale(0.9600 0.9280)" vector-effect="non-scaling-stroke" d="M12.5,0 C5,0 0.8,8 0.8,19.5 C0.8,31 5,39 12.5,39 C20,39 24.2,31 24.2,19.5 C24.2,8 20,0 12.5,0Z"/></g>
<path d="M2476.5,2453.5 V2569" stroke-width="2.7"/>
<g fill="none" stroke="#000" stroke-width="2.6" stroke-linecap="square" stroke-linejoin="miter"><path transform="translate(2173.0 2472.8) scale(0.9600 0.9280)" vector-effect="non-scaling-stroke" d="M24.2,12.5 C23.8,19.5 19,24 12.5,24 C5.5,24 0.7,19 0.7,12 C0.7,5 5.5,0 12.5,0 C20,0 24.2,6 24.2,17.5 C24.2,31 20,39 12,39 C8,39 4.5,37.2 2.5,33.5"/><path transform="translate(2206.1 2472.8) scale(0.9600 0.9280)" vector-effect="non-scaling-stroke" d="M1.2,10 C1.2,4 5.5,0 12.5,0 C19.5,0 23.8,4 23.8,10 C23.8,15 21,18.5 16,23.5 L0.8,39 H24.5"/><path transform="translate(2239.2 2472.8) scale(0.9600 0.9280)" vector-effect="non-scaling-stroke" d="M12.5,0 C5,0 0.8,8 0.8,19.5 C0.8,31 5,39 12.5,39 C20,39 24.2,31 24.2,19.5 C24.2,8 20,0 12.5,0Z"/><path transform="translate(2272.3 2472.8) scale(0.9600 0.9280)" vector-effect="non-scaling-stroke" d="M18,39 V0 L0.6,27.5 H24.6"/><path transform="translate(2305.4 2472.8) scale(0.9600 0.9280)" vector-effect="non-scaling-stroke" d="M1.5,0 H23.5 L11,15.5 C19,15.5 24.3,20 24.3,27 C24.3,34.5 19,39 12,39 C5.5,39 1.5,35.5 0.7,30.5"/></g>
<path d="M2052.5,2490 H2165" stroke-width="2.7"/>
<g fill="none" stroke="#000" stroke-width="2.6" stroke-linecap="square" stroke-linejoin="miter"><path transform="translate(2179.5 2562.3) scale(0.9600 0.9280)" vector-effect="non-scaling-stroke" d="M22.5,5.5 C20.5,1.8 17,0 13,0 C5,0 0.8,8 0.8,21.5 C0.8,33 5,39 12.5,39 C19.5,39 24.3,34 24.3,27 C24.3,20 19.5,15 12.5,15 C6,15 1.2,19.5 0.8,26.5"/><path transform="translate(2212.6 2562.3) scale(0.9600 0.9280)" vector-effect="non-scaling-stroke" d="M0.6,0 H24.4 L6,39"/><path transform="translate(2245.7 2562.3) scale(0.9600 0.9280)" vector-effect="non-scaling-stroke" d="M12.5,0 C5,0 0.8,8 0.8,19.5 C0.8,31 5,39 12.5,39 C20,39 24.2,31 24.2,19.5 C24.2,8 20,0 12.5,0Z"/></g>
<path d="M2057.5,2579 H2172.5" stroke-width="2.7"/>
<path d="M2023,2610 V2795" stroke-width="2.7"/>
<g fill="none" stroke="#000" stroke-width="2.6" stroke-linecap="square" stroke-linejoin="miter"><path transform="translate(1744.5 2607.8) scale(0.9600 0.9280)" vector-effect="non-scaling-stroke" d="M22.5,0 H3.8 L2.2,17 C5,14.3 8,13.2 12,13.2 C19.5,13.2 24.3,18.5 24.3,26 C24.3,33.5 19.5,39 12,39 C5.5,39 1.5,35.5 0.7,30.5"/><path transform="translate(1777.6 2607.8) scale(0.9600 0.9280)" vector-effect="non-scaling-stroke" d="M22.5,0 H3.8 L2.2,17 C5,14.3 8,13.2 12,13.2 C19.5,13.2 24.3,18.5 24.3,26 C24.3,33.5 19.5,39 12,39 C5.5,39 1.5,35.5 0.7,30.5"/><path transform="translate(1810.7 2607.8) scale(0.9600 0.9280)" vector-effect="non-scaling-stroke" d="M4.7,7.5 L13.5,0 V39"/></g>
<path d="M1842.5,2626 H1955" stroke-width="2.7"/>
<path d="M1966,2661 V2792.5" stroke-width="2.7"/>
<g fill="none" stroke="#000" stroke-width="2.6" stroke-linecap="square" stroke-linejoin="miter"><path transform="translate(1513.3 2753.8) scale(0.9600 0.9280)" vector-effect="non-scaling-stroke" d="M4.7,7.5 L13.5,0 V39"/><path transform="translate(1546.4 2753.8) scale(0.9600 0.9280)" vector-effect="non-scaling-stroke" d="M1.5,0 H23.5 L11,15.5 C19,15.5 24.3,20 24.3,27 C24.3,34.5 19,39 12,39 C5.5,39 1.5,35.5 0.7,30.5"/><path transform="translate(1579.5 2753.8) scale(0.9600 0.9280)" vector-effect="non-scaling-stroke" d="M1.2,10 C1.2,4 5.5,0 12.5,0 C19.5,0 23.8,4 23.8,10 C23.8,15 21,18.5 16,23.5 L0.8,39 H24.5"/></g>
<path d="M1610,2770 H1725" stroke-width="2.7"/>
<g transform="translate(1737.5 2756)"><g transform="scale(0.059524) translate(-862 -320)" stroke-width="44" stroke-linejoin="round">
<path fill="#fff" d="M510,1480 C530,1400 590,1350 660,1330 L660,430 C680,350 760,320 862,320 C960,320 1040,350 1050,430 L1050,1330 C1130,1345 1200,1400 1222,1480 L1225,1620 L1175,1700 L1170,1800 L1080,1900 L990,1960 L760,1960 L620,1890 L560,1720 L510,1630 Z"/>
<path d="M660,440 C690,520 760,545 862,545 C960,545 1030,520 1050,440"/>
<path d="M665,610 C700,700 770,730 862,730 C950,730 1020,700 1048,610 M665,785 C700,870 770,897 862,897 C950,897 1020,870 1048,785 M665,960 C700,1050 770,1077 862,1077 C950,1077 1020,1050 1048,960 M665,1135 C700,1225 770,1252 862,1252 C950,1252 1020,1225 1048,1135 M665,1310 C700,1400 770,1430 862,1430 C950,1430 1020,1400 1048,1310"/>
<path d="M660,1500 L760,1610 L960,1610 L1050,1530"/>
<path d="M515,1560 C560,1680 700,1760 870,1770 C1000,1765 1120,1720 1200,1640 M1100,1615 L1160,1590 L1195,1500"/>
<path d="M540,1640 C600,1690 700,1720 835,1722" stroke-width="60"/>
<path d="M650,1770 L665,1890 M930,1790 L930,1930 M1130,1740 L1130,1830"/></g></g>
<path d="M1737.5,2756 V2706 L1884,2791" stroke-width="2.7"/>
<path d="M1480,2937.5 L1515,2959 L1665,2872.5 L1697.5,2891" stroke-width="2.7"/>
<path d="M2216.5,2878.5 V3120 L1972.5,2977.5" stroke-width="2.7"/>
<circle cx="2240" cy="3190" r="42" stroke-width="3"/><g fill="none" stroke="#000" stroke-width="2.6" stroke-linecap="square" stroke-linejoin="miter"><path transform="translate(2228.0 3171.8) scale(0.9216 0.8909)" vector-effect="non-scaling-stroke" d="M0.5,39 L13,0 L25.5,39 M5,25 H21"/></g>
<path d="M2240,3147.5 V3067.5" stroke-width="2.7"/>
<path d="M1575,3139 L1667.5,3085" stroke-width="2.7"/>
<g fill="none" stroke="#000" stroke-width="2.6" stroke-linecap="square" stroke-linejoin="miter"><path transform="translate(2346.4 2827.0) scale(0.9600 0.9280)" vector-effect="non-scaling-stroke" d="M22.5,0 H3.8 L2.2,17 C5,14.3 8,13.2 12,13.2 C19.5,13.2 24.3,18.5 24.3,26 C24.3,33.5 19.5,39 12,39 C5.5,39 1.5,35.5 0.7,30.5"/><path transform="translate(2379.5 2827.0) scale(0.9600 0.9280)" vector-effect="non-scaling-stroke" d="M22.5,0 H3.8 L2.2,17 C5,14.3 8,13.2 12,13.2 C19.5,13.2 24.3,18.5 24.3,26 C24.3,33.5 19.5,39 12,39 C5.5,39 1.5,35.5 0.7,30.5"/><path transform="translate(2412.6 2827.0) scale(0.9600 0.9280)" vector-effect="non-scaling-stroke" d="M4.7,7.5 L13.5,0 V39"/></g>
<path d="M2225.2,2844.3 H2339.7" stroke-width="2.7"/>
<g fill="none" stroke="#000" stroke-width="2.6" stroke-linecap="square" stroke-linejoin="miter"><path transform="translate(3011.5 2883.8) scale(0.9600 0.9280)" vector-effect="non-scaling-stroke" d="M22.5,0 H3.8 L2.2,17 C5,14.3 8,13.2 12,13.2 C19.5,13.2 24.3,18.5 24.3,26 C24.3,33.5 19.5,39 12,39 C5.5,39 1.5,35.5 0.7,30.5"/><path transform="translate(3044.6 2883.8) scale(0.9600 0.9280)" vector-effect="non-scaling-stroke" d="M22.5,0 H3.8 L2.2,17 C5,14.3 8,13.2 12,13.2 C19.5,13.2 24.3,18.5 24.3,26 C24.3,33.5 19.5,39 12,39 C5.5,39 1.5,35.5 0.7,30.5"/><path transform="translate(3077.7 2883.8) scale(0.9600 0.9280)" vector-effect="non-scaling-stroke" d="M4.7,7.5 L13.5,0 V39"/></g>
<path d="M2892.5,2901.5 H3002.5" stroke-width="2.7"/>
<g fill="none" stroke="#000" stroke-width="2.6" stroke-linecap="square" stroke-linejoin="miter"><path transform="translate(2558.0 2926.3) scale(0.9600 0.9280)" vector-effect="non-scaling-stroke" d="M22.5,0 H3.8 L2.2,17 C5,14.3 8,13.2 12,13.2 C19.5,13.2 24.3,18.5 24.3,26 C24.3,33.5 19.5,39 12,39 C5.5,39 1.5,35.5 0.7,30.5"/><path transform="translate(2591.1 2926.3) scale(0.9600 0.9280)" vector-effect="non-scaling-stroke" d="M22.5,0 H3.8 L2.2,17 C5,14.3 8,13.2 12,13.2 C19.5,13.2 24.3,18.5 24.3,26 C24.3,33.5 19.5,39 12,39 C5.5,39 1.5,35.5 0.7,30.5"/><path transform="translate(2624.2 2926.3) scale(0.9600 0.9280)" vector-effect="non-scaling-stroke" d="M4.7,7.5 L13.5,0 V39"/></g>
<path d="M2657.5,2943.5 H2770" stroke-width="2.7"/>
<path fill="#fff" d="M2872.5,2892 C2872.5,2885 2889,2885 2889,2892 V2915 C2889,2922 2872.5,2922 2872.5,2915 Z"/><path d="M2872.5,2892 C2874,2897 2887,2897 2889,2892" stroke-width="2"/>
<path fill="#fff" d="M2771.5,2928 C2771.5,2921 2788.5,2921 2788.5,2928 V2951 C2788.5,2958 2771.5,2958 2771.5,2951 Z"/><path d="M2771.5,2928 C2773,2933 2787,2933 2788.5,2928" stroke-width="2"/>
<g fill="none" stroke="#000" stroke-width="2.6" stroke-linecap="square" stroke-linejoin="miter"><path transform="translate(2979.8 3318.8) scale(0.9600 0.9280)" vector-effect="non-scaling-stroke" d="M4.7,7.5 L13.5,0 V39"/><path transform="translate(3012.9 3318.8) scale(0.9600 0.9280)" vector-effect="non-scaling-stroke" d="M18,39 V0 L0.6,27.5 H24.6"/><path transform="translate(3046.0 3318.8) scale(0.9600 0.9280)" vector-effect="non-scaling-stroke" d="M12.5,0 C5,0 0.8,8 0.8,19.5 C0.8,31 5,39 12.5,39 C20,39 24.2,31 24.2,19.5 C24.2,8 20,0 12.5,0Z"/><path transform="translate(3079.1 3318.8) scale(0.9600 0.9280)" vector-effect="non-scaling-stroke" d="M24.2,12.5 C23.8,19.5 19,24 12.5,24 C5.5,24 0.7,19 0.7,12 C0.7,5 5.5,0 12.5,0 C20,0 24.2,6 24.2,17.5 C24.2,31 20,39 12,39 C8,39 4.5,37.2 2.5,33.5"/><path transform="translate(3112.2 3318.8) scale(0.9600 0.9280)" vector-effect="non-scaling-stroke" d="M4.7,7.5 L13.5,0 V39"/></g>
<g fill="none" stroke="#000" stroke-width="2.6" stroke-linecap="square" stroke-linejoin="miter"><path transform="translate(2920.8 3582.3) scale(0.9600 0.9280)" vector-effect="non-scaling-stroke" d="M4.7,7.5 L13.5,0 V39"/><path transform="translate(2953.9 3582.3) scale(0.9600 0.9280)" vector-effect="non-scaling-stroke" d="M22.5,5.5 C20.5,1.8 17,0 13,0 C5,0 0.8,8 0.8,21.5 C0.8,33 5,39 12.5,39 C19.5,39 24.3,34 24.3,27 C24.3,20 19.5,15 12.5,15 C6,15 1.2,19.5 0.8,26.5"/><path transform="translate(2987.0 3582.3) scale(0.9600 0.9280)" vector-effect="non-scaling-stroke" d="M12.5,0 C5,0 0.8,8 0.8,19.5 C0.8,31 5,39 12.5,39 C20,39 24.2,31 24.2,19.5 C24.2,8 20,0 12.5,0Z"/><path transform="translate(3020.1 3582.3) scale(0.9600 0.9280)" vector-effect="non-scaling-stroke" d="M24.2,12.5 C23.8,19.5 19,24 12.5,24 C5.5,24 0.7,19 0.7,12 C0.7,5 5.5,0 12.5,0 C20,0 24.2,6 24.2,17.5 C24.2,31 20,39 12,39 C8,39 4.5,37.2 2.5,33.5"/><path transform="translate(3053.2 3582.3) scale(0.9600 0.9280)" vector-effect="non-scaling-stroke" d="M0.6,0 H24.4 L6,39"/><path transform="translate(3086.3 3582.3) scale(0.9600 0.9280)" vector-effect="non-scaling-stroke" d="M0.5,39 L13,0 L25.5,39 M5,25 H21"/></g>
<path d="M2800,3600 H2914" stroke-width="2.7"/>
<g fill="none" stroke="#000" stroke-width="2.6" stroke-linecap="square" stroke-linejoin="miter"><path transform="translate(2045.5 3630.3) scale(0.9600 0.9280)" vector-effect="non-scaling-stroke" d="M24.2,12.5 C23.8,19.5 19,24 12.5,24 C5.5,24 0.7,19 0.7,12 C0.7,5 5.5,0 12.5,0 C20,0 24.2,6 24.2,17.5 C24.2,31 20,39 12,39 C8,39 4.5,37.2 2.5,33.5"/><path transform="translate(2078.6 3630.3) scale(0.9600 0.9280)" vector-effect="non-scaling-stroke" d="M1.2,10 C1.2,4 5.5,0 12.5,0 C19.5,0 23.8,4 23.8,10 C23.8,15 21,18.5 16,23.5 L0.8,39 H24.5"/><path transform="translate(2111.7 3630.3) scale(0.9600 0.9280)" vector-effect="non-scaling-stroke" d="M12.5,0 C5,0 0.8,8 0.8,19.5 C0.8,31 5,39 12.5,39 C20,39 24.2,31 24.2,19.5 C24.2,8 20,0 12.5,0Z"/><path transform="translate(2144.8 3630.3) scale(0.9600 0.9280)" vector-effect="non-scaling-stroke" d="M22.5,0 H3.8 L2.2,17 C5,14.3 8,13.2 12,13.2 C19.5,13.2 24.3,18.5 24.3,26 C24.3,33.5 19.5,39 12,39 C5.5,39 1.5,35.5 0.7,30.5"/><path transform="translate(2177.9 3630.3) scale(0.9600 0.9280)" vector-effect="non-scaling-stroke" d="M22.5,0 H3.8 L2.2,17 C5,14.3 8,13.2 12,13.2 C19.5,13.2 24.3,18.5 24.3,26 C24.3,33.5 19.5,39 12,39 C5.5,39 1.5,35.5 0.7,30.5"/><path transform="translate(2211.0 3630.3) scale(0.9600 0.9280)" vector-effect="non-scaling-stroke" d="M0.5,39 L13,0 L25.5,39 M5,25 H21"/></g>
<g fill="none" stroke="#000" stroke-width="2.6" stroke-linecap="square" stroke-linejoin="miter"><path transform="translate(2098.3 3809.3) scale(0.9600 0.9280)" vector-effect="non-scaling-stroke" d="M4.7,7.5 L13.5,0 V39"/><path transform="translate(2131.4 3809.3) scale(0.9600 0.9280)" vector-effect="non-scaling-stroke" d="M1.5,0 H23.5 L11,15.5 C19,15.5 24.3,20 24.3,27 C24.3,34.5 19,39 12,39 C5.5,39 1.5,35.5 0.7,30.5"/><path transform="translate(2164.5 3809.3) scale(0.9600 0.9280)" vector-effect="non-scaling-stroke" d="M1.2,10 C1.2,4 5.5,0 12.5,0 C19.5,0 23.8,4 23.8,10 C23.8,15 21,18.5 16,23.5 L0.8,39 H24.5"/></g>
<path d="M2197.5,3825 H2312.5" stroke-width="2.7"/>
<g transform="translate(2333 3752.5)"><g transform="scale(0.059524) translate(-862 -320)" stroke-width="44" stroke-linejoin="round">
<path fill="#fff" d="M510,1480 C530,1400 590,1350 660,1330 L660,430 C680,350 760,320 862,320 C960,320 1040,350 1050,430 L1050,1330 C1130,1345 1200,1400 1222,1480 L1225,1620 L1175,1700 L1170,1800 L1080,1900 L990,1960 L760,1960 L620,1890 L560,1720 L510,1630 Z"/>
<path d="M660,440 C690,520 760,545 862,545 C960,545 1030,520 1050,440"/>
<path d="M665,610 C700,700 770,730 862,730 C950,730 1020,700 1048,610 M665,785 C700,870 770,897 862,897 C950,897 1020,870 1048,785 M665,960 C700,1050 770,1077 862,1077 C950,1077 1020,1050 1048,960 M665,1135 C700,1225 770,1252 862,1252 C950,1252 1020,1225 1048,1135 M665,1310 C700,1400 770,1430 862,1430 C950,1430 1020,1400 1048,1310"/>
<path d="M660,1500 L760,1610 L960,1610 L1050,1530"/>
<path d="M515,1560 C560,1680 700,1760 870,1770 C1000,1765 1120,1720 1200,1640 M1100,1615 L1160,1590 L1195,1500"/>
<path d="M540,1640 C600,1690 700,1720 835,1722" stroke-width="60"/>
<path d="M650,1770 L665,1890 M930,1790 L930,1930 M1130,1740 L1130,1830"/></g></g><g transform="translate(2617.5 3840)"><g transform="scale(0.059524) translate(-862 -320)" stroke-width="44" stroke-linejoin="round">
<path fill="#fff" d="M510,1480 C530,1400 590,1350 660,1330 L660,430 C680,350 760,320 862,320 C960,320 1040,350 1050,430 L1050,1330 C1130,1345 1200,1400 1222,1480 L1225,1620 L1175,1700 L1170,1800 L1080,1900 L990,1960 L760,1960 L620,1890 L560,1720 L510,1630 Z"/>
<path d="M660,440 C690,520 760,545 862,545 C960,545 1030,520 1050,440"/>
<path d="M665,610 C700,700 770,730 862,730 C950,730 1020,700 1048,610 M665,785 C700,870 770,897 862,897 C950,897 1020,870 1048,785 M665,960 C700,1050 770,1077 862,1077 C950,1077 1020,1050 1048,960 M665,1135 C700,1225 770,1252 862,1252 C950,1252 1020,1225 1048,1135 M665,1310 C700,1400 770,1430 862,1430 C950,1430 1020,1400 1048,1310"/>
<path d="M660,1500 L760,1610 L960,1610 L1050,1530"/>
<path d="M515,1560 C560,1680 700,1760 870,1770 C1000,1765 1120,1720 1200,1640 M1100,1615 L1160,1590 L1195,1500"/>
<path d="M540,1640 C600,1690 700,1720 835,1722" stroke-width="60"/>
<path d="M650,1770 L665,1890 M930,1790 L930,1930 M1130,1740 L1130,1830"/></g></g><g transform="translate(2866.3 3757.5)"><g transform="scale(0.059524) translate(-862 -320)" stroke-width="44" stroke-linejoin="round">
<path fill="#fff" d="M510,1480 C530,1400 590,1350 660,1330 L660,430 C680,350 760,320 862,320 C960,320 1040,350 1050,430 L1050,1330 C1130,1345 1200,1400 1222,1480 L1225,1620 L1175,1700 L1170,1800 L1080,1900 L990,1960 L760,1960 L620,1890 L560,1720 L510,1630 Z"/>
<path d="M660,440 C690,520 760,545 862,545 C960,545 1030,520 1050,440"/>
<path d="M665,610 C700,700 770,730 862,730 C950,730 1020,700 1048,610 M665,785 C700,870 770,897 862,897 C950,897 1020,870 1048,785 M665,960 C700,1050 770,1077 862,1077 C950,1077 1020,1050 1048,960 M665,1135 C700,1225 770,1252 862,1252 C950,1252 1020,1225 1048,1135 M665,1310 C700,1400 770,1430 862,1430 C950,1430 1020,1400 1048,1310"/>
<path d="M660,1500 L760,1610 L960,1610 L1050,1530"/>
<path d="M515,1560 C560,1680 700,1760 870,1770 C1000,1765 1120,1720 1200,1640 M1100,1615 L1160,1590 L1195,1500"/>
<path d="M540,1640 C600,1690 700,1720 835,1722" stroke-width="60"/>
<path d="M650,1770 L665,1890 M930,1790 L930,1930 M1130,1740 L1130,1830"/></g></g>
<g fill="none" stroke="#000" stroke-width="2.6" stroke-linecap="square" stroke-linejoin="miter"><path transform="translate(3011.9 3811.6) scale(0.9600 0.9280)" vector-effect="non-scaling-stroke" d="M4.7,7.5 L13.5,0 V39"/><path transform="translate(3045.0 3811.6) scale(0.9600 0.9280)" vector-effect="non-scaling-stroke" d="M1.5,0 H23.5 L11,15.5 C19,15.5 24.3,20 24.3,27 C24.3,34.5 19,39 12,39 C5.5,39 1.5,35.5 0.7,30.5"/><path transform="translate(3078.1 3811.6) scale(0.9600 0.9280)" vector-effect="non-scaling-stroke" d="M1.2,10 C1.2,4 5.5,0 12.5,0 C19.5,0 23.8,4 23.8,10 C23.8,15 21,18.5 16,23.5 L0.8,39 H24.5"/></g>
<path d="M2890,3828.4 H3003.6" stroke-width="2.7"/>
<path d="M2013.3,3261.5 V3427.5 L2332.7,3243.5 V3460" stroke-width="2.7"/>
<path d="M1941,3222 V3686.5 L1900,3659" stroke-width="2.7"/>
<g fill="none" stroke="#000" stroke-width="2.6" stroke-linecap="square" stroke-linejoin="miter"><path transform="translate(1380.8 3987.3) scale(0.9600 0.9280)" vector-effect="non-scaling-stroke" d="M4.7,7.5 L13.5,0 V39"/><path transform="translate(1413.9 3987.3) scale(0.9600 0.9280)" vector-effect="non-scaling-stroke" d="M1.5,0 H23.5 L11,15.5 C19,15.5 24.3,20 24.3,27 C24.3,34.5 19,39 12,39 C5.5,39 1.5,35.5 0.7,30.5"/><path transform="translate(1447.0 3987.3) scale(0.9600 0.9280)" vector-effect="non-scaling-stroke" d="M1.2,10 C1.2,4 5.5,0 12.5,0 C19.5,0 23.8,4 23.8,10 C23.8,15 21,18.5 16,23.5 L0.8,39 H24.5"/></g>
<path d="M1477.5,4004 H1592.5" stroke-width="2.7"/>
<g transform="translate(1615 3930)"><g transform="scale(0.059524) translate(-862 -320)" stroke-width="44" stroke-linejoin="round">
<path fill="#fff" d="M510,1480 C530,1400 590,1350 660,1330 L660,430 C680,350 760,320 862,320 C960,320 1040,350 1050,430 L1050,1330 C1130,1345 1200,1400 1222,1480 L1225,1620 L1175,1700 L1170,1800 L1080,1900 L990,1960 L760,1960 L620,1890 L560,1720 L510,1630 Z"/>
<path d="M660,440 C690,520 760,545 862,545 C960,545 1030,520 1050,440"/>
<path d="M665,610 C700,700 770,730 862,730 C950,730 1020,700 1048,610 M665,785 C700,870 770,897 862,897 C950,897 1020,870 1048,785 M665,960 C700,1050 770,1077 862,1077 C950,1077 1020,1050 1048,960 M665,1135 C700,1225 770,1252 862,1252 C950,1252 1020,1225 1048,1135 M665,1310 C700,1400 770,1430 862,1430 C950,1430 1020,1400 1048,1310"/>
<path d="M660,1500 L760,1610 L960,1610 L1050,1530"/>
<path d="M515,1560 C560,1680 700,1760 870,1770 C1000,1765 1120,1720 1200,1640 M1100,1615 L1160,1590 L1195,1500"/>
<path d="M540,1640 C600,1690 700,1720 835,1722" stroke-width="60"/>
<path d="M650,1770 L665,1890 M930,1790 L930,1930 M1130,1740 L1130,1830"/></g></g>
<g fill="none" stroke="#000" stroke-width="2.6" stroke-linecap="square" stroke-linejoin="miter"><path transform="translate(1462.3 3334.3) scale(0.9600 0.9280)" vector-effect="non-scaling-stroke" d="M24.2,12.5 C23.8,19.5 19,24 12.5,24 C5.5,24 0.7,19 0.7,12 C0.7,5 5.5,0 12.5,0 C20,0 24.2,6 24.2,17.5 C24.2,31 20,39 12,39 C8,39 4.5,37.2 2.5,33.5"/><path transform="translate(1495.4 3334.3) scale(0.9600 0.9280)" vector-effect="non-scaling-stroke" d="M1.2,10 C1.2,4 5.5,0 12.5,0 C19.5,0 23.8,4 23.8,10 C23.8,15 21,18.5 16,23.5 L0.8,39 H24.5"/><path transform="translate(1528.5 3334.3) scale(0.9600 0.9280)" vector-effect="non-scaling-stroke" d="M12.5,0 C5,0 0.8,8 0.8,19.5 C0.8,31 5,39 12.5,39 C20,39 24.2,31 24.2,19.5 C24.2,8 20,0 12.5,0Z"/><path transform="translate(1561.6 3334.3) scale(0.9600 0.9280)" vector-effect="non-scaling-stroke" d="M22.5,5.5 C20.5,1.8 17,0 13,0 C5,0 0.8,8 0.8,21.5 C0.8,33 5,39 12.5,39 C19.5,39 24.3,34 24.3,27 C24.3,20 19.5,15 12.5,15 C6,15 1.2,19.5 0.8,26.5"/><path transform="translate(1594.7 3334.3) scale(0.9600 0.9280)" vector-effect="non-scaling-stroke" d="M22.5,5.5 C20.5,1.8 17,0 13,0 C5,0 0.8,8 0.8,21.5 C0.8,33 5,39 12.5,39 C19.5,39 24.3,34 24.3,27 C24.3,20 19.5,15 12.5,15 C6,15 1.2,19.5 0.8,26.5"/></g>
<path d="M1541.2,3205 V3316.7" stroke-width="2.7"/>
<g fill="none" stroke="#000" stroke-width="2.6" stroke-linecap="square" stroke-linejoin="miter"><path transform="translate(1728.2 3257.6) scale(0.9600 0.9280)" vector-effect="non-scaling-stroke" d="M4.7,7.5 L13.5,0 V39"/><path transform="translate(1761.3 3257.6) scale(0.9600 0.9280)" vector-effect="non-scaling-stroke" d="M22.5,5.5 C20.5,1.8 17,0 13,0 C5,0 0.8,8 0.8,21.5 C0.8,33 5,39 12.5,39 C19.5,39 24.3,34 24.3,27 C24.3,20 19.5,15 12.5,15 C6,15 1.2,19.5 0.8,26.5"/><path transform="translate(1794.4 3257.6) scale(0.9600 0.9280)" vector-effect="non-scaling-stroke" d="M4.7,7.5 L13.5,0 V39"/><path transform="translate(1827.5 3257.6) scale(0.9600 0.9280)" vector-effect="non-scaling-stroke" d="M22.5,5.5 C20.5,1.8 17,0 13,0 C5,0 0.8,8 0.8,21.5 C0.8,33 5,39 12.5,39 C19.5,39 24.3,34 24.3,27 C24.3,20 19.5,15 12.5,15 C6,15 1.2,19.5 0.8,26.5"/><path transform="translate(1860.6 3257.6) scale(0.9600 0.9280)" vector-effect="non-scaling-stroke" d="M12.5,0 C5,0 0.8,8 0.8,19.5 C0.8,31 5,39 12.5,39 C20,39 24.2,31 24.2,19.5 C24.2,8 20,0 12.5,0Z"/></g>
<path d="M1807.8,3127.6 V3240.5" stroke-width="2.7"/>
<g fill="none" stroke="#000" stroke-width="2.6" stroke-linecap="square" stroke-linejoin="miter"><path transform="translate(2761.3 3895.6) scale(0.9600 0.9280)" vector-effect="non-scaling-stroke" d="M4.7,7.5 L13.5,0 V39"/><path transform="translate(2794.4 3895.6) scale(0.9600 0.9280)" vector-effect="non-scaling-stroke" d="M1.5,0 H23.5 L11,15.5 C19,15.5 24.3,20 24.3,27 C24.3,34.5 19,39 12,39 C5.5,39 1.5,35.5 0.7,30.5"/><path transform="translate(2827.5 3895.6) scale(0.9600 0.9280)" vector-effect="non-scaling-stroke" d="M1.2,10 C1.2,4 5.5,0 12.5,0 C19.5,0 23.8,4 23.8,10 C23.8,15 21,18.5 16,23.5 L0.8,39 H24.5"/></g>
<path d="M2640.2,3913.2 H2753" stroke-width="2.7"/>
<g fill="none" stroke="#000" stroke-width="2.6" stroke-linecap="square" stroke-linejoin="miter"><path transform="translate(915.0 3417.3) scale(0.9600 0.9280)" vector-effect="non-scaling-stroke" d="M4.7,7.5 L13.5,0 V39"/><path transform="translate(948.1 3417.3) scale(0.9600 0.9280)" vector-effect="non-scaling-stroke" d="M1.5,0 H23.5 L11,15.5 C19,15.5 24.3,20 24.3,27 C24.3,34.5 19,39 12,39 C5.5,39 1.5,35.5 0.7,30.5"/><path transform="translate(981.2 3417.3) scale(0.9600 0.9280)" vector-effect="non-scaling-stroke" d="M1.2,10 C1.2,4 5.5,0 12.5,0 C19.5,0 23.8,4 23.8,10 C23.8,15 21,18.5 16,23.5 L0.8,39 H24.5"/><path transform="translate(1014.3 3417.3) scale(0.9600 0.9280)" vector-effect="non-scaling-stroke" d="M0.6,0 H24.4 L6,39"/><path transform="translate(1047.4 3417.3) scale(0.9600 0.9280)" vector-effect="non-scaling-stroke" d="M1.2,10 C1.2,4 5.5,0 12.5,0 C19.5,0 23.8,4 23.8,10 C23.8,15 21,18.5 16,23.5 L0.8,39 H24.5"/><path transform="translate(1080.5 3417.3) scale(0.9600 0.9280)" vector-effect="non-scaling-stroke" d="M0.5,39 L13,0 L25.5,39 M5,25 H21"/></g>
<path d="M1113,3435 H1228" stroke-width="2.7"/>

</svg></body></html>
